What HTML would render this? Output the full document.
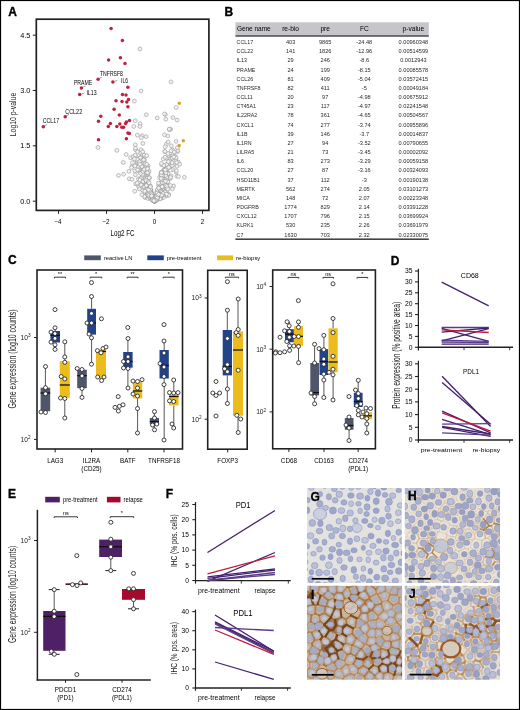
<!DOCTYPE html>
<html><head><meta charset="utf-8"><title>Figure</title><style>
html,body{margin:0;padding:0;background:#fff;width:520px;height:710px;overflow:hidden}
svg{display:block;will-change:transform}
text{font-family:"Liberation Sans",sans-serif}
</style></head><body>
<svg width="520" height="710" viewBox="0 0 520 710">
<defs><filter id="blur" x="-5%" y="-5%" width="110%" height="110%"><feGaussianBlur stdDeviation="0.65"/></filter></defs>
<rect x="0" y="0" width="520" height="710" fill="#fff"/>
<text x="8.3" y="15.9" font-size="12" text-anchor="start" font-weight="bold" fill="#000" stroke="#000" stroke-width="0.35">A</text>
<circle cx="150.8" cy="196.2" r="1.9" fill="#f2f2f2" stroke="#959595" stroke-width="0.6"/>
<circle cx="151.2" cy="193.9" r="1.9" fill="#f2f2f2" stroke="#959595" stroke-width="0.6"/>
<circle cx="141.1" cy="157.4" r="1.9" fill="#f2f2f2" stroke="#959595" stroke-width="0.6"/>
<circle cx="170.5" cy="167.2" r="1.9" fill="#f2f2f2" stroke="#959595" stroke-width="0.6"/>
<circle cx="169.4" cy="165.9" r="1.9" fill="#f2f2f2" stroke="#959595" stroke-width="0.6"/>
<circle cx="160.2" cy="191.0" r="1.9" fill="#f2f2f2" stroke="#959595" stroke-width="0.6"/>
<circle cx="130.5" cy="157.7" r="1.9" fill="#f2f2f2" stroke="#959595" stroke-width="0.6"/>
<circle cx="161.8" cy="190.0" r="1.9" fill="#f2f2f2" stroke="#959595" stroke-width="0.6"/>
<circle cx="158.9" cy="194.6" r="1.9" fill="#f2f2f2" stroke="#959595" stroke-width="0.6"/>
<circle cx="145.0" cy="194.3" r="1.9" fill="#f2f2f2" stroke="#959595" stroke-width="0.6"/>
<circle cx="162.5" cy="193.3" r="1.9" fill="#f2f2f2" stroke="#959595" stroke-width="0.6"/>
<circle cx="145.6" cy="164.3" r="1.9" fill="#f2f2f2" stroke="#959595" stroke-width="0.6"/>
<circle cx="149.5" cy="190.7" r="1.9" fill="#f2f2f2" stroke="#959595" stroke-width="0.6"/>
<circle cx="163.6" cy="183.5" r="1.9" fill="#f2f2f2" stroke="#959595" stroke-width="0.6"/>
<circle cx="148.1" cy="173.8" r="1.9" fill="#f2f2f2" stroke="#959595" stroke-width="0.6"/>
<circle cx="147.0" cy="194.0" r="1.9" fill="#f2f2f2" stroke="#959595" stroke-width="0.6"/>
<circle cx="142.9" cy="176.4" r="1.9" fill="#f2f2f2" stroke="#959595" stroke-width="0.6"/>
<circle cx="155.2" cy="200.7" r="1.9" fill="#f2f2f2" stroke="#959595" stroke-width="0.6"/>
<circle cx="145.0" cy="197.5" r="1.9" fill="#f2f2f2" stroke="#959595" stroke-width="0.6"/>
<circle cx="165.5" cy="184.7" r="1.9" fill="#f2f2f2" stroke="#959595" stroke-width="0.6"/>
<circle cx="154.9" cy="200.4" r="1.9" fill="#f2f2f2" stroke="#959595" stroke-width="0.6"/>
<circle cx="150.4" cy="193.6" r="1.9" fill="#f2f2f2" stroke="#959595" stroke-width="0.6"/>
<circle cx="148.0" cy="165.7" r="1.9" fill="#f2f2f2" stroke="#959595" stroke-width="0.6"/>
<circle cx="175.3" cy="157.1" r="1.9" fill="#f2f2f2" stroke="#959595" stroke-width="0.6"/>
<circle cx="159.6" cy="184.1" r="1.9" fill="#f2f2f2" stroke="#959595" stroke-width="0.6"/>
<circle cx="138.4" cy="178.9" r="1.9" fill="#f2f2f2" stroke="#959595" stroke-width="0.6"/>
<circle cx="170.4" cy="159.6" r="1.9" fill="#f2f2f2" stroke="#959595" stroke-width="0.6"/>
<circle cx="158.0" cy="196.2" r="1.9" fill="#f2f2f2" stroke="#959595" stroke-width="0.6"/>
<circle cx="177.5" cy="151.6" r="1.9" fill="#f2f2f2" stroke="#959595" stroke-width="0.6"/>
<circle cx="154.7" cy="201.0" r="1.9" fill="#f2f2f2" stroke="#959595" stroke-width="0.6"/>
<circle cx="158.6" cy="191.8" r="1.9" fill="#f2f2f2" stroke="#959595" stroke-width="0.6"/>
<circle cx="137.2" cy="162.4" r="1.9" fill="#f2f2f2" stroke="#959595" stroke-width="0.6"/>
<circle cx="151.9" cy="198.7" r="1.9" fill="#f2f2f2" stroke="#959595" stroke-width="0.6"/>
<circle cx="135.6" cy="183.9" r="1.9" fill="#f2f2f2" stroke="#959595" stroke-width="0.6"/>
<circle cx="162.4" cy="181.4" r="1.9" fill="#f2f2f2" stroke="#959595" stroke-width="0.6"/>
<circle cx="159.2" cy="195.2" r="1.9" fill="#f2f2f2" stroke="#959595" stroke-width="0.6"/>
<circle cx="156.2" cy="199.7" r="1.9" fill="#f2f2f2" stroke="#959595" stroke-width="0.6"/>
<circle cx="145.0" cy="170.0" r="1.9" fill="#f2f2f2" stroke="#959595" stroke-width="0.6"/>
<circle cx="169.5" cy="158.6" r="1.9" fill="#f2f2f2" stroke="#959595" stroke-width="0.6"/>
<circle cx="141.8" cy="184.6" r="1.9" fill="#f2f2f2" stroke="#959595" stroke-width="0.6"/>
<circle cx="158.8" cy="185.6" r="1.9" fill="#f2f2f2" stroke="#959595" stroke-width="0.6"/>
<circle cx="149.1" cy="192.1" r="1.9" fill="#f2f2f2" stroke="#959595" stroke-width="0.6"/>
<circle cx="151.1" cy="193.7" r="1.9" fill="#f2f2f2" stroke="#959595" stroke-width="0.6"/>
<circle cx="163.5" cy="184.2" r="1.9" fill="#f2f2f2" stroke="#959595" stroke-width="0.6"/>
<circle cx="161.4" cy="192.5" r="1.9" fill="#f2f2f2" stroke="#959595" stroke-width="0.6"/>
<circle cx="154.8" cy="200.7" r="1.9" fill="#f2f2f2" stroke="#959595" stroke-width="0.6"/>
<circle cx="158.4" cy="195.5" r="1.9" fill="#f2f2f2" stroke="#959595" stroke-width="0.6"/>
<circle cx="152.4" cy="197.8" r="1.9" fill="#f2f2f2" stroke="#959595" stroke-width="0.6"/>
<circle cx="154.3" cy="201.0" r="1.9" fill="#f2f2f2" stroke="#959595" stroke-width="0.6"/>
<circle cx="149.7" cy="193.8" r="1.9" fill="#f2f2f2" stroke="#959595" stroke-width="0.6"/>
<circle cx="138.3" cy="161.3" r="1.9" fill="#f2f2f2" stroke="#959595" stroke-width="0.6"/>
<circle cx="160.2" cy="191.3" r="1.9" fill="#f2f2f2" stroke="#959595" stroke-width="0.6"/>
<circle cx="148.3" cy="192.9" r="1.9" fill="#f2f2f2" stroke="#959595" stroke-width="0.6"/>
<circle cx="158.6" cy="190.3" r="1.9" fill="#f2f2f2" stroke="#959595" stroke-width="0.6"/>
<circle cx="146.5" cy="182.0" r="1.9" fill="#f2f2f2" stroke="#959595" stroke-width="0.6"/>
<circle cx="151.3" cy="195.0" r="1.9" fill="#f2f2f2" stroke="#959595" stroke-width="0.6"/>
<circle cx="148.7" cy="192.4" r="1.9" fill="#f2f2f2" stroke="#959595" stroke-width="0.6"/>
<circle cx="156.9" cy="191.9" r="1.9" fill="#f2f2f2" stroke="#959595" stroke-width="0.6"/>
<circle cx="156.8" cy="194.1" r="1.9" fill="#f2f2f2" stroke="#959595" stroke-width="0.6"/>
<circle cx="158.9" cy="198.4" r="1.9" fill="#f2f2f2" stroke="#959595" stroke-width="0.6"/>
<circle cx="157.0" cy="199.0" r="1.9" fill="#f2f2f2" stroke="#959595" stroke-width="0.6"/>
<circle cx="152.3" cy="197.9" r="1.9" fill="#f2f2f2" stroke="#959595" stroke-width="0.6"/>
<circle cx="166.0" cy="174.8" r="1.9" fill="#f2f2f2" stroke="#959595" stroke-width="0.6"/>
<circle cx="153.2" cy="200.3" r="1.9" fill="#f2f2f2" stroke="#959595" stroke-width="0.6"/>
<circle cx="147.8" cy="191.3" r="1.9" fill="#f2f2f2" stroke="#959595" stroke-width="0.6"/>
<circle cx="155.9" cy="199.6" r="1.9" fill="#f2f2f2" stroke="#959595" stroke-width="0.6"/>
<circle cx="160.2" cy="196.3" r="1.9" fill="#f2f2f2" stroke="#959595" stroke-width="0.6"/>
<circle cx="172.7" cy="169.5" r="1.9" fill="#f2f2f2" stroke="#959595" stroke-width="0.6"/>
<circle cx="145.6" cy="181.7" r="1.9" fill="#f2f2f2" stroke="#959595" stroke-width="0.6"/>
<circle cx="157.7" cy="191.1" r="1.9" fill="#f2f2f2" stroke="#959595" stroke-width="0.6"/>
<circle cx="142.9" cy="182.6" r="1.9" fill="#f2f2f2" stroke="#959595" stroke-width="0.6"/>
<circle cx="160.3" cy="192.3" r="1.9" fill="#f2f2f2" stroke="#959595" stroke-width="0.6"/>
<circle cx="147.1" cy="172.5" r="1.9" fill="#f2f2f2" stroke="#959595" stroke-width="0.6"/>
<circle cx="147.2" cy="183.4" r="1.9" fill="#f2f2f2" stroke="#959595" stroke-width="0.6"/>
<circle cx="157.2" cy="198.2" r="1.9" fill="#f2f2f2" stroke="#959595" stroke-width="0.6"/>
<circle cx="151.7" cy="197.9" r="1.9" fill="#f2f2f2" stroke="#959595" stroke-width="0.6"/>
<circle cx="144.9" cy="170.2" r="1.9" fill="#f2f2f2" stroke="#959595" stroke-width="0.6"/>
<circle cx="147.8" cy="189.4" r="1.9" fill="#f2f2f2" stroke="#959595" stroke-width="0.6"/>
<circle cx="165.9" cy="157.8" r="1.9" fill="#f2f2f2" stroke="#959595" stroke-width="0.6"/>
<circle cx="136.1" cy="156.6" r="1.9" fill="#f2f2f2" stroke="#959595" stroke-width="0.6"/>
<circle cx="126.2" cy="154.5" r="1.9" fill="#f2f2f2" stroke="#959595" stroke-width="0.6"/>
<circle cx="137.3" cy="135.1" r="1.9" fill="#f2f2f2" stroke="#959595" stroke-width="0.6"/>
<circle cx="146.0" cy="184.8" r="1.9" fill="#f2f2f2" stroke="#959595" stroke-width="0.6"/>
<circle cx="146.5" cy="192.7" r="1.9" fill="#f2f2f2" stroke="#959595" stroke-width="0.6"/>
<circle cx="144.4" cy="170.6" r="1.9" fill="#f2f2f2" stroke="#959595" stroke-width="0.6"/>
<circle cx="150.3" cy="198.4" r="1.9" fill="#f2f2f2" stroke="#959595" stroke-width="0.6"/>
<circle cx="137.5" cy="162.3" r="1.9" fill="#f2f2f2" stroke="#959595" stroke-width="0.6"/>
<circle cx="164.9" cy="169.3" r="1.9" fill="#f2f2f2" stroke="#959595" stroke-width="0.6"/>
<circle cx="158.7" cy="190.4" r="1.9" fill="#f2f2f2" stroke="#959595" stroke-width="0.6"/>
<circle cx="165.7" cy="184.9" r="1.9" fill="#f2f2f2" stroke="#959595" stroke-width="0.6"/>
<circle cx="164.1" cy="183.2" r="1.9" fill="#f2f2f2" stroke="#959595" stroke-width="0.6"/>
<circle cx="173.7" cy="164.6" r="1.9" fill="#f2f2f2" stroke="#959595" stroke-width="0.6"/>
<circle cx="167.4" cy="188.1" r="1.9" fill="#f2f2f2" stroke="#959595" stroke-width="0.6"/>
<circle cx="150.2" cy="190.0" r="1.9" fill="#f2f2f2" stroke="#959595" stroke-width="0.6"/>
<circle cx="161.3" cy="198.2" r="1.9" fill="#f2f2f2" stroke="#959595" stroke-width="0.6"/>
<circle cx="141.1" cy="179.8" r="1.9" fill="#f2f2f2" stroke="#959595" stroke-width="0.6"/>
<circle cx="138.7" cy="170.0" r="1.9" fill="#f2f2f2" stroke="#959595" stroke-width="0.6"/>
<circle cx="149.5" cy="194.3" r="1.9" fill="#f2f2f2" stroke="#959595" stroke-width="0.6"/>
<circle cx="144.9" cy="192.9" r="1.9" fill="#f2f2f2" stroke="#959595" stroke-width="0.6"/>
<circle cx="172.7" cy="150.0" r="1.9" fill="#f2f2f2" stroke="#959595" stroke-width="0.6"/>
<circle cx="167.3" cy="169.3" r="1.9" fill="#f2f2f2" stroke="#959595" stroke-width="0.6"/>
<circle cx="142.2" cy="135.7" r="1.9" fill="#f2f2f2" stroke="#959595" stroke-width="0.6"/>
<circle cx="163.4" cy="186.5" r="1.9" fill="#f2f2f2" stroke="#959595" stroke-width="0.6"/>
<circle cx="164.9" cy="186.7" r="1.9" fill="#f2f2f2" stroke="#959595" stroke-width="0.6"/>
<circle cx="173.6" cy="186.0" r="1.9" fill="#f2f2f2" stroke="#959595" stroke-width="0.6"/>
<circle cx="175.1" cy="156.4" r="1.9" fill="#f2f2f2" stroke="#959595" stroke-width="0.6"/>
<circle cx="156.4" cy="197.0" r="1.9" fill="#f2f2f2" stroke="#959595" stroke-width="0.6"/>
<circle cx="157.8" cy="193.9" r="1.9" fill="#f2f2f2" stroke="#959595" stroke-width="0.6"/>
<circle cx="164.8" cy="151.7" r="1.9" fill="#f2f2f2" stroke="#959595" stroke-width="0.6"/>
<circle cx="166.6" cy="184.9" r="1.9" fill="#f2f2f2" stroke="#959595" stroke-width="0.6"/>
<circle cx="155.0" cy="200.6" r="1.9" fill="#f2f2f2" stroke="#959595" stroke-width="0.6"/>
<circle cx="156.9" cy="197.6" r="1.9" fill="#f2f2f2" stroke="#959595" stroke-width="0.6"/>
<circle cx="158.2" cy="197.1" r="1.9" fill="#f2f2f2" stroke="#959595" stroke-width="0.6"/>
<circle cx="146.3" cy="194.9" r="1.9" fill="#f2f2f2" stroke="#959595" stroke-width="0.6"/>
<circle cx="150.3" cy="197.3" r="1.9" fill="#f2f2f2" stroke="#959595" stroke-width="0.6"/>
<circle cx="160.3" cy="194.3" r="1.9" fill="#f2f2f2" stroke="#959595" stroke-width="0.6"/>
<circle cx="165.4" cy="175.7" r="1.9" fill="#f2f2f2" stroke="#959595" stroke-width="0.6"/>
<circle cx="160.6" cy="194.9" r="1.9" fill="#f2f2f2" stroke="#959595" stroke-width="0.6"/>
<circle cx="160.8" cy="186.3" r="1.9" fill="#f2f2f2" stroke="#959595" stroke-width="0.6"/>
<circle cx="160.9" cy="173.7" r="1.9" fill="#f2f2f2" stroke="#959595" stroke-width="0.6"/>
<circle cx="139.5" cy="188.1" r="1.9" fill="#f2f2f2" stroke="#959595" stroke-width="0.6"/>
<circle cx="149.0" cy="171.1" r="1.9" fill="#f2f2f2" stroke="#959595" stroke-width="0.6"/>
<circle cx="143.5" cy="182.5" r="1.9" fill="#f2f2f2" stroke="#959595" stroke-width="0.6"/>
<circle cx="161.7" cy="187.5" r="1.9" fill="#f2f2f2" stroke="#959595" stroke-width="0.6"/>
<circle cx="175.9" cy="159.9" r="1.9" fill="#f2f2f2" stroke="#959595" stroke-width="0.6"/>
<circle cx="154.2" cy="200.9" r="1.9" fill="#f2f2f2" stroke="#959595" stroke-width="0.6"/>
<circle cx="178.3" cy="162.1" r="1.9" fill="#f2f2f2" stroke="#959595" stroke-width="0.6"/>
<circle cx="155.1" cy="200.6" r="1.9" fill="#f2f2f2" stroke="#959595" stroke-width="0.6"/>
<circle cx="146.3" cy="184.7" r="1.9" fill="#f2f2f2" stroke="#959595" stroke-width="0.6"/>
<circle cx="143.9" cy="179.6" r="1.9" fill="#f2f2f2" stroke="#959595" stroke-width="0.6"/>
<circle cx="144.2" cy="171.2" r="1.9" fill="#f2f2f2" stroke="#959595" stroke-width="0.6"/>
<circle cx="166.6" cy="164.4" r="1.9" fill="#f2f2f2" stroke="#959595" stroke-width="0.6"/>
<circle cx="154.1" cy="200.6" r="1.9" fill="#f2f2f2" stroke="#959595" stroke-width="0.6"/>
<circle cx="142.5" cy="183.6" r="1.9" fill="#f2f2f2" stroke="#959595" stroke-width="0.6"/>
<circle cx="144.9" cy="177.9" r="1.9" fill="#f2f2f2" stroke="#959595" stroke-width="0.6"/>
<circle cx="153.1" cy="198.8" r="1.9" fill="#f2f2f2" stroke="#959595" stroke-width="0.6"/>
<circle cx="153.9" cy="200.5" r="1.9" fill="#f2f2f2" stroke="#959595" stroke-width="0.6"/>
<circle cx="151.1" cy="195.6" r="1.9" fill="#f2f2f2" stroke="#959595" stroke-width="0.6"/>
<circle cx="166.6" cy="172.2" r="1.9" fill="#f2f2f2" stroke="#959595" stroke-width="0.6"/>
<circle cx="156.6" cy="199.6" r="1.9" fill="#f2f2f2" stroke="#959595" stroke-width="0.6"/>
<circle cx="144.7" cy="185.6" r="1.9" fill="#f2f2f2" stroke="#959595" stroke-width="0.6"/>
<circle cx="162.7" cy="182.1" r="1.9" fill="#f2f2f2" stroke="#959595" stroke-width="0.6"/>
<circle cx="165.7" cy="186.9" r="1.9" fill="#f2f2f2" stroke="#959595" stroke-width="0.6"/>
<circle cx="155.0" cy="200.6" r="1.9" fill="#f2f2f2" stroke="#959595" stroke-width="0.6"/>
<circle cx="163.6" cy="188.3" r="1.9" fill="#f2f2f2" stroke="#959595" stroke-width="0.6"/>
<circle cx="176.1" cy="172.1" r="1.9" fill="#f2f2f2" stroke="#959595" stroke-width="0.6"/>
<circle cx="147.5" cy="167.7" r="1.9" fill="#f2f2f2" stroke="#959595" stroke-width="0.6"/>
<circle cx="176.0" cy="157.7" r="1.9" fill="#f2f2f2" stroke="#959595" stroke-width="0.6"/>
<circle cx="154.4" cy="201.1" r="1.9" fill="#f2f2f2" stroke="#959595" stroke-width="0.6"/>
<circle cx="152.2" cy="199.7" r="1.9" fill="#f2f2f2" stroke="#959595" stroke-width="0.6"/>
<circle cx="161.1" cy="196.3" r="1.9" fill="#f2f2f2" stroke="#959595" stroke-width="0.6"/>
<circle cx="161.1" cy="192.0" r="1.9" fill="#f2f2f2" stroke="#959595" stroke-width="0.6"/>
<circle cx="154.0" cy="199.8" r="1.9" fill="#f2f2f2" stroke="#959595" stroke-width="0.6"/>
<circle cx="152.4" cy="197.5" r="1.9" fill="#f2f2f2" stroke="#959595" stroke-width="0.6"/>
<circle cx="165.1" cy="180.2" r="1.9" fill="#f2f2f2" stroke="#959595" stroke-width="0.6"/>
<circle cx="150.1" cy="197.1" r="1.9" fill="#f2f2f2" stroke="#959595" stroke-width="0.6"/>
<circle cx="138.8" cy="163.0" r="1.9" fill="#f2f2f2" stroke="#959595" stroke-width="0.6"/>
<circle cx="176.9" cy="176.3" r="1.9" fill="#f2f2f2" stroke="#959595" stroke-width="0.6"/>
<circle cx="167.0" cy="195.9" r="1.9" fill="#f2f2f2" stroke="#959595" stroke-width="0.6"/>
<circle cx="157.0" cy="196.6" r="1.9" fill="#f2f2f2" stroke="#959595" stroke-width="0.6"/>
<circle cx="143.7" cy="178.8" r="1.9" fill="#f2f2f2" stroke="#959595" stroke-width="0.6"/>
<circle cx="163.2" cy="197.0" r="1.9" fill="#f2f2f2" stroke="#959595" stroke-width="0.6"/>
<circle cx="159.1" cy="197.2" r="1.9" fill="#f2f2f2" stroke="#959595" stroke-width="0.6"/>
<circle cx="165.5" cy="187.4" r="1.9" fill="#f2f2f2" stroke="#959595" stroke-width="0.6"/>
<circle cx="161.8" cy="183.3" r="1.9" fill="#f2f2f2" stroke="#959595" stroke-width="0.6"/>
<circle cx="161.8" cy="164.9" r="1.9" fill="#f2f2f2" stroke="#959595" stroke-width="0.6"/>
<circle cx="167.8" cy="136.0" r="1.9" fill="#f2f2f2" stroke="#959595" stroke-width="0.6"/>
<circle cx="171.2" cy="150.8" r="1.9" fill="#f2f2f2" stroke="#959595" stroke-width="0.6"/>
<circle cx="152.0" cy="197.9" r="1.9" fill="#f2f2f2" stroke="#959595" stroke-width="0.6"/>
<circle cx="147.5" cy="192.1" r="1.9" fill="#f2f2f2" stroke="#959595" stroke-width="0.6"/>
<circle cx="155.0" cy="200.4" r="1.9" fill="#f2f2f2" stroke="#959595" stroke-width="0.6"/>
<circle cx="178.5" cy="176.5" r="1.9" fill="#f2f2f2" stroke="#959595" stroke-width="0.6"/>
<circle cx="151.1" cy="197.6" r="1.9" fill="#f2f2f2" stroke="#959595" stroke-width="0.6"/>
<circle cx="143.0" cy="156.7" r="1.9" fill="#f2f2f2" stroke="#959595" stroke-width="0.6"/>
<circle cx="153.8" cy="200.2" r="1.9" fill="#f2f2f2" stroke="#959595" stroke-width="0.6"/>
<circle cx="176.4" cy="170.7" r="1.9" fill="#f2f2f2" stroke="#959595" stroke-width="0.6"/>
<circle cx="147.0" cy="197.5" r="1.9" fill="#f2f2f2" stroke="#959595" stroke-width="0.6"/>
<circle cx="154.5" cy="201.2" r="1.9" fill="#f2f2f2" stroke="#959595" stroke-width="0.6"/>
<circle cx="145.2" cy="178.4" r="1.9" fill="#f2f2f2" stroke="#959595" stroke-width="0.6"/>
<circle cx="129.3" cy="178.8" r="1.9" fill="#f2f2f2" stroke="#959595" stroke-width="0.6"/>
<circle cx="153.6" cy="199.5" r="1.9" fill="#f2f2f2" stroke="#959595" stroke-width="0.6"/>
<circle cx="152.8" cy="195.4" r="1.9" fill="#f2f2f2" stroke="#959595" stroke-width="0.6"/>
<circle cx="153.5" cy="199.8" r="1.9" fill="#f2f2f2" stroke="#959595" stroke-width="0.6"/>
<circle cx="161.2" cy="184.3" r="1.9" fill="#f2f2f2" stroke="#959595" stroke-width="0.6"/>
<circle cx="141.5" cy="170.2" r="1.9" fill="#f2f2f2" stroke="#959595" stroke-width="0.6"/>
<circle cx="147.5" cy="195.9" r="1.9" fill="#f2f2f2" stroke="#959595" stroke-width="0.6"/>
<circle cx="165.6" cy="170.7" r="1.9" fill="#f2f2f2" stroke="#959595" stroke-width="0.6"/>
<circle cx="147.7" cy="177.0" r="1.9" fill="#f2f2f2" stroke="#959595" stroke-width="0.6"/>
<circle cx="141.0" cy="151.4" r="1.9" fill="#f2f2f2" stroke="#959595" stroke-width="0.6"/>
<circle cx="159.7" cy="194.2" r="1.9" fill="#f2f2f2" stroke="#959595" stroke-width="0.6"/>
<circle cx="147.0" cy="186.6" r="1.9" fill="#f2f2f2" stroke="#959595" stroke-width="0.6"/>
<circle cx="156.7" cy="198.2" r="1.9" fill="#f2f2f2" stroke="#959595" stroke-width="0.6"/>
<circle cx="151.1" cy="196.2" r="1.9" fill="#f2f2f2" stroke="#959595" stroke-width="0.6"/>
<circle cx="155.3" cy="200.4" r="1.9" fill="#f2f2f2" stroke="#959595" stroke-width="0.6"/>
<circle cx="141.8" cy="178.8" r="1.9" fill="#f2f2f2" stroke="#959595" stroke-width="0.6"/>
<circle cx="140.7" cy="157.6" r="1.9" fill="#f2f2f2" stroke="#959595" stroke-width="0.6"/>
<circle cx="151.8" cy="197.2" r="1.9" fill="#f2f2f2" stroke="#959595" stroke-width="0.6"/>
<circle cx="148.0" cy="198.5" r="1.9" fill="#f2f2f2" stroke="#959595" stroke-width="0.6"/>
<circle cx="166.5" cy="184.6" r="1.9" fill="#f2f2f2" stroke="#959595" stroke-width="0.6"/>
<circle cx="156.9" cy="198.5" r="1.9" fill="#f2f2f2" stroke="#959595" stroke-width="0.6"/>
<circle cx="154.6" cy="201.1" r="1.9" fill="#f2f2f2" stroke="#959595" stroke-width="0.6"/>
<circle cx="158.2" cy="194.6" r="1.9" fill="#f2f2f2" stroke="#959595" stroke-width="0.6"/>
<circle cx="135.6" cy="149.8" r="1.9" fill="#f2f2f2" stroke="#959595" stroke-width="0.6"/>
<circle cx="128.9" cy="171.4" r="1.9" fill="#f2f2f2" stroke="#959595" stroke-width="0.6"/>
<circle cx="165.2" cy="171.6" r="1.9" fill="#f2f2f2" stroke="#959595" stroke-width="0.6"/>
<circle cx="161.0" cy="190.6" r="1.9" fill="#f2f2f2" stroke="#959595" stroke-width="0.6"/>
<circle cx="156.0" cy="196.4" r="1.9" fill="#f2f2f2" stroke="#959595" stroke-width="0.6"/>
<circle cx="150.6" cy="193.5" r="1.9" fill="#f2f2f2" stroke="#959595" stroke-width="0.6"/>
<circle cx="156.6" cy="195.5" r="1.9" fill="#f2f2f2" stroke="#959595" stroke-width="0.6"/>
<circle cx="162.1" cy="189.8" r="1.9" fill="#f2f2f2" stroke="#959595" stroke-width="0.6"/>
<circle cx="170.4" cy="170.2" r="1.9" fill="#f2f2f2" stroke="#959595" stroke-width="0.6"/>
<circle cx="142.1" cy="152.1" r="1.9" fill="#f2f2f2" stroke="#959595" stroke-width="0.6"/>
<circle cx="152.8" cy="198.2" r="1.9" fill="#f2f2f2" stroke="#959595" stroke-width="0.6"/>
<circle cx="149.4" cy="196.1" r="1.9" fill="#f2f2f2" stroke="#959595" stroke-width="0.6"/>
<circle cx="144.1" cy="177.7" r="1.9" fill="#f2f2f2" stroke="#959595" stroke-width="0.6"/>
<circle cx="155.2" cy="200.9" r="1.9" fill="#f2f2f2" stroke="#959595" stroke-width="0.6"/>
<circle cx="151.0" cy="190.2" r="1.9" fill="#f2f2f2" stroke="#959595" stroke-width="0.6"/>
<circle cx="171.3" cy="156.1" r="1.9" fill="#f2f2f2" stroke="#959595" stroke-width="0.6"/>
<circle cx="144.8" cy="183.5" r="1.9" fill="#f2f2f2" stroke="#959595" stroke-width="0.6"/>
<circle cx="155.1" cy="200.4" r="1.9" fill="#f2f2f2" stroke="#959595" stroke-width="0.6"/>
<circle cx="146.6" cy="191.7" r="1.9" fill="#f2f2f2" stroke="#959595" stroke-width="0.6"/>
<circle cx="150.6" cy="190.1" r="1.9" fill="#f2f2f2" stroke="#959595" stroke-width="0.6"/>
<circle cx="144.7" cy="177.4" r="1.9" fill="#f2f2f2" stroke="#959595" stroke-width="0.6"/>
<circle cx="166.7" cy="164.5" r="1.9" fill="#f2f2f2" stroke="#959595" stroke-width="0.6"/>
<circle cx="158.9" cy="187.9" r="1.9" fill="#f2f2f2" stroke="#959595" stroke-width="0.6"/>
<circle cx="158.8" cy="198.2" r="1.9" fill="#f2f2f2" stroke="#959595" stroke-width="0.6"/>
<circle cx="144.6" cy="196.4" r="1.9" fill="#f2f2f2" stroke="#959595" stroke-width="0.6"/>
<circle cx="145.2" cy="179.6" r="1.9" fill="#f2f2f2" stroke="#959595" stroke-width="0.6"/>
<circle cx="157.0" cy="198.8" r="1.9" fill="#f2f2f2" stroke="#959595" stroke-width="0.6"/>
<circle cx="163.2" cy="189.8" r="1.9" fill="#f2f2f2" stroke="#959595" stroke-width="0.6"/>
<circle cx="163.5" cy="197.5" r="1.9" fill="#f2f2f2" stroke="#959595" stroke-width="0.6"/>
<circle cx="157.5" cy="196.7" r="1.9" fill="#f2f2f2" stroke="#959595" stroke-width="0.6"/>
<circle cx="167.9" cy="173.8" r="1.9" fill="#f2f2f2" stroke="#959595" stroke-width="0.6"/>
<circle cx="150.1" cy="195.3" r="1.9" fill="#f2f2f2" stroke="#959595" stroke-width="0.6"/>
<circle cx="147.3" cy="172.1" r="1.9" fill="#f2f2f2" stroke="#959595" stroke-width="0.6"/>
<circle cx="145.4" cy="187.8" r="1.9" fill="#f2f2f2" stroke="#959595" stroke-width="0.6"/>
<circle cx="155.0" cy="200.4" r="1.9" fill="#f2f2f2" stroke="#959595" stroke-width="0.6"/>
<circle cx="152.0" cy="198.7" r="1.9" fill="#f2f2f2" stroke="#959595" stroke-width="0.6"/>
<circle cx="161.6" cy="184.2" r="1.9" fill="#f2f2f2" stroke="#959595" stroke-width="0.6"/>
<circle cx="164.1" cy="175.6" r="1.9" fill="#f2f2f2" stroke="#959595" stroke-width="0.6"/>
<circle cx="137.9" cy="184.9" r="1.9" fill="#f2f2f2" stroke="#959595" stroke-width="0.6"/>
<circle cx="161.2" cy="172.3" r="1.9" fill="#f2f2f2" stroke="#959595" stroke-width="0.6"/>
<circle cx="170.0" cy="166.6" r="1.9" fill="#f2f2f2" stroke="#959595" stroke-width="0.6"/>
<circle cx="132.0" cy="179.3" r="1.9" fill="#f2f2f2" stroke="#959595" stroke-width="0.6"/>
<circle cx="159.3" cy="195.9" r="1.9" fill="#f2f2f2" stroke="#959595" stroke-width="0.6"/>
<circle cx="157.3" cy="195.6" r="1.9" fill="#f2f2f2" stroke="#959595" stroke-width="0.6"/>
<circle cx="132.2" cy="165.7" r="1.9" fill="#f2f2f2" stroke="#959595" stroke-width="0.6"/>
<circle cx="154.9" cy="200.4" r="1.9" fill="#f2f2f2" stroke="#959595" stroke-width="0.6"/>
<circle cx="159.6" cy="191.7" r="1.9" fill="#f2f2f2" stroke="#959595" stroke-width="0.6"/>
<circle cx="164.2" cy="170.1" r="1.9" fill="#f2f2f2" stroke="#959595" stroke-width="0.6"/>
<circle cx="148.4" cy="193.2" r="1.9" fill="#f2f2f2" stroke="#959595" stroke-width="0.6"/>
<circle cx="151.9" cy="193.2" r="1.9" fill="#f2f2f2" stroke="#959595" stroke-width="0.6"/>
<circle cx="154.3" cy="200.9" r="1.9" fill="#f2f2f2" stroke="#959595" stroke-width="0.6"/>
<circle cx="164.9" cy="177.7" r="1.9" fill="#f2f2f2" stroke="#959595" stroke-width="0.6"/>
<circle cx="168.1" cy="153.5" r="1.9" fill="#f2f2f2" stroke="#959595" stroke-width="0.6"/>
<circle cx="139.3" cy="171.5" r="1.9" fill="#f2f2f2" stroke="#959595" stroke-width="0.6"/>
<circle cx="162.7" cy="178.3" r="1.9" fill="#f2f2f2" stroke="#959595" stroke-width="0.6"/>
<circle cx="144.5" cy="163.5" r="1.9" fill="#f2f2f2" stroke="#959595" stroke-width="0.6"/>
<circle cx="148.7" cy="194.5" r="1.9" fill="#f2f2f2" stroke="#959595" stroke-width="0.6"/>
<circle cx="155.7" cy="198.7" r="1.9" fill="#f2f2f2" stroke="#959595" stroke-width="0.6"/>
<circle cx="162.3" cy="195.2" r="1.9" fill="#f2f2f2" stroke="#959595" stroke-width="0.6"/>
<circle cx="154.6" cy="201.1" r="1.9" fill="#f2f2f2" stroke="#959595" stroke-width="0.6"/>
<circle cx="172.4" cy="155.8" r="1.9" fill="#f2f2f2" stroke="#959595" stroke-width="0.6"/>
<circle cx="153.9" cy="200.5" r="1.9" fill="#f2f2f2" stroke="#959595" stroke-width="0.6"/>
<circle cx="168.4" cy="178.2" r="1.9" fill="#f2f2f2" stroke="#959595" stroke-width="0.6"/>
<circle cx="150.6" cy="186.2" r="1.9" fill="#f2f2f2" stroke="#959595" stroke-width="0.6"/>
<circle cx="156.0" cy="199.8" r="1.9" fill="#f2f2f2" stroke="#959595" stroke-width="0.6"/>
<circle cx="161.0" cy="178.5" r="1.9" fill="#f2f2f2" stroke="#959595" stroke-width="0.6"/>
<circle cx="141.8" cy="154.2" r="1.9" fill="#f2f2f2" stroke="#959595" stroke-width="0.6"/>
<circle cx="157.9" cy="197.2" r="1.9" fill="#f2f2f2" stroke="#959595" stroke-width="0.6"/>
<circle cx="154.7" cy="200.9" r="1.9" fill="#f2f2f2" stroke="#959595" stroke-width="0.6"/>
<circle cx="144.1" cy="174.8" r="1.9" fill="#f2f2f2" stroke="#959595" stroke-width="0.6"/>
<circle cx="167.6" cy="180.2" r="1.9" fill="#f2f2f2" stroke="#959595" stroke-width="0.6"/>
<circle cx="158.0" cy="194.0" r="1.9" fill="#f2f2f2" stroke="#959595" stroke-width="0.6"/>
<circle cx="152.5" cy="198.7" r="1.9" fill="#f2f2f2" stroke="#959595" stroke-width="0.6"/>
<circle cx="168.8" cy="194.4" r="1.9" fill="#f2f2f2" stroke="#959595" stroke-width="0.6"/>
<circle cx="165.0" cy="151.3" r="1.9" fill="#f2f2f2" stroke="#959595" stroke-width="0.6"/>
<circle cx="169.8" cy="178.1" r="1.9" fill="#f2f2f2" stroke="#959595" stroke-width="0.6"/>
<circle cx="147.1" cy="178.4" r="1.9" fill="#f2f2f2" stroke="#959595" stroke-width="0.6"/>
<circle cx="149.1" cy="192.9" r="1.9" fill="#f2f2f2" stroke="#959595" stroke-width="0.6"/>
<circle cx="157.7" cy="197.6" r="1.9" fill="#f2f2f2" stroke="#959595" stroke-width="0.6"/>
<circle cx="167.3" cy="168.5" r="1.9" fill="#f2f2f2" stroke="#959595" stroke-width="0.6"/>
<circle cx="150.5" cy="190.1" r="1.9" fill="#f2f2f2" stroke="#959595" stroke-width="0.6"/>
<circle cx="150.8" cy="196.5" r="1.9" fill="#f2f2f2" stroke="#959595" stroke-width="0.6"/>
<circle cx="159.6" cy="177.3" r="1.9" fill="#f2f2f2" stroke="#959595" stroke-width="0.6"/>
<circle cx="160.6" cy="189.9" r="1.9" fill="#f2f2f2" stroke="#959595" stroke-width="0.6"/>
<circle cx="140.1" cy="178.9" r="1.9" fill="#f2f2f2" stroke="#959595" stroke-width="0.6"/>
<circle cx="150.5" cy="191.7" r="1.9" fill="#f2f2f2" stroke="#959595" stroke-width="0.6"/>
<circle cx="166.0" cy="190.0" r="1.9" fill="#f2f2f2" stroke="#959595" stroke-width="0.6"/>
<circle cx="144.6" cy="183.9" r="1.9" fill="#f2f2f2" stroke="#959595" stroke-width="0.6"/>
<circle cx="141.9" cy="194.7" r="1.9" fill="#f2f2f2" stroke="#959595" stroke-width="0.6"/>
<circle cx="147.4" cy="194.3" r="1.9" fill="#f2f2f2" stroke="#959595" stroke-width="0.6"/>
<circle cx="145.2" cy="188.9" r="1.9" fill="#f2f2f2" stroke="#959595" stroke-width="0.6"/>
<circle cx="148.2" cy="191.9" r="1.9" fill="#f2f2f2" stroke="#959595" stroke-width="0.6"/>
<circle cx="153.2" cy="197.9" r="1.9" fill="#f2f2f2" stroke="#959595" stroke-width="0.6"/>
<circle cx="160.8" cy="175.4" r="1.9" fill="#f2f2f2" stroke="#959595" stroke-width="0.6"/>
<circle cx="166.4" cy="144.1" r="1.9" fill="#f2f2f2" stroke="#959595" stroke-width="0.6"/>
<circle cx="159.7" cy="188.9" r="1.9" fill="#f2f2f2" stroke="#959595" stroke-width="0.6"/>
<circle cx="144.5" cy="160.2" r="1.9" fill="#f2f2f2" stroke="#959595" stroke-width="0.6"/>
<circle cx="146.4" cy="182.8" r="1.9" fill="#f2f2f2" stroke="#959595" stroke-width="0.6"/>
<circle cx="150.9" cy="198.0" r="1.9" fill="#f2f2f2" stroke="#959595" stroke-width="0.6"/>
<circle cx="160.7" cy="186.3" r="1.9" fill="#f2f2f2" stroke="#959595" stroke-width="0.6"/>
<circle cx="156.9" cy="198.0" r="1.9" fill="#f2f2f2" stroke="#959595" stroke-width="0.6"/>
<circle cx="149.8" cy="192.2" r="1.9" fill="#f2f2f2" stroke="#959595" stroke-width="0.6"/>
<circle cx="156.8" cy="195.1" r="1.9" fill="#f2f2f2" stroke="#959595" stroke-width="0.6"/>
<circle cx="131.5" cy="167.5" r="1.9" fill="#f2f2f2" stroke="#959595" stroke-width="0.6"/>
<circle cx="158.9" cy="189.0" r="1.9" fill="#f2f2f2" stroke="#959595" stroke-width="0.6"/>
<circle cx="157.4" cy="198.3" r="1.9" fill="#f2f2f2" stroke="#959595" stroke-width="0.6"/>
<circle cx="140.4" cy="157.8" r="1.9" fill="#f2f2f2" stroke="#959595" stroke-width="0.6"/>
<circle cx="162.3" cy="189.3" r="1.9" fill="#f2f2f2" stroke="#959595" stroke-width="0.6"/>
<circle cx="172.4" cy="157.9" r="1.9" fill="#f2f2f2" stroke="#959595" stroke-width="0.6"/>
<circle cx="154.7" cy="200.9" r="1.9" fill="#f2f2f2" stroke="#959595" stroke-width="0.6"/>
<circle cx="158.3" cy="191.8" r="1.9" fill="#f2f2f2" stroke="#959595" stroke-width="0.6"/>
<circle cx="149.3" cy="195.7" r="1.9" fill="#f2f2f2" stroke="#959595" stroke-width="0.6"/>
<circle cx="139.9" cy="169.7" r="1.9" fill="#f2f2f2" stroke="#959595" stroke-width="0.6"/>
<circle cx="156.8" cy="199.7" r="1.9" fill="#f2f2f2" stroke="#959595" stroke-width="0.6"/>
<circle cx="157.5" cy="190.3" r="1.9" fill="#f2f2f2" stroke="#959595" stroke-width="0.6"/>
<circle cx="161.5" cy="193.7" r="1.9" fill="#f2f2f2" stroke="#959595" stroke-width="0.6"/>
<circle cx="160.4" cy="191.5" r="1.9" fill="#f2f2f2" stroke="#959595" stroke-width="0.6"/>
<circle cx="148.8" cy="190.9" r="1.9" fill="#f2f2f2" stroke="#959595" stroke-width="0.6"/>
<circle cx="138.4" cy="167.1" r="1.9" fill="#f2f2f2" stroke="#959595" stroke-width="0.6"/>
<circle cx="174.3" cy="152.0" r="1.9" fill="#f2f2f2" stroke="#959595" stroke-width="0.6"/>
<circle cx="149.7" cy="191.7" r="1.9" fill="#f2f2f2" stroke="#959595" stroke-width="0.6"/>
<circle cx="140.5" cy="161.0" r="1.9" fill="#f2f2f2" stroke="#959595" stroke-width="0.6"/>
<circle cx="161.9" cy="182.9" r="1.9" fill="#f2f2f2" stroke="#959595" stroke-width="0.6"/>
<circle cx="168.6" cy="195.2" r="1.9" fill="#f2f2f2" stroke="#959595" stroke-width="0.6"/>
<circle cx="162.0" cy="180.8" r="1.9" fill="#f2f2f2" stroke="#959595" stroke-width="0.6"/>
<circle cx="166.8" cy="177.0" r="1.9" fill="#f2f2f2" stroke="#959595" stroke-width="0.6"/>
<circle cx="154.8" cy="200.5" r="1.9" fill="#f2f2f2" stroke="#959595" stroke-width="0.6"/>
<circle cx="163.7" cy="169.8" r="1.9" fill="#f2f2f2" stroke="#959595" stroke-width="0.6"/>
<circle cx="157.7" cy="193.1" r="1.9" fill="#f2f2f2" stroke="#959595" stroke-width="0.6"/>
<circle cx="157.4" cy="197.9" r="1.9" fill="#f2f2f2" stroke="#959595" stroke-width="0.6"/>
<circle cx="141.9" cy="166.6" r="1.9" fill="#f2f2f2" stroke="#959595" stroke-width="0.6"/>
<circle cx="163.4" cy="182.7" r="1.9" fill="#f2f2f2" stroke="#959595" stroke-width="0.6"/>
<circle cx="172.4" cy="188.9" r="1.9" fill="#f2f2f2" stroke="#959595" stroke-width="0.6"/>
<circle cx="166.8" cy="190.6" r="1.9" fill="#f2f2f2" stroke="#959595" stroke-width="0.6"/>
<circle cx="167.8" cy="181.8" r="1.9" fill="#f2f2f2" stroke="#959595" stroke-width="0.6"/>
<circle cx="145.6" cy="165.2" r="1.9" fill="#f2f2f2" stroke="#959595" stroke-width="0.6"/>
<circle cx="159.5" cy="188.9" r="1.9" fill="#f2f2f2" stroke="#959595" stroke-width="0.6"/>
<circle cx="157.8" cy="191.2" r="1.9" fill="#f2f2f2" stroke="#959595" stroke-width="0.6"/>
<circle cx="155.9" cy="196.6" r="1.9" fill="#f2f2f2" stroke="#959595" stroke-width="0.6"/>
<circle cx="165.1" cy="192.1" r="1.9" fill="#f2f2f2" stroke="#959595" stroke-width="0.6"/>
<circle cx="158.3" cy="194.2" r="1.9" fill="#f2f2f2" stroke="#959595" stroke-width="0.6"/>
<circle cx="166.3" cy="187.9" r="1.9" fill="#f2f2f2" stroke="#959595" stroke-width="0.6"/>
<circle cx="138.8" cy="169.9" r="1.9" fill="#f2f2f2" stroke="#959595" stroke-width="0.6"/>
<circle cx="160.6" cy="185.4" r="1.9" fill="#f2f2f2" stroke="#959595" stroke-width="0.6"/>
<circle cx="157.5" cy="198.9" r="1.9" fill="#f2f2f2" stroke="#959595" stroke-width="0.6"/>
<circle cx="155.5" cy="199.5" r="1.9" fill="#f2f2f2" stroke="#959595" stroke-width="0.6"/>
<circle cx="150.3" cy="194.9" r="1.9" fill="#f2f2f2" stroke="#959595" stroke-width="0.6"/>
<circle cx="148.1" cy="192.0" r="1.9" fill="#f2f2f2" stroke="#959595" stroke-width="0.6"/>
<circle cx="142.9" cy="143.4" r="1.9" fill="#f2f2f2" stroke="#959595" stroke-width="0.6"/>
<circle cx="164.4" cy="171.2" r="1.9" fill="#f2f2f2" stroke="#959595" stroke-width="0.6"/>
<circle cx="158.3" cy="195.5" r="1.9" fill="#f2f2f2" stroke="#959595" stroke-width="0.6"/>
<circle cx="157.4" cy="191.2" r="1.9" fill="#f2f2f2" stroke="#959595" stroke-width="0.6"/>
<circle cx="154.3" cy="200.9" r="1.9" fill="#f2f2f2" stroke="#959595" stroke-width="0.6"/>
<circle cx="145.0" cy="156.5" r="1.9" fill="#f2f2f2" stroke="#959595" stroke-width="0.6"/>
<circle cx="153.4" cy="198.3" r="1.9" fill="#f2f2f2" stroke="#959595" stroke-width="0.6"/>
<circle cx="158.0" cy="193.9" r="1.9" fill="#f2f2f2" stroke="#959595" stroke-width="0.6"/>
<circle cx="140.1" cy="152.7" r="1.9" fill="#f2f2f2" stroke="#959595" stroke-width="0.6"/>
<circle cx="177.9" cy="150.5" r="1.9" fill="#f2f2f2" stroke="#959595" stroke-width="0.6"/>
<circle cx="160.5" cy="192.5" r="1.9" fill="#f2f2f2" stroke="#959595" stroke-width="0.6"/>
<circle cx="158.0" cy="192.0" r="1.9" fill="#f2f2f2" stroke="#959595" stroke-width="0.6"/>
<circle cx="150.1" cy="196.0" r="1.9" fill="#f2f2f2" stroke="#959595" stroke-width="0.6"/>
<circle cx="154.1" cy="200.6" r="1.9" fill="#f2f2f2" stroke="#959595" stroke-width="0.6"/>
<circle cx="155.5" cy="199.9" r="1.9" fill="#f2f2f2" stroke="#959595" stroke-width="0.6"/>
<circle cx="154.9" cy="200.6" r="1.9" fill="#f2f2f2" stroke="#959595" stroke-width="0.6"/>
<circle cx="142.2" cy="189.9" r="1.9" fill="#f2f2f2" stroke="#959595" stroke-width="0.6"/>
<circle cx="151.8" cy="193.4" r="1.9" fill="#f2f2f2" stroke="#959595" stroke-width="0.6"/>
<circle cx="143.3" cy="170.2" r="1.9" fill="#f2f2f2" stroke="#959595" stroke-width="0.6"/>
<circle cx="160.6" cy="197.7" r="1.9" fill="#f2f2f2" stroke="#959595" stroke-width="0.6"/>
<circle cx="165.6" cy="174.6" r="1.9" fill="#f2f2f2" stroke="#959595" stroke-width="0.6"/>
<circle cx="156.6" cy="199.8" r="1.9" fill="#f2f2f2" stroke="#959595" stroke-width="0.6"/>
<circle cx="163.9" cy="165.5" r="1.9" fill="#f2f2f2" stroke="#959595" stroke-width="0.6"/>
<circle cx="156.6" cy="200.2" r="1.9" fill="#f2f2f2" stroke="#959595" stroke-width="0.6"/>
<circle cx="133.1" cy="156.7" r="1.9" fill="#f2f2f2" stroke="#959595" stroke-width="0.6"/>
<circle cx="151.0" cy="196.8" r="1.9" fill="#f2f2f2" stroke="#959595" stroke-width="0.6"/>
<circle cx="150.3" cy="191.7" r="1.9" fill="#f2f2f2" stroke="#959595" stroke-width="0.6"/>
<circle cx="161.3" cy="183.2" r="1.9" fill="#f2f2f2" stroke="#959595" stroke-width="0.6"/>
<circle cx="161.2" cy="187.6" r="1.9" fill="#f2f2f2" stroke="#959595" stroke-width="0.6"/>
<circle cx="166.4" cy="158.3" r="1.9" fill="#f2f2f2" stroke="#959595" stroke-width="0.6"/>
<circle cx="156.7" cy="197.8" r="1.9" fill="#f2f2f2" stroke="#959595" stroke-width="0.6"/>
<circle cx="172.1" cy="165.5" r="1.9" fill="#f2f2f2" stroke="#959595" stroke-width="0.6"/>
<circle cx="137.1" cy="183.1" r="1.9" fill="#f2f2f2" stroke="#959595" stroke-width="0.6"/>
<circle cx="160.9" cy="186.0" r="1.9" fill="#f2f2f2" stroke="#959595" stroke-width="0.6"/>
<circle cx="156.4" cy="198.7" r="1.9" fill="#f2f2f2" stroke="#959595" stroke-width="0.6"/>
<circle cx="146.5" cy="172.8" r="1.9" fill="#f2f2f2" stroke="#959595" stroke-width="0.6"/>
<circle cx="159.8" cy="192.3" r="1.9" fill="#f2f2f2" stroke="#959595" stroke-width="0.6"/>
<circle cx="155.0" cy="200.1" r="1.9" fill="#f2f2f2" stroke="#959595" stroke-width="0.6"/>
<circle cx="148.1" cy="194.2" r="1.9" fill="#f2f2f2" stroke="#959595" stroke-width="0.6"/>
<circle cx="165.5" cy="175.6" r="1.9" fill="#f2f2f2" stroke="#959595" stroke-width="0.6"/>
<circle cx="149.9" cy="197.8" r="1.9" fill="#f2f2f2" stroke="#959595" stroke-width="0.6"/>
<circle cx="145.9" cy="188.9" r="1.9" fill="#f2f2f2" stroke="#959595" stroke-width="0.6"/>
<circle cx="151.8" cy="195.9" r="1.9" fill="#f2f2f2" stroke="#959595" stroke-width="0.6"/>
<circle cx="141.3" cy="178.0" r="1.9" fill="#f2f2f2" stroke="#959595" stroke-width="0.6"/>
<circle cx="156.4" cy="195.4" r="1.9" fill="#f2f2f2" stroke="#959595" stroke-width="0.6"/>
<circle cx="149.5" cy="178.0" r="1.9" fill="#f2f2f2" stroke="#959595" stroke-width="0.6"/>
<circle cx="160.5" cy="197.7" r="1.9" fill="#f2f2f2" stroke="#959595" stroke-width="0.6"/>
<circle cx="176.9" cy="166.2" r="1.9" fill="#f2f2f2" stroke="#959595" stroke-width="0.6"/>
<circle cx="154.9" cy="200.7" r="1.9" fill="#f2f2f2" stroke="#959595" stroke-width="0.6"/>
<circle cx="161.7" cy="195.8" r="1.9" fill="#f2f2f2" stroke="#959595" stroke-width="0.6"/>
<circle cx="155.8" cy="199.0" r="1.9" fill="#f2f2f2" stroke="#959595" stroke-width="0.6"/>
<circle cx="161.2" cy="194.2" r="1.9" fill="#f2f2f2" stroke="#959595" stroke-width="0.6"/>
<circle cx="138.9" cy="187.1" r="1.9" fill="#f2f2f2" stroke="#959595" stroke-width="0.6"/>
<circle cx="152.2" cy="200.2" r="1.9" fill="#f2f2f2" stroke="#959595" stroke-width="0.6"/>
<circle cx="152.4" cy="198.8" r="1.9" fill="#f2f2f2" stroke="#959595" stroke-width="0.6"/>
<circle cx="149.2" cy="177.8" r="1.9" fill="#f2f2f2" stroke="#959595" stroke-width="0.6"/>
<circle cx="170.3" cy="178.3" r="1.9" fill="#f2f2f2" stroke="#959595" stroke-width="0.6"/>
<circle cx="176.7" cy="162.6" r="1.9" fill="#f2f2f2" stroke="#959595" stroke-width="0.6"/>
<circle cx="145.1" cy="163.7" r="1.9" fill="#f2f2f2" stroke="#959595" stroke-width="0.6"/>
<circle cx="142.8" cy="181.7" r="1.9" fill="#f2f2f2" stroke="#959595" stroke-width="0.6"/>
<circle cx="159.2" cy="190.2" r="1.9" fill="#f2f2f2" stroke="#959595" stroke-width="0.6"/>
<circle cx="157.0" cy="196.4" r="1.9" fill="#f2f2f2" stroke="#959595" stroke-width="0.6"/>
<circle cx="157.6" cy="197.7" r="1.9" fill="#f2f2f2" stroke="#959595" stroke-width="0.6"/>
<circle cx="162.3" cy="176.2" r="1.9" fill="#f2f2f2" stroke="#959595" stroke-width="0.6"/>
<circle cx="137.3" cy="159.4" r="1.9" fill="#f2f2f2" stroke="#959595" stroke-width="0.6"/>
<circle cx="146.4" cy="169.4" r="1.9" fill="#f2f2f2" stroke="#959595" stroke-width="0.6"/>
<circle cx="150.6" cy="195.9" r="1.9" fill="#f2f2f2" stroke="#959595" stroke-width="0.6"/>
<circle cx="162.0" cy="192.6" r="1.9" fill="#f2f2f2" stroke="#959595" stroke-width="0.6"/>
<circle cx="157.3" cy="189.6" r="1.9" fill="#f2f2f2" stroke="#959595" stroke-width="0.6"/>
<circle cx="165.8" cy="185.4" r="1.9" fill="#f2f2f2" stroke="#959595" stroke-width="0.6"/>
<circle cx="162.5" cy="175.5" r="1.9" fill="#f2f2f2" stroke="#959595" stroke-width="0.6"/>
<circle cx="158.9" cy="196.1" r="1.9" fill="#f2f2f2" stroke="#959595" stroke-width="0.6"/>
<circle cx="159.2" cy="194.4" r="1.9" fill="#f2f2f2" stroke="#959595" stroke-width="0.6"/>
<circle cx="154.7" cy="201.0" r="1.9" fill="#f2f2f2" stroke="#959595" stroke-width="0.6"/>
<circle cx="146.1" cy="180.7" r="1.9" fill="#f2f2f2" stroke="#959595" stroke-width="0.6"/>
<circle cx="150.1" cy="195.3" r="1.9" fill="#f2f2f2" stroke="#959595" stroke-width="0.6"/>
<circle cx="161.0" cy="186.5" r="1.9" fill="#f2f2f2" stroke="#959595" stroke-width="0.6"/>
<circle cx="123.6" cy="174.2" r="1.9" fill="#f2f2f2" stroke="#959595" stroke-width="0.6"/>
<circle cx="145.8" cy="184.6" r="1.9" fill="#f2f2f2" stroke="#959595" stroke-width="0.6"/>
<circle cx="150.1" cy="190.3" r="1.9" fill="#f2f2f2" stroke="#959595" stroke-width="0.6"/>
<circle cx="158.4" cy="197.2" r="1.9" fill="#f2f2f2" stroke="#959595" stroke-width="0.6"/>
<circle cx="168.7" cy="167.4" r="1.9" fill="#f2f2f2" stroke="#959595" stroke-width="0.6"/>
<circle cx="166.8" cy="186.5" r="1.9" fill="#f2f2f2" stroke="#959595" stroke-width="0.6"/>
<circle cx="134.9" cy="170.8" r="1.9" fill="#f2f2f2" stroke="#959595" stroke-width="0.6"/>
<circle cx="154.4" cy="201.0" r="1.9" fill="#f2f2f2" stroke="#959595" stroke-width="0.6"/>
<circle cx="157.6" cy="199.0" r="1.9" fill="#f2f2f2" stroke="#959595" stroke-width="0.6"/>
<circle cx="142.5" cy="175.5" r="1.9" fill="#f2f2f2" stroke="#959595" stroke-width="0.6"/>
<circle cx="150.0" cy="190.3" r="1.9" fill="#f2f2f2" stroke="#959595" stroke-width="0.6"/>
<circle cx="132.5" cy="162.7" r="1.9" fill="#f2f2f2" stroke="#959595" stroke-width="0.6"/>
<circle cx="154.5" cy="201.2" r="1.9" fill="#f2f2f2" stroke="#959595" stroke-width="0.6"/>
<circle cx="135.2" cy="155.1" r="1.9" fill="#f2f2f2" stroke="#959595" stroke-width="0.6"/>
<circle cx="163.1" cy="193.4" r="1.9" fill="#f2f2f2" stroke="#959595" stroke-width="0.6"/>
<circle cx="157.0" cy="193.0" r="1.9" fill="#f2f2f2" stroke="#959595" stroke-width="0.6"/>
<circle cx="172.0" cy="158.2" r="1.9" fill="#f2f2f2" stroke="#959595" stroke-width="0.6"/>
<circle cx="167.9" cy="189.0" r="1.9" fill="#f2f2f2" stroke="#959595" stroke-width="0.6"/>
<circle cx="170.7" cy="129.3" r="1.9" fill="#f2f2f2" stroke="#959595" stroke-width="0.6"/>
<circle cx="159.9" cy="197.0" r="1.9" fill="#f2f2f2" stroke="#959595" stroke-width="0.6"/>
<circle cx="135.4" cy="174.8" r="1.9" fill="#f2f2f2" stroke="#959595" stroke-width="0.6"/>
<circle cx="184.4" cy="177.3" r="1.9" fill="#f2f2f2" stroke="#959595" stroke-width="0.6"/>
<circle cx="151.5" cy="196.6" r="1.9" fill="#f2f2f2" stroke="#959595" stroke-width="0.6"/>
<circle cx="152.3" cy="199.1" r="1.9" fill="#f2f2f2" stroke="#959595" stroke-width="0.6"/>
<circle cx="169.4" cy="160.9" r="1.9" fill="#f2f2f2" stroke="#959595" stroke-width="0.6"/>
<circle cx="134.9" cy="165.9" r="1.9" fill="#f2f2f2" stroke="#959595" stroke-width="0.6"/>
<circle cx="147.7" cy="191.8" r="1.9" fill="#f2f2f2" stroke="#959595" stroke-width="0.6"/>
<circle cx="158.3" cy="198.6" r="1.9" fill="#f2f2f2" stroke="#959595" stroke-width="0.6"/>
<circle cx="159.1" cy="184.2" r="1.9" fill="#f2f2f2" stroke="#959595" stroke-width="0.6"/>
<circle cx="156.3" cy="198.9" r="1.9" fill="#f2f2f2" stroke="#959595" stroke-width="0.6"/>
<circle cx="160.1" cy="198.9" r="1.9" fill="#f2f2f2" stroke="#959595" stroke-width="0.6"/>
<circle cx="142.1" cy="187.2" r="1.9" fill="#f2f2f2" stroke="#959595" stroke-width="0.6"/>
<circle cx="142.7" cy="174.4" r="1.9" fill="#f2f2f2" stroke="#959595" stroke-width="0.6"/>
<circle cx="147.4" cy="184.1" r="1.9" fill="#f2f2f2" stroke="#959595" stroke-width="0.6"/>
<circle cx="161.3" cy="175.0" r="1.9" fill="#f2f2f2" stroke="#959595" stroke-width="0.6"/>
<circle cx="161.2" cy="178.5" r="1.9" fill="#f2f2f2" stroke="#959595" stroke-width="0.6"/>
<circle cx="146.7" cy="189.2" r="1.9" fill="#f2f2f2" stroke="#959595" stroke-width="0.6"/>
<circle cx="146.2" cy="186.0" r="1.9" fill="#f2f2f2" stroke="#959595" stroke-width="0.6"/>
<circle cx="154.9" cy="200.8" r="1.9" fill="#f2f2f2" stroke="#959595" stroke-width="0.6"/>
<circle cx="139.4" cy="161.8" r="1.9" fill="#f2f2f2" stroke="#959595" stroke-width="0.6"/>
<circle cx="156.2" cy="197.3" r="1.9" fill="#f2f2f2" stroke="#959595" stroke-width="0.6"/>
<circle cx="164.5" cy="134.8" r="1.9" fill="#f2f2f2" stroke="#959595" stroke-width="0.6"/>
<circle cx="148.4" cy="181.5" r="1.9" fill="#f2f2f2" stroke="#959595" stroke-width="0.6"/>
<circle cx="160.9" cy="190.5" r="1.9" fill="#f2f2f2" stroke="#959595" stroke-width="0.6"/>
<circle cx="157.1" cy="199.6" r="1.9" fill="#f2f2f2" stroke="#959595" stroke-width="0.6"/>
<circle cx="149.8" cy="194.4" r="1.9" fill="#f2f2f2" stroke="#959595" stroke-width="0.6"/>
<circle cx="161.7" cy="195.3" r="1.9" fill="#f2f2f2" stroke="#959595" stroke-width="0.6"/>
<circle cx="155.3" cy="200.3" r="1.9" fill="#f2f2f2" stroke="#959595" stroke-width="0.6"/>
<circle cx="149.5" cy="191.4" r="1.9" fill="#f2f2f2" stroke="#959595" stroke-width="0.6"/>
<circle cx="146.6" cy="185.1" r="1.9" fill="#f2f2f2" stroke="#959595" stroke-width="0.6"/>
<circle cx="137.6" cy="151.8" r="1.9" fill="#f2f2f2" stroke="#959595" stroke-width="0.6"/>
<circle cx="155.6" cy="199.3" r="1.9" fill="#f2f2f2" stroke="#959595" stroke-width="0.6"/>
<circle cx="163.2" cy="159.0" r="1.9" fill="#f2f2f2" stroke="#959595" stroke-width="0.6"/>
<circle cx="143.9" cy="186.0" r="1.9" fill="#f2f2f2" stroke="#959595" stroke-width="0.6"/>
<circle cx="160.0" cy="189.3" r="1.9" fill="#f2f2f2" stroke="#959595" stroke-width="0.6"/>
<circle cx="134.8" cy="191.2" r="1.9" fill="#f2f2f2" stroke="#959595" stroke-width="0.6"/>
<circle cx="139.4" cy="188.9" r="1.9" fill="#f2f2f2" stroke="#959595" stroke-width="0.6"/>
<circle cx="143.6" cy="186.6" r="1.9" fill="#f2f2f2" stroke="#959595" stroke-width="0.6"/>
<circle cx="140.6" cy="173.4" r="1.9" fill="#f2f2f2" stroke="#959595" stroke-width="0.6"/>
<circle cx="161.4" cy="172.6" r="1.9" fill="#f2f2f2" stroke="#959595" stroke-width="0.6"/>
<circle cx="143.0" cy="171.4" r="1.9" fill="#f2f2f2" stroke="#959595" stroke-width="0.6"/>
<circle cx="148.4" cy="193.6" r="1.9" fill="#f2f2f2" stroke="#959595" stroke-width="0.6"/>
<circle cx="148.7" cy="196.0" r="1.9" fill="#f2f2f2" stroke="#959595" stroke-width="0.6"/>
<circle cx="150.1" cy="192.2" r="1.9" fill="#f2f2f2" stroke="#959595" stroke-width="0.6"/>
<circle cx="154.0" cy="200.4" r="1.9" fill="#f2f2f2" stroke="#959595" stroke-width="0.6"/>
<circle cx="166.5" cy="194.1" r="1.9" fill="#f2f2f2" stroke="#959595" stroke-width="0.6"/>
<circle cx="150.3" cy="189.1" r="1.9" fill="#f2f2f2" stroke="#959595" stroke-width="0.6"/>
<circle cx="146.6" cy="164.2" r="1.9" fill="#f2f2f2" stroke="#959595" stroke-width="0.6"/>
<circle cx="155.0" cy="200.1" r="1.9" fill="#f2f2f2" stroke="#959595" stroke-width="0.6"/>
<circle cx="156.2" cy="198.8" r="1.9" fill="#f2f2f2" stroke="#959595" stroke-width="0.6"/>
<circle cx="146.8" cy="170.0" r="1.9" fill="#f2f2f2" stroke="#959595" stroke-width="0.6"/>
<circle cx="144.2" cy="169.5" r="1.9" fill="#f2f2f2" stroke="#959595" stroke-width="0.6"/>
<circle cx="149.7" cy="196.2" r="1.9" fill="#f2f2f2" stroke="#959595" stroke-width="0.6"/>
<circle cx="148.1" cy="194.2" r="1.9" fill="#f2f2f2" stroke="#959595" stroke-width="0.6"/>
<circle cx="172.1" cy="162.7" r="1.9" fill="#f2f2f2" stroke="#959595" stroke-width="0.6"/>
<circle cx="161.5" cy="187.3" r="1.9" fill="#f2f2f2" stroke="#959595" stroke-width="0.6"/>
<circle cx="161.5" cy="163.5" r="1.9" fill="#f2f2f2" stroke="#959595" stroke-width="0.6"/>
<circle cx="168.2" cy="142.0" r="1.9" fill="#f2f2f2" stroke="#959595" stroke-width="0.6"/>
<circle cx="139.9" cy="180.0" r="1.9" fill="#f2f2f2" stroke="#959595" stroke-width="0.6"/>
<circle cx="139.8" cy="164.2" r="1.9" fill="#f2f2f2" stroke="#959595" stroke-width="0.6"/>
<circle cx="171.1" cy="175.8" r="1.9" fill="#f2f2f2" stroke="#959595" stroke-width="0.6"/>
<circle cx="156.4" cy="198.8" r="1.9" fill="#f2f2f2" stroke="#959595" stroke-width="0.6"/>
<circle cx="155.9" cy="198.9" r="1.9" fill="#f2f2f2" stroke="#959595" stroke-width="0.6"/>
<circle cx="151.5" cy="194.0" r="1.9" fill="#f2f2f2" stroke="#959595" stroke-width="0.6"/>
<circle cx="160.5" cy="187.9" r="1.9" fill="#f2f2f2" stroke="#959595" stroke-width="0.6"/>
<circle cx="159.7" cy="187.8" r="1.9" fill="#f2f2f2" stroke="#959595" stroke-width="0.6"/>
<circle cx="153.5" cy="198.9" r="1.9" fill="#f2f2f2" stroke="#959595" stroke-width="0.6"/>
<circle cx="164.5" cy="170.0" r="1.9" fill="#f2f2f2" stroke="#959595" stroke-width="0.6"/>
<circle cx="165.4" cy="181.2" r="1.9" fill="#f2f2f2" stroke="#959595" stroke-width="0.6"/>
<circle cx="153.4" cy="198.6" r="1.9" fill="#f2f2f2" stroke="#959595" stroke-width="0.6"/>
<circle cx="165.2" cy="146.7" r="1.9" fill="#f2f2f2" stroke="#959595" stroke-width="0.6"/>
<circle cx="141.8" cy="184.9" r="1.9" fill="#f2f2f2" stroke="#959595" stroke-width="0.6"/>
<circle cx="134.4" cy="158.9" r="1.9" fill="#f2f2f2" stroke="#959595" stroke-width="0.6"/>
<circle cx="170.3" cy="185.4" r="1.9" fill="#f2f2f2" stroke="#959595" stroke-width="0.6"/>
<circle cx="141.0" cy="184.9" r="1.9" fill="#f2f2f2" stroke="#959595" stroke-width="0.6"/>
<circle cx="144.2" cy="155.1" r="1.9" fill="#f2f2f2" stroke="#959595" stroke-width="0.6"/>
<circle cx="158.5" cy="183.1" r="1.9" fill="#f2f2f2" stroke="#959595" stroke-width="0.6"/>
<circle cx="153.2" cy="199.4" r="1.9" fill="#f2f2f2" stroke="#959595" stroke-width="0.6"/>
<circle cx="144.8" cy="191.2" r="1.9" fill="#f2f2f2" stroke="#959595" stroke-width="0.6"/>
<circle cx="149.0" cy="195.4" r="1.9" fill="#f2f2f2" stroke="#959595" stroke-width="0.6"/>
<circle cx="165.2" cy="157.2" r="1.9" fill="#f2f2f2" stroke="#959595" stroke-width="0.6"/>
<circle cx="146.7" cy="155.7" r="1.9" fill="#f2f2f2" stroke="#959595" stroke-width="0.6"/>
<circle cx="158.7" cy="188.0" r="1.9" fill="#f2f2f2" stroke="#959595" stroke-width="0.6"/>
<circle cx="165.8" cy="172.8" r="1.9" fill="#f2f2f2" stroke="#959595" stroke-width="0.6"/>
<circle cx="137.6" cy="169.8" r="1.9" fill="#f2f2f2" stroke="#959595" stroke-width="0.6"/>
<circle cx="151.0" cy="196.0" r="1.9" fill="#f2f2f2" stroke="#959595" stroke-width="0.6"/>
<circle cx="156.5" cy="199.7" r="1.9" fill="#f2f2f2" stroke="#959595" stroke-width="0.6"/>
<circle cx="147.4" cy="168.7" r="1.9" fill="#f2f2f2" stroke="#959595" stroke-width="0.6"/>
<circle cx="157.5" cy="197.8" r="1.9" fill="#f2f2f2" stroke="#959595" stroke-width="0.6"/>
<circle cx="148.5" cy="189.8" r="1.9" fill="#f2f2f2" stroke="#959595" stroke-width="0.6"/>
<circle cx="156.5" cy="199.6" r="1.9" fill="#f2f2f2" stroke="#959595" stroke-width="0.6"/>
<circle cx="135.5" cy="148.1" r="1.9" fill="#f2f2f2" stroke="#959595" stroke-width="0.6"/>
<circle cx="157.7" cy="197.1" r="1.9" fill="#f2f2f2" stroke="#959595" stroke-width="0.6"/>
<circle cx="150.4" cy="186.7" r="1.9" fill="#f2f2f2" stroke="#959595" stroke-width="0.6"/>
<circle cx="141.1" cy="149.7" r="1.9" fill="#f2f2f2" stroke="#959595" stroke-width="0.6"/>
<circle cx="157.1" cy="197.3" r="1.9" fill="#f2f2f2" stroke="#959595" stroke-width="0.6"/>
<circle cx="168.4" cy="161.6" r="1.9" fill="#f2f2f2" stroke="#959595" stroke-width="0.6"/>
<circle cx="170.5" cy="177.3" r="1.9" fill="#f2f2f2" stroke="#959595" stroke-width="0.6"/>
<circle cx="156.5" cy="196.5" r="1.9" fill="#f2f2f2" stroke="#959595" stroke-width="0.6"/>
<circle cx="143.6" cy="159.8" r="1.9" fill="#f2f2f2" stroke="#959595" stroke-width="0.6"/>
<circle cx="151.6" cy="195.9" r="1.9" fill="#f2f2f2" stroke="#959595" stroke-width="0.6"/>
<circle cx="152.7" cy="200.1" r="1.9" fill="#f2f2f2" stroke="#959595" stroke-width="0.6"/>
<circle cx="154.4" cy="201.1" r="1.9" fill="#f2f2f2" stroke="#959595" stroke-width="0.6"/>
<circle cx="157.3" cy="197.8" r="1.9" fill="#f2f2f2" stroke="#959595" stroke-width="0.6"/>
<circle cx="158.5" cy="194.3" r="1.9" fill="#f2f2f2" stroke="#959595" stroke-width="0.6"/>
<circle cx="142.7" cy="151.8" r="1.9" fill="#f2f2f2" stroke="#959595" stroke-width="0.6"/>
<circle cx="165.2" cy="170.0" r="1.9" fill="#f2f2f2" stroke="#959595" stroke-width="0.6"/>
<circle cx="147.5" cy="172.6" r="1.9" fill="#f2f2f2" stroke="#959595" stroke-width="0.6"/>
<circle cx="146.4" cy="185.4" r="1.9" fill="#f2f2f2" stroke="#959595" stroke-width="0.6"/>
<circle cx="155.2" cy="200.2" r="1.9" fill="#f2f2f2" stroke="#959595" stroke-width="0.6"/>
<circle cx="154.0" cy="200.7" r="1.9" fill="#f2f2f2" stroke="#959595" stroke-width="0.6"/>
<circle cx="162.1" cy="186.7" r="1.9" fill="#f2f2f2" stroke="#959595" stroke-width="0.6"/>
<circle cx="149.1" cy="182.8" r="1.9" fill="#f2f2f2" stroke="#959595" stroke-width="0.6"/>
<circle cx="140.1" cy="123.7" r="1.9" fill="#f2f2f2" stroke="#959595" stroke-width="0.6"/>
<circle cx="169.4" cy="129.6" r="1.9" fill="#f2f2f2" stroke="#959595" stroke-width="0.6"/>
<circle cx="141.3" cy="137.7" r="1.9" fill="#f2f2f2" stroke="#959595" stroke-width="0.6"/>
<circle cx="135.3" cy="144.7" r="1.9" fill="#f2f2f2" stroke="#959595" stroke-width="0.6"/>
<circle cx="146.1" cy="136.6" r="1.9" fill="#f2f2f2" stroke="#959595" stroke-width="0.6"/>
<circle cx="165.3" cy="114.5" r="1.9" fill="#f2f2f2" stroke="#959595" stroke-width="0.6"/>
<circle cx="171.3" cy="145.8" r="1.9" fill="#f2f2f2" stroke="#959595" stroke-width="0.6"/>
<circle cx="177.3" cy="147.7" r="1.9" fill="#f2f2f2" stroke="#959595" stroke-width="0.6"/>
<circle cx="176.1" cy="141.4" r="1.9" fill="#f2f2f2" stroke="#959595" stroke-width="0.6"/>
<circle cx="118.5" cy="175.4" r="1.9" fill="#f2f2f2" stroke="#959595" stroke-width="0.6"/>
<circle cx="123.3" cy="162.5" r="1.9" fill="#f2f2f2" stroke="#959595" stroke-width="0.6"/>
<circle cx="173.7" cy="156.9" r="1.9" fill="#f2f2f2" stroke="#959595" stroke-width="0.6"/>
<circle cx="179.7" cy="164.3" r="1.9" fill="#f2f2f2" stroke="#959595" stroke-width="0.6"/>
<circle cx="139.9" cy="49.0" r="1.9" fill="#f2f2f2" stroke="#959595" stroke-width="0.6"/>
<circle cx="171.0" cy="81.9" r="1.9" fill="#f2f2f2" stroke="#959595" stroke-width="0.6"/>
<circle cx="141.1" cy="91.0" r="1.9" fill="#f2f2f2" stroke="#959595" stroke-width="0.6"/>
<circle cx="134.4" cy="101.1" r="1.9" fill="#f2f2f2" stroke="#959595" stroke-width="0.6"/>
<circle cx="176.2" cy="107.5" r="1.9" fill="#f2f2f2" stroke="#959595" stroke-width="0.6"/>
<circle cx="146.3" cy="114.7" r="1.9" fill="#f2f2f2" stroke="#959595" stroke-width="0.6"/>
<circle cx="157.2" cy="117.9" r="1.9" fill="#f2f2f2" stroke="#959595" stroke-width="0.6"/>
<circle cx="164.6" cy="113.9" r="1.9" fill="#f2f2f2" stroke="#959595" stroke-width="0.6"/>
<circle cx="165.8" cy="119.2" r="1.9" fill="#f2f2f2" stroke="#959595" stroke-width="0.6"/>
<circle cx="172.9" cy="117.5" r="1.9" fill="#f2f2f2" stroke="#959595" stroke-width="0.6"/>
<circle cx="177.1" cy="120.1" r="1.9" fill="#f2f2f2" stroke="#959595" stroke-width="0.6"/>
<circle cx="135.2" cy="120.8" r="1.9" fill="#f2f2f2" stroke="#959595" stroke-width="0.6"/>
<circle cx="133.8" cy="126.5" r="1.9" fill="#f2f2f2" stroke="#959595" stroke-width="0.6"/>
<circle cx="139.9" cy="126.5" r="1.9" fill="#f2f2f2" stroke="#959595" stroke-width="0.6"/>
<circle cx="169.3" cy="129.1" r="1.9" fill="#f2f2f2" stroke="#959595" stroke-width="0.6"/>
<circle cx="97.9" cy="147.5" r="1.9" fill="#f2f2f2" stroke="#959595" stroke-width="0.6"/>
<circle cx="116.8" cy="150.4" r="1.9" fill="#f2f2f2" stroke="#959595" stroke-width="0.6"/>
<circle cx="111.1" cy="28.5" r="1.75" fill="#c0203e"/>
<circle cx="122.4" cy="40.5" r="1.75" fill="#c0203e"/>
<circle cx="108.6" cy="59.9" r="1.75" fill="#c0203e"/>
<circle cx="120.4" cy="57.8" r="1.75" fill="#c0203e"/>
<circle cx="125.0" cy="63.4" r="1.75" fill="#c0203e"/>
<circle cx="43.3" cy="126.7" r="1.75" fill="#c0203e"/>
<circle cx="65.2" cy="116.7" r="1.75" fill="#c0203e"/>
<circle cx="79.7" cy="94.6" r="1.75" fill="#c0203e"/>
<circle cx="81.4" cy="88.1" r="1.75" fill="#c0203e"/>
<circle cx="98.1" cy="79.2" r="1.75" fill="#c0203e"/>
<circle cx="112.9" cy="82.1" r="1.75" fill="#c0203e"/>
<circle cx="127.9" cy="87.3" r="1.75" fill="#c0203e"/>
<circle cx="122.5" cy="94.6" r="1.75" fill="#c0203e"/>
<circle cx="126.0" cy="95.0" r="1.75" fill="#c0203e"/>
<circle cx="116.0" cy="100.8" r="1.75" fill="#c0203e"/>
<circle cx="122.0" cy="101.5" r="1.75" fill="#c0203e"/>
<circle cx="126.8" cy="101.9" r="1.75" fill="#c0203e"/>
<circle cx="128.5" cy="99.4" r="1.75" fill="#c0203e"/>
<circle cx="127.9" cy="106.7" r="1.75" fill="#c0203e"/>
<circle cx="114.1" cy="109.2" r="1.75" fill="#c0203e"/>
<circle cx="119.3" cy="115.0" r="1.75" fill="#c0203e"/>
<circle cx="100.8" cy="116.3" r="1.75" fill="#c0203e"/>
<circle cx="98.5" cy="121.2" r="1.75" fill="#c0203e"/>
<circle cx="110.4" cy="123.5" r="1.75" fill="#c0203e"/>
<circle cx="108.3" cy="126.5" r="1.75" fill="#c0203e"/>
<circle cx="116.8" cy="126.5" r="1.75" fill="#c0203e"/>
<circle cx="119.8" cy="124.0" r="1.75" fill="#c0203e"/>
<circle cx="121.8" cy="127.3" r="1.75" fill="#c0203e"/>
<circle cx="123.5" cy="127.3" r="1.75" fill="#c0203e"/>
<circle cx="125.6" cy="123.5" r="1.75" fill="#c0203e"/>
<circle cx="126.4" cy="121.9" r="1.75" fill="#c0203e"/>
<circle cx="129.5" cy="120.6" r="1.75" fill="#c0203e"/>
<circle cx="127.9" cy="133.1" r="1.75" fill="#c0203e"/>
<circle cx="129.3" cy="133.5" r="1.75" fill="#c0203e"/>
<circle cx="126.4" cy="138.8" r="1.75" fill="#c0203e"/>
<circle cx="98.5" cy="139.8" r="1.75" fill="#c0203e"/>
<circle cx="179.3" cy="103.3" r="1.75" fill="#e0a030"/>
<circle cx="183.3" cy="140.8" r="1.75" fill="#e0a030"/>
<circle cx="179.2" cy="145.4" r="1.75" fill="#e0a030"/>
<text x="42.7" y="123.3" font-size="6.4" text-anchor="start" textLength="16.4" lengthAdjust="spacingAndGlyphs">CCL17</text>
<text x="65.2" y="113.8" font-size="6.4" text-anchor="start" textLength="17" lengthAdjust="spacingAndGlyphs">CCL22</text>
<text x="73.9" y="84.7" font-size="6.4" text-anchor="start" textLength="18.4" lengthAdjust="spacingAndGlyphs">PRAME</text>
<text x="86.4" y="95.0" font-size="6.4" text-anchor="start" textLength="10.2" lengthAdjust="spacingAndGlyphs">IL13</text>
<text x="100.0" y="75.8" font-size="6.4" text-anchor="start" textLength="22.9" lengthAdjust="spacingAndGlyphs">TNFRSF8</text>
<text x="121.0" y="82.9" font-size="6.4" text-anchor="start" textLength="6.9" lengthAdjust="spacingAndGlyphs">IL6</text>
<line x1="44.5" y1="125.8" x2="47.0" y2="124.5" stroke="#444" stroke-width="0.5"/>
<line x1="66.5" y1="115.8" x2="69.0" y2="114.5" stroke="#444" stroke-width="0.5"/>
<line x1="82.8" y1="87.2" x2="85.5" y2="86.0" stroke="#444" stroke-width="0.5"/>
<line x1="81.5" y1="93.8" x2="84.5" y2="93.0" stroke="#444" stroke-width="0.5"/>
<line x1="99.5" y1="78.2" x2="102.0" y2="77.0" stroke="#444" stroke-width="0.5"/>
<line x1="114.4" y1="81.4" x2="117.0" y2="80.5" stroke="#444" stroke-width="0.5"/>
<rect x="36.3" y="19.2" width="172.60000000000002" height="191.20000000000002" fill="none" stroke="#222" stroke-width="1.7"/>
<line x1="32.8" y1="201.2" x2="36.3" y2="201.2" stroke="#222" stroke-width="1"/>
<text x="30.4" y="203.7" font-size="7.2" text-anchor="end" textLength="10.2" lengthAdjust="spacingAndGlyphs">0.0</text>
<line x1="32.8" y1="145.8" x2="36.3" y2="145.8" stroke="#222" stroke-width="1"/>
<text x="30.4" y="148.3" font-size="7.2" text-anchor="end" textLength="10.2" lengthAdjust="spacingAndGlyphs">1.5</text>
<line x1="32.8" y1="90.5" x2="36.3" y2="90.5" stroke="#222" stroke-width="1"/>
<text x="30.4" y="93.0" font-size="7.2" text-anchor="end" textLength="10.2" lengthAdjust="spacingAndGlyphs">3.0</text>
<line x1="32.8" y1="35.2" x2="36.3" y2="35.2" stroke="#222" stroke-width="1"/>
<text x="30.4" y="37.7" font-size="7.2" text-anchor="end" textLength="10.2" lengthAdjust="spacingAndGlyphs">4.5</text>
<line x1="58.5" y1="210.4" x2="58.5" y2="213.8" stroke="#222" stroke-width="1"/>
<text x="58.0" y="223.8" font-size="6.3" text-anchor="middle">−4</text>
<line x1="106.5" y1="210.4" x2="106.5" y2="213.8" stroke="#222" stroke-width="1"/>
<text x="106.0" y="223.8" font-size="6.3" text-anchor="middle">−2</text>
<line x1="154.5" y1="210.4" x2="154.5" y2="213.8" stroke="#222" stroke-width="1"/>
<text x="154.5" y="223.8" font-size="6.3" text-anchor="middle">0</text>
<line x1="202.5" y1="210.4" x2="202.5" y2="213.8" stroke="#222" stroke-width="1"/>
<text x="202.5" y="223.8" font-size="6.3" text-anchor="middle">2</text>
<text x="122.6" y="236.2" font-size="8.8" text-anchor="middle" textLength="24" lengthAdjust="spacingAndGlyphs">Log2 FC</text>
<text x="0" y="0" font-size="8.9" text-anchor="middle" fill="#222" textLength="43.5" lengthAdjust="spacingAndGlyphs" transform="translate(16.1,114.5) rotate(-90)">Log10 p-value</text>
<text x="224.5" y="15.9" font-size="12" text-anchor="start" font-weight="bold" fill="#000" stroke="#000" stroke-width="0.35">B</text>
<rect x="235.4" y="22.3" width="193.4" height="12.8" fill="#c6c5ca"/>
<rect x="235.4" y="35.1" width="193.4" height="1.7" fill="#5a5a5e"/>
<text x="236.9" y="30.8" font-size="6.6" text-anchor="start" textLength="33.8" lengthAdjust="spacingAndGlyphs">Gene name</text>
<text x="290.6" y="30.8" font-size="6.6" text-anchor="middle">re-bio</text>
<text x="325.2" y="30.8" font-size="6.6" text-anchor="middle">pre</text>
<text x="364.3" y="30.8" font-size="6.6" text-anchor="middle">FC</text>
<text x="413.4" y="30.8" font-size="6.6" text-anchor="middle">p-value</text>
<text x="236.6" y="44.0" font-size="6.1" text-anchor="start" fill="#2a2a2a" textLength="16.5" lengthAdjust="spacingAndGlyphs">CCL17</text>
<text x="290.6" y="44.0" font-size="6.1" text-anchor="middle" fill="#2a2a2a" textLength="9.3" lengthAdjust="spacingAndGlyphs">403</text>
<text x="325.2" y="44.0" font-size="6.1" text-anchor="middle" fill="#2a2a2a" textLength="12.5" lengthAdjust="spacingAndGlyphs">9865</text>
<text x="364.3" y="44.0" font-size="6.1" text-anchor="middle" fill="#2a2a2a" textLength="15.9" lengthAdjust="spacingAndGlyphs">-24.48</text>
<text x="413.4" y="44.0" font-size="6.1" text-anchor="middle" fill="#2a2a2a" textLength="29.6" lengthAdjust="spacingAndGlyphs">0.00960348</text>
<text x="236.6" y="53.2" font-size="6.1" text-anchor="start" fill="#2a2a2a" textLength="16.5" lengthAdjust="spacingAndGlyphs">CCL22</text>
<text x="290.6" y="53.2" font-size="6.1" text-anchor="middle" fill="#2a2a2a" textLength="9.3" lengthAdjust="spacingAndGlyphs">141</text>
<text x="325.2" y="53.2" font-size="6.1" text-anchor="middle" fill="#2a2a2a" textLength="12.5" lengthAdjust="spacingAndGlyphs">1826</text>
<text x="364.3" y="53.2" font-size="6.1" text-anchor="middle" fill="#2a2a2a" textLength="15.9" lengthAdjust="spacingAndGlyphs">-12.96</text>
<text x="413.4" y="53.2" font-size="6.1" text-anchor="middle" fill="#2a2a2a" textLength="29.6" lengthAdjust="spacingAndGlyphs">0.00514599</text>
<text x="236.6" y="62.3" font-size="6.1" text-anchor="start" fill="#2a2a2a" textLength="10.3" lengthAdjust="spacingAndGlyphs">IL13</text>
<text x="290.6" y="62.3" font-size="6.1" text-anchor="middle" fill="#2a2a2a" textLength="6.2" lengthAdjust="spacingAndGlyphs">29</text>
<text x="325.2" y="62.3" font-size="6.1" text-anchor="middle" fill="#2a2a2a" textLength="9.3" lengthAdjust="spacingAndGlyphs">246</text>
<text x="364.3" y="62.3" font-size="6.1" text-anchor="middle" fill="#2a2a2a" textLength="9.6" lengthAdjust="spacingAndGlyphs">-8.6</text>
<text x="413.4" y="62.3" font-size="6.1" text-anchor="middle" fill="#2a2a2a" textLength="26.5" lengthAdjust="spacingAndGlyphs">0.0012943</text>
<text x="236.6" y="71.5" font-size="6.1" text-anchor="start" fill="#2a2a2a" textLength="18.8" lengthAdjust="spacingAndGlyphs">PRAME</text>
<text x="290.6" y="71.5" font-size="6.1" text-anchor="middle" fill="#2a2a2a" textLength="6.2" lengthAdjust="spacingAndGlyphs">24</text>
<text x="325.2" y="71.5" font-size="6.1" text-anchor="middle" fill="#2a2a2a" textLength="9.3" lengthAdjust="spacingAndGlyphs">199</text>
<text x="364.3" y="71.5" font-size="6.1" text-anchor="middle" fill="#2a2a2a" textLength="12.8" lengthAdjust="spacingAndGlyphs">-8.15</text>
<text x="413.4" y="71.5" font-size="6.1" text-anchor="middle" fill="#2a2a2a" textLength="29.6" lengthAdjust="spacingAndGlyphs">0.00085578</text>
<text x="236.6" y="80.7" font-size="6.1" text-anchor="start" fill="#2a2a2a" textLength="16.5" lengthAdjust="spacingAndGlyphs">CCL26</text>
<text x="290.6" y="80.7" font-size="6.1" text-anchor="middle" fill="#2a2a2a" textLength="6.2" lengthAdjust="spacingAndGlyphs">81</text>
<text x="325.2" y="80.7" font-size="6.1" text-anchor="middle" fill="#2a2a2a" textLength="9.3" lengthAdjust="spacingAndGlyphs">409</text>
<text x="364.3" y="80.7" font-size="6.1" text-anchor="middle" fill="#2a2a2a" textLength="12.8" lengthAdjust="spacingAndGlyphs">-5.04</text>
<text x="413.4" y="80.7" font-size="6.1" text-anchor="middle" fill="#2a2a2a" textLength="29.6" lengthAdjust="spacingAndGlyphs">0.03572415</text>
<text x="236.6" y="89.8" font-size="6.1" text-anchor="start" fill="#2a2a2a" textLength="23.9" lengthAdjust="spacingAndGlyphs">TNFRSF8</text>
<text x="290.6" y="89.8" font-size="6.1" text-anchor="middle" fill="#2a2a2a" textLength="6.2" lengthAdjust="spacingAndGlyphs">82</text>
<text x="325.2" y="89.8" font-size="6.1" text-anchor="middle" fill="#2a2a2a" textLength="8.9" lengthAdjust="spacingAndGlyphs">411</text>
<text x="364.3" y="89.8" font-size="6.1" text-anchor="middle" fill="#2a2a2a" textLength="5.0" lengthAdjust="spacingAndGlyphs">-5</text>
<text x="413.4" y="89.8" font-size="6.1" text-anchor="middle" fill="#2a2a2a" textLength="29.6" lengthAdjust="spacingAndGlyphs">0.00049184</text>
<text x="236.6" y="99.0" font-size="6.1" text-anchor="start" fill="#2a2a2a" textLength="16.1" lengthAdjust="spacingAndGlyphs">CCL11</text>
<text x="290.6" y="99.0" font-size="6.1" text-anchor="middle" fill="#2a2a2a" textLength="6.2" lengthAdjust="spacingAndGlyphs">20</text>
<text x="325.2" y="99.0" font-size="6.1" text-anchor="middle" fill="#2a2a2a" textLength="6.2" lengthAdjust="spacingAndGlyphs">97</text>
<text x="364.3" y="99.0" font-size="6.1" text-anchor="middle" fill="#2a2a2a" textLength="12.8" lengthAdjust="spacingAndGlyphs">-4.98</text>
<text x="413.4" y="99.0" font-size="6.1" text-anchor="middle" fill="#2a2a2a" textLength="29.6" lengthAdjust="spacingAndGlyphs">0.00675912</text>
<text x="236.6" y="108.2" font-size="6.1" text-anchor="start" fill="#2a2a2a" textLength="19.4" lengthAdjust="spacingAndGlyphs">CT45A1</text>
<text x="290.6" y="108.2" font-size="6.1" text-anchor="middle" fill="#2a2a2a" textLength="6.2" lengthAdjust="spacingAndGlyphs">23</text>
<text x="325.2" y="108.2" font-size="6.1" text-anchor="middle" fill="#2a2a2a" textLength="8.9" lengthAdjust="spacingAndGlyphs">117</text>
<text x="364.3" y="108.2" font-size="6.1" text-anchor="middle" fill="#2a2a2a" textLength="12.8" lengthAdjust="spacingAndGlyphs">-4.97</text>
<text x="413.4" y="108.2" font-size="6.1" text-anchor="middle" fill="#2a2a2a" textLength="29.6" lengthAdjust="spacingAndGlyphs">0.02241548</text>
<text x="236.6" y="117.3" font-size="6.1" text-anchor="start" fill="#2a2a2a" textLength="20.6" lengthAdjust="spacingAndGlyphs">IL22RA2</text>
<text x="290.6" y="117.3" font-size="6.1" text-anchor="middle" fill="#2a2a2a" textLength="6.2" lengthAdjust="spacingAndGlyphs">78</text>
<text x="325.2" y="117.3" font-size="6.1" text-anchor="middle" fill="#2a2a2a" textLength="9.3" lengthAdjust="spacingAndGlyphs">361</text>
<text x="364.3" y="117.3" font-size="6.1" text-anchor="middle" fill="#2a2a2a" textLength="12.8" lengthAdjust="spacingAndGlyphs">-4.65</text>
<text x="413.4" y="117.3" font-size="6.1" text-anchor="middle" fill="#2a2a2a" textLength="29.6" lengthAdjust="spacingAndGlyphs">0.00504567</text>
<text x="236.6" y="126.5" font-size="6.1" text-anchor="start" fill="#2a2a2a" textLength="17.1" lengthAdjust="spacingAndGlyphs">CXCL1</text>
<text x="290.6" y="126.5" font-size="6.1" text-anchor="middle" fill="#2a2a2a" textLength="6.2" lengthAdjust="spacingAndGlyphs">74</text>
<text x="325.2" y="126.5" font-size="6.1" text-anchor="middle" fill="#2a2a2a" textLength="9.3" lengthAdjust="spacingAndGlyphs">277</text>
<text x="364.3" y="126.5" font-size="6.1" text-anchor="middle" fill="#2a2a2a" textLength="12.8" lengthAdjust="spacingAndGlyphs">-3.74</text>
<text x="413.4" y="126.5" font-size="6.1" text-anchor="middle" fill="#2a2a2a" textLength="29.6" lengthAdjust="spacingAndGlyphs">0.00955896</text>
<text x="236.6" y="135.6" font-size="6.1" text-anchor="start" fill="#2a2a2a" textLength="10.9" lengthAdjust="spacingAndGlyphs">IL1B</text>
<text x="290.6" y="135.6" font-size="6.1" text-anchor="middle" fill="#2a2a2a" textLength="6.2" lengthAdjust="spacingAndGlyphs">39</text>
<text x="325.2" y="135.6" font-size="6.1" text-anchor="middle" fill="#2a2a2a" textLength="9.3" lengthAdjust="spacingAndGlyphs">146</text>
<text x="364.3" y="135.6" font-size="6.1" text-anchor="middle" fill="#2a2a2a" textLength="9.6" lengthAdjust="spacingAndGlyphs">-3.7</text>
<text x="413.4" y="135.6" font-size="6.1" text-anchor="middle" fill="#2a2a2a" textLength="29.6" lengthAdjust="spacingAndGlyphs">0.00014837</text>
<text x="236.6" y="144.8" font-size="6.1" text-anchor="start" fill="#2a2a2a" textLength="15.0" lengthAdjust="spacingAndGlyphs">IL1RN</text>
<text x="290.6" y="144.8" font-size="6.1" text-anchor="middle" fill="#2a2a2a" textLength="6.2" lengthAdjust="spacingAndGlyphs">27</text>
<text x="325.2" y="144.8" font-size="6.1" text-anchor="middle" fill="#2a2a2a" textLength="6.2" lengthAdjust="spacingAndGlyphs">94</text>
<text x="364.3" y="144.8" font-size="6.1" text-anchor="middle" fill="#2a2a2a" textLength="12.8" lengthAdjust="spacingAndGlyphs">-3.52</text>
<text x="413.4" y="144.8" font-size="6.1" text-anchor="middle" fill="#2a2a2a" textLength="29.6" lengthAdjust="spacingAndGlyphs">0.00790655</text>
<text x="236.6" y="154.0" font-size="6.1" text-anchor="start" fill="#2a2a2a" textLength="17.7" lengthAdjust="spacingAndGlyphs">LILRA5</text>
<text x="290.6" y="154.0" font-size="6.1" text-anchor="middle" fill="#2a2a2a" textLength="6.2" lengthAdjust="spacingAndGlyphs">21</text>
<text x="325.2" y="154.0" font-size="6.1" text-anchor="middle" fill="#2a2a2a" textLength="6.2" lengthAdjust="spacingAndGlyphs">73</text>
<text x="364.3" y="154.0" font-size="6.1" text-anchor="middle" fill="#2a2a2a" textLength="12.8" lengthAdjust="spacingAndGlyphs">-3.45</text>
<text x="413.4" y="154.0" font-size="6.1" text-anchor="middle" fill="#2a2a2a" textLength="29.6" lengthAdjust="spacingAndGlyphs">0.00002092</text>
<text x="236.6" y="163.1" font-size="6.1" text-anchor="start" fill="#2a2a2a" textLength="7.4" lengthAdjust="spacingAndGlyphs">IL6</text>
<text x="290.6" y="163.1" font-size="6.1" text-anchor="middle" fill="#2a2a2a" textLength="6.2" lengthAdjust="spacingAndGlyphs">83</text>
<text x="325.2" y="163.1" font-size="6.1" text-anchor="middle" fill="#2a2a2a" textLength="9.3" lengthAdjust="spacingAndGlyphs">273</text>
<text x="364.3" y="163.1" font-size="6.1" text-anchor="middle" fill="#2a2a2a" textLength="12.8" lengthAdjust="spacingAndGlyphs">-3.29</text>
<text x="413.4" y="163.1" font-size="6.1" text-anchor="middle" fill="#2a2a2a" textLength="29.6" lengthAdjust="spacingAndGlyphs">0.00059158</text>
<text x="236.6" y="172.3" font-size="6.1" text-anchor="start" fill="#2a2a2a" textLength="16.5" lengthAdjust="spacingAndGlyphs">CCL20</text>
<text x="290.6" y="172.3" font-size="6.1" text-anchor="middle" fill="#2a2a2a" textLength="6.2" lengthAdjust="spacingAndGlyphs">27</text>
<text x="325.2" y="172.3" font-size="6.1" text-anchor="middle" fill="#2a2a2a" textLength="6.2" lengthAdjust="spacingAndGlyphs">87</text>
<text x="364.3" y="172.3" font-size="6.1" text-anchor="middle" fill="#2a2a2a" textLength="12.8" lengthAdjust="spacingAndGlyphs">-3.16</text>
<text x="413.4" y="172.3" font-size="6.1" text-anchor="middle" fill="#2a2a2a" textLength="29.6" lengthAdjust="spacingAndGlyphs">0.00324093</text>
<text x="236.6" y="181.5" font-size="6.1" text-anchor="start" fill="#2a2a2a" textLength="23.2" lengthAdjust="spacingAndGlyphs">HSD11B1</text>
<text x="290.6" y="181.5" font-size="6.1" text-anchor="middle" fill="#2a2a2a" textLength="6.2" lengthAdjust="spacingAndGlyphs">37</text>
<text x="325.2" y="181.5" font-size="6.1" text-anchor="middle" fill="#2a2a2a" textLength="8.9" lengthAdjust="spacingAndGlyphs">112</text>
<text x="364.3" y="181.5" font-size="6.1" text-anchor="middle" fill="#2a2a2a" textLength="5.0" lengthAdjust="spacingAndGlyphs">-3</text>
<text x="413.4" y="181.5" font-size="6.1" text-anchor="middle" fill="#2a2a2a" textLength="29.6" lengthAdjust="spacingAndGlyphs">0.00190138</text>
<text x="236.6" y="190.6" font-size="6.1" text-anchor="start" fill="#2a2a2a" textLength="18.5" lengthAdjust="spacingAndGlyphs">MERTK</text>
<text x="290.6" y="190.6" font-size="6.1" text-anchor="middle" fill="#2a2a2a" textLength="9.3" lengthAdjust="spacingAndGlyphs">562</text>
<text x="325.2" y="190.6" font-size="6.1" text-anchor="middle" fill="#2a2a2a" textLength="9.3" lengthAdjust="spacingAndGlyphs">274</text>
<text x="364.3" y="190.6" font-size="6.1" text-anchor="middle" fill="#2a2a2a" textLength="10.9" lengthAdjust="spacingAndGlyphs">2.05</text>
<text x="413.4" y="190.6" font-size="6.1" text-anchor="middle" fill="#2a2a2a" textLength="29.6" lengthAdjust="spacingAndGlyphs">0.03101273</text>
<text x="236.6" y="199.8" font-size="6.1" text-anchor="start" fill="#2a2a2a" textLength="13.3" lengthAdjust="spacingAndGlyphs">MICA</text>
<text x="290.6" y="199.8" font-size="6.1" text-anchor="middle" fill="#2a2a2a" textLength="9.3" lengthAdjust="spacingAndGlyphs">148</text>
<text x="325.2" y="199.8" font-size="6.1" text-anchor="middle" fill="#2a2a2a" textLength="6.2" lengthAdjust="spacingAndGlyphs">72</text>
<text x="364.3" y="199.8" font-size="6.1" text-anchor="middle" fill="#2a2a2a" textLength="10.9" lengthAdjust="spacingAndGlyphs">2.07</text>
<text x="413.4" y="199.8" font-size="6.1" text-anchor="middle" fill="#2a2a2a" textLength="29.6" lengthAdjust="spacingAndGlyphs">0.00223348</text>
<text x="236.6" y="209.0" font-size="6.1" text-anchor="start" fill="#2a2a2a" textLength="22.1" lengthAdjust="spacingAndGlyphs">PDGFRB</text>
<text x="290.6" y="209.0" font-size="6.1" text-anchor="middle" fill="#2a2a2a" textLength="12.5" lengthAdjust="spacingAndGlyphs">1774</text>
<text x="325.2" y="209.0" font-size="6.1" text-anchor="middle" fill="#2a2a2a" textLength="9.3" lengthAdjust="spacingAndGlyphs">829</text>
<text x="364.3" y="209.0" font-size="6.1" text-anchor="middle" fill="#2a2a2a" textLength="10.9" lengthAdjust="spacingAndGlyphs">2.14</text>
<text x="413.4" y="209.0" font-size="6.1" text-anchor="middle" fill="#2a2a2a" textLength="29.6" lengthAdjust="spacingAndGlyphs">0.03391228</text>
<text x="236.6" y="218.1" font-size="6.1" text-anchor="start" fill="#2a2a2a" textLength="20.0" lengthAdjust="spacingAndGlyphs">CXCL12</text>
<text x="290.6" y="218.1" font-size="6.1" text-anchor="middle" fill="#2a2a2a" textLength="12.5" lengthAdjust="spacingAndGlyphs">1707</text>
<text x="325.2" y="218.1" font-size="6.1" text-anchor="middle" fill="#2a2a2a" textLength="9.3" lengthAdjust="spacingAndGlyphs">796</text>
<text x="364.3" y="218.1" font-size="6.1" text-anchor="middle" fill="#2a2a2a" textLength="10.9" lengthAdjust="spacingAndGlyphs">2.15</text>
<text x="413.4" y="218.1" font-size="6.1" text-anchor="middle" fill="#2a2a2a" textLength="29.6" lengthAdjust="spacingAndGlyphs">0.03699924</text>
<text x="236.6" y="227.3" font-size="6.1" text-anchor="start" fill="#2a2a2a" textLength="16.8" lengthAdjust="spacingAndGlyphs">KLRK1</text>
<text x="290.6" y="227.3" font-size="6.1" text-anchor="middle" fill="#2a2a2a" textLength="9.3" lengthAdjust="spacingAndGlyphs">530</text>
<text x="325.2" y="227.3" font-size="6.1" text-anchor="middle" fill="#2a2a2a" textLength="9.3" lengthAdjust="spacingAndGlyphs">235</text>
<text x="364.3" y="227.3" font-size="6.1" text-anchor="middle" fill="#2a2a2a" textLength="10.9" lengthAdjust="spacingAndGlyphs">2.26</text>
<text x="413.4" y="227.3" font-size="6.1" text-anchor="middle" fill="#2a2a2a" textLength="29.6" lengthAdjust="spacingAndGlyphs">0.03691979</text>
<text x="236.6" y="236.5" font-size="6.1" text-anchor="start" fill="#2a2a2a" textLength="6.8" lengthAdjust="spacingAndGlyphs">C7</text>
<text x="290.6" y="236.5" font-size="6.1" text-anchor="middle" fill="#2a2a2a" textLength="12.5" lengthAdjust="spacingAndGlyphs">1630</text>
<text x="325.2" y="236.5" font-size="6.1" text-anchor="middle" fill="#2a2a2a" textLength="9.3" lengthAdjust="spacingAndGlyphs">703</text>
<text x="364.3" y="236.5" font-size="6.1" text-anchor="middle" fill="#2a2a2a" textLength="10.9" lengthAdjust="spacingAndGlyphs">2.32</text>
<text x="413.4" y="236.5" font-size="6.1" text-anchor="middle" fill="#2a2a2a" textLength="29.6" lengthAdjust="spacingAndGlyphs">0.02330075</text>
<rect x="235.4" y="238.4" width="193.4" height="1.6" fill="#444"/>
<text x="8.1" y="264.3" font-size="12" text-anchor="start" font-weight="bold" fill="#000" stroke="#000" stroke-width="0.35">C</text>
<rect x="84.2" y="255.4" width="16.6" height="4.8" fill="#4f5669"/>
<text x="104.0" y="259.9" font-size="6.0" text-anchor="start" textLength="28.2" lengthAdjust="spacingAndGlyphs">reactive LN</text>
<rect x="147.3" y="255.4" width="16.5" height="4.8" fill="#22428a"/>
<text x="166.7" y="259.9" font-size="6.0" text-anchor="start" textLength="34.6" lengthAdjust="spacingAndGlyphs">pre-treatment</text>
<rect x="217.1" y="255.4" width="16.0" height="4.8" fill="#ecbc1c"/>
<text x="236.0" y="259.9" font-size="6.0" text-anchor="start" textLength="24.3" lengthAdjust="spacingAndGlyphs">re-biopsy</text>
<text x="0" y="0" font-size="10.2" text-anchor="middle" fill="#222" textLength="99" lengthAdjust="spacingAndGlyphs" transform="translate(16.2,359) rotate(-90)">Gene expression (log10 counts)</text>
<line x1="45.4" y1="366.5" x2="45.4" y2="387.7" stroke="#444" stroke-width="0.9"/>
<rect x="40.6" y="387.7" width="9.6" height="23.5" fill="#4f5669"/>
<line x1="40.6" y1="393.0" x2="50.2" y2="393.0" stroke="#111" stroke-width="1.3"/>
<circle cx="45.5" cy="366.5" r="2.0" fill="#fff" stroke="#222" stroke-width="0.85"/>
<circle cx="45.5" cy="387.7" r="2.0" fill="#fff" stroke="#222" stroke-width="0.85"/>
<circle cx="45.5" cy="393.8" r="2.0" fill="#fff" stroke="#222" stroke-width="0.85"/>
<circle cx="41.0" cy="412.0" r="2.0" fill="#fff" stroke="#222" stroke-width="0.85"/>
<circle cx="45.5" cy="412.5" r="2.0" fill="#fff" stroke="#222" stroke-width="0.85"/>
<line x1="55.2" y1="327.8" x2="55.2" y2="331.0" stroke="#444" stroke-width="0.9"/>
<line x1="55.2" y1="342.5" x2="55.2" y2="349.4" stroke="#444" stroke-width="0.9"/>
<rect x="50.4" y="331.0" width="9.6" height="11.5" fill="#22428a"/>
<line x1="50.4" y1="335.3" x2="60.0" y2="335.3" stroke="#111" stroke-width="1.3"/>
<line x1="64.8" y1="341.8" x2="64.8" y2="361.2" stroke="#444" stroke-width="0.9"/>
<line x1="64.8" y1="397.7" x2="64.8" y2="418.0" stroke="#444" stroke-width="0.9"/>
<rect x="59.8" y="361.2" width="10.0" height="36.5" fill="#ecbc1c"/>
<line x1="59.8" y1="385.0" x2="69.8" y2="385.0" stroke="#111" stroke-width="1.3"/>
<circle cx="55.0" cy="309.6" r="2.0" fill="#fff" stroke="#222" stroke-width="0.85"/>
<circle cx="55.0" cy="327.8" r="2.0" fill="#fff" stroke="#222" stroke-width="0.85"/>
<circle cx="51.0" cy="332.1" r="2.0" fill="#fff" stroke="#222" stroke-width="0.85"/>
<circle cx="55.0" cy="333.6" r="2.0" fill="#fff" stroke="#222" stroke-width="0.85"/>
<circle cx="55.0" cy="338.4" r="2.0" fill="#fff" stroke="#222" stroke-width="0.85"/>
<circle cx="51.0" cy="342.1" r="2.0" fill="#fff" stroke="#222" stroke-width="0.85"/>
<circle cx="55.0" cy="344.8" r="2.0" fill="#fff" stroke="#222" stroke-width="0.85"/>
<circle cx="55.0" cy="349.4" r="2.0" fill="#fff" stroke="#222" stroke-width="0.85"/>
<circle cx="64.8" cy="341.8" r="2.0" fill="#fff" stroke="#222" stroke-width="0.85"/>
<circle cx="64.8" cy="356.9" r="2.0" fill="#fff" stroke="#222" stroke-width="0.85"/>
<circle cx="64.8" cy="362.3" r="2.0" fill="#fff" stroke="#222" stroke-width="0.85"/>
<circle cx="61.2" cy="376.5" r="2.0" fill="#fff" stroke="#222" stroke-width="0.85"/>
<circle cx="64.8" cy="378.9" r="2.0" fill="#fff" stroke="#222" stroke-width="0.85"/>
<circle cx="60.5" cy="398.0" r="2.0" fill="#fff" stroke="#222" stroke-width="0.85"/>
<circle cx="64.8" cy="398.5" r="2.0" fill="#fff" stroke="#222" stroke-width="0.85"/>
<circle cx="64.8" cy="418.0" r="2.0" fill="#fff" stroke="#222" stroke-width="0.85"/>
<line x1="82.0" y1="388.2" x2="82.0" y2="397.4" stroke="#444" stroke-width="0.9"/>
<rect x="77.2" y="369.7" width="9.6" height="18.5" fill="#4f5669"/>
<line x1="77.2" y1="375.7" x2="86.8" y2="375.7" stroke="#111" stroke-width="1.3"/>
<line x1="91.6" y1="296.5" x2="91.6" y2="308.8" stroke="#444" stroke-width="0.9"/>
<line x1="91.6" y1="334.6" x2="91.6" y2="364.2" stroke="#444" stroke-width="0.9"/>
<rect x="87.2" y="308.8" width="8.8" height="25.8" fill="#22428a"/>
<line x1="87.2" y1="322.9" x2="96.0" y2="322.9" stroke="#111" stroke-width="1.3"/>
<line x1="101.0" y1="377.7" x2="101.0" y2="380.5" stroke="#444" stroke-width="0.9"/>
<rect x="96.0" y="349.7" width="10.0" height="28.0" fill="#ecbc1c"/>
<line x1="96.0" y1="351.5" x2="106.0" y2="351.5" stroke="#111" stroke-width="1.3"/>
<circle cx="77.2" cy="368.5" r="2.0" fill="#fff" stroke="#222" stroke-width="0.85"/>
<circle cx="82.0" cy="369.5" r="2.0" fill="#fff" stroke="#222" stroke-width="0.85"/>
<circle cx="82.0" cy="375.9" r="2.0" fill="#fff" stroke="#222" stroke-width="0.85"/>
<circle cx="82.0" cy="388.5" r="2.0" fill="#fff" stroke="#222" stroke-width="0.85"/>
<circle cx="82.0" cy="397.4" r="2.0" fill="#fff" stroke="#222" stroke-width="0.85"/>
<circle cx="91.5" cy="282.6" r="2.0" fill="#fff" stroke="#222" stroke-width="0.85"/>
<circle cx="91.5" cy="296.5" r="2.0" fill="#fff" stroke="#222" stroke-width="0.85"/>
<circle cx="91.5" cy="313.4" r="2.0" fill="#fff" stroke="#222" stroke-width="0.85"/>
<circle cx="87.0" cy="323.0" r="2.0" fill="#fff" stroke="#222" stroke-width="0.85"/>
<circle cx="91.5" cy="323.0" r="2.0" fill="#fff" stroke="#222" stroke-width="0.85"/>
<circle cx="89.0" cy="334.0" r="2.0" fill="#fff" stroke="#222" stroke-width="0.85"/>
<circle cx="91.5" cy="337.8" r="2.0" fill="#fff" stroke="#222" stroke-width="0.85"/>
<circle cx="91.5" cy="364.2" r="2.0" fill="#fff" stroke="#222" stroke-width="0.85"/>
<circle cx="101.4" cy="318.8" r="2.0" fill="#fff" stroke="#222" stroke-width="0.85"/>
<circle cx="97.4" cy="350.6" r="2.0" fill="#fff" stroke="#222" stroke-width="0.85"/>
<circle cx="101.0" cy="352.8" r="2.0" fill="#fff" stroke="#222" stroke-width="0.85"/>
<circle cx="103.0" cy="348.5" r="2.0" fill="#fff" stroke="#222" stroke-width="0.85"/>
<circle cx="106.0" cy="347.0" r="2.0" fill="#fff" stroke="#222" stroke-width="0.85"/>
<circle cx="97.7" cy="377.0" r="2.0" fill="#fff" stroke="#222" stroke-width="0.85"/>
<circle cx="101.6" cy="380.5" r="2.0" fill="#fff" stroke="#222" stroke-width="0.85"/>
<circle cx="104.0" cy="377.0" r="2.0" fill="#fff" stroke="#222" stroke-width="0.85"/>
<line x1="116.5" y1="406.5" x2="121.0" y2="406.5" stroke="#333" stroke-width="1.0"/>
<circle cx="118.2" cy="396.6" r="2.0" fill="#fff" stroke="#222" stroke-width="0.85"/>
<circle cx="115.0" cy="407.4" r="2.0" fill="#fff" stroke="#222" stroke-width="0.85"/>
<circle cx="119.4" cy="406.3" r="2.0" fill="#fff" stroke="#222" stroke-width="0.85"/>
<circle cx="123.0" cy="404.8" r="2.0" fill="#fff" stroke="#222" stroke-width="0.85"/>
<circle cx="118.4" cy="411.0" r="2.0" fill="#fff" stroke="#222" stroke-width="0.85"/>
<line x1="127.9" y1="338.5" x2="127.9" y2="352.0" stroke="#444" stroke-width="0.9"/>
<line x1="127.9" y1="367.7" x2="127.9" y2="388.0" stroke="#444" stroke-width="0.9"/>
<rect x="123.2" y="352.0" width="9.4" height="15.7" fill="#22428a"/>
<line x1="123.2" y1="361.5" x2="132.6" y2="361.5" stroke="#111" stroke-width="1.3"/>
<line x1="137.6" y1="398.5" x2="137.6" y2="433.0" stroke="#444" stroke-width="0.9"/>
<rect x="132.9" y="382.0" width="9.3" height="16.5" fill="#ecbc1c"/>
<line x1="132.9" y1="391.0" x2="142.2" y2="391.0" stroke="#111" stroke-width="1.3"/>
<circle cx="127.8" cy="327.5" r="2.0" fill="#fff" stroke="#222" stroke-width="0.85"/>
<circle cx="128.0" cy="338.5" r="2.0" fill="#fff" stroke="#222" stroke-width="0.85"/>
<circle cx="128.0" cy="356.8" r="2.0" fill="#fff" stroke="#222" stroke-width="0.85"/>
<circle cx="123.5" cy="361.5" r="2.0" fill="#fff" stroke="#222" stroke-width="0.85"/>
<circle cx="128.0" cy="361.5" r="2.0" fill="#fff" stroke="#222" stroke-width="0.85"/>
<circle cx="123.5" cy="368.0" r="2.0" fill="#fff" stroke="#222" stroke-width="0.85"/>
<circle cx="128.0" cy="368.5" r="2.0" fill="#fff" stroke="#222" stroke-width="0.85"/>
<circle cx="128.0" cy="388.0" r="2.0" fill="#fff" stroke="#222" stroke-width="0.85"/>
<circle cx="133.0" cy="381.0" r="2.0" fill="#fff" stroke="#222" stroke-width="0.85"/>
<circle cx="137.5" cy="381.5" r="2.0" fill="#fff" stroke="#222" stroke-width="0.85"/>
<circle cx="142.0" cy="379.7" r="2.0" fill="#fff" stroke="#222" stroke-width="0.85"/>
<circle cx="137.5" cy="388.0" r="2.0" fill="#fff" stroke="#222" stroke-width="0.85"/>
<circle cx="133.0" cy="394.0" r="2.0" fill="#fff" stroke="#222" stroke-width="0.85"/>
<circle cx="137.5" cy="396.0" r="2.0" fill="#fff" stroke="#222" stroke-width="0.85"/>
<circle cx="137.5" cy="408.5" r="2.0" fill="#fff" stroke="#222" stroke-width="0.85"/>
<circle cx="137.5" cy="433.0" r="2.0" fill="#fff" stroke="#222" stroke-width="0.85"/>
<line x1="154.4" y1="411.6" x2="154.4" y2="418.0" stroke="#444" stroke-width="0.9"/>
<line x1="154.4" y1="424.2" x2="154.4" y2="429.8" stroke="#444" stroke-width="0.9"/>
<rect x="149.8" y="418.0" width="9.2" height="6.2" fill="#4f5669"/>
<line x1="149.8" y1="421.6" x2="159.0" y2="421.6" stroke="#111" stroke-width="1.3"/>
<line x1="164.2" y1="341.0" x2="164.2" y2="350.0" stroke="#444" stroke-width="0.9"/>
<line x1="164.2" y1="378.5" x2="164.2" y2="440.0" stroke="#444" stroke-width="0.9"/>
<rect x="159.5" y="350.0" width="9.3" height="28.5" fill="#22428a"/>
<line x1="159.5" y1="365.4" x2="168.8" y2="365.4" stroke="#111" stroke-width="1.3"/>
<line x1="173.8" y1="380.0" x2="173.8" y2="394.6" stroke="#444" stroke-width="0.9"/>
<line x1="173.8" y1="405.4" x2="173.8" y2="428.0" stroke="#444" stroke-width="0.9"/>
<rect x="169.0" y="394.6" width="9.6" height="10.8" fill="#ecbc1c"/>
<line x1="169.0" y1="396.5" x2="178.6" y2="396.5" stroke="#111" stroke-width="1.3"/>
<circle cx="154.5" cy="411.6" r="2.0" fill="#fff" stroke="#222" stroke-width="0.85"/>
<circle cx="154.5" cy="418.0" r="2.0" fill="#fff" stroke="#222" stroke-width="0.85"/>
<circle cx="152.5" cy="425.0" r="2.0" fill="#fff" stroke="#222" stroke-width="0.85"/>
<circle cx="156.8" cy="424.0" r="2.0" fill="#fff" stroke="#222" stroke-width="0.85"/>
<circle cx="154.5" cy="429.8" r="2.0" fill="#fff" stroke="#222" stroke-width="0.85"/>
<circle cx="164.0" cy="324.6" r="2.0" fill="#fff" stroke="#222" stroke-width="0.85"/>
<circle cx="164.0" cy="341.0" r="2.0" fill="#fff" stroke="#222" stroke-width="0.85"/>
<circle cx="164.0" cy="353.0" r="2.0" fill="#fff" stroke="#222" stroke-width="0.85"/>
<circle cx="160.0" cy="363.5" r="2.0" fill="#fff" stroke="#222" stroke-width="0.85"/>
<circle cx="164.0" cy="367.0" r="2.0" fill="#fff" stroke="#222" stroke-width="0.85"/>
<circle cx="164.0" cy="376.5" r="2.0" fill="#fff" stroke="#222" stroke-width="0.85"/>
<circle cx="164.0" cy="384.6" r="2.0" fill="#fff" stroke="#222" stroke-width="0.85"/>
<circle cx="164.0" cy="440.0" r="2.0" fill="#fff" stroke="#222" stroke-width="0.85"/>
<circle cx="173.7" cy="380.0" r="2.0" fill="#fff" stroke="#222" stroke-width="0.85"/>
<circle cx="169.5" cy="392.6" r="2.0" fill="#fff" stroke="#222" stroke-width="0.85"/>
<circle cx="173.7" cy="393.0" r="2.0" fill="#fff" stroke="#222" stroke-width="0.85"/>
<circle cx="178.0" cy="392.6" r="2.0" fill="#fff" stroke="#222" stroke-width="0.85"/>
<circle cx="169.5" cy="400.8" r="2.0" fill="#fff" stroke="#222" stroke-width="0.85"/>
<circle cx="173.7" cy="401.5" r="2.0" fill="#fff" stroke="#222" stroke-width="0.85"/>
<circle cx="172.0" cy="424.0" r="2.0" fill="#fff" stroke="#222" stroke-width="0.85"/>
<circle cx="173.7" cy="428.0" r="2.0" fill="#fff" stroke="#222" stroke-width="0.85"/>
<path d="M54.5,278.4 L54.5,277.2 L65.5,277.2 L65.5,278.4" fill="none" stroke="#222" stroke-width="0.9"/>
<text x="60.0" y="275.6" font-size="5.5" text-anchor="middle">**</text>
<path d="M90.2,278.4 L90.2,277.2 L101.8,277.2 L101.8,278.4" fill="none" stroke="#222" stroke-width="0.9"/>
<text x="96.0" y="275.6" font-size="5.5" text-anchor="middle">*</text>
<path d="M127.2,278.4 L127.2,277.2 L138.0,277.2 L138.0,278.4" fill="none" stroke="#222" stroke-width="0.9"/>
<text x="132.6" y="275.6" font-size="5.5" text-anchor="middle">**</text>
<path d="M163.2,278.4 L163.2,277.2 L174.2,277.2 L174.2,278.4" fill="none" stroke="#222" stroke-width="0.9"/>
<text x="168.7" y="275.6" font-size="5.5" text-anchor="middle">*</text>
<rect x="37.0" y="270.0" width="145.5" height="179.0" fill="none" stroke="#222" stroke-width="1.6"/>
<line x1="34.0" y1="337.5" x2="37.0" y2="337.5" stroke="#222" stroke-width="1"/>
<text x="30.6" y="339.8" font-size="6.7" text-anchor="end" fill="#222">10<tspan font-size="4.7" dy="-2.7">3</tspan></text>
<line x1="34.0" y1="439.4" x2="37.0" y2="439.4" stroke="#222" stroke-width="1"/>
<text x="30.6" y="441.7" font-size="6.7" text-anchor="end" fill="#222">10<tspan font-size="4.7" dy="-2.7">2</tspan></text>
<line x1="55.2" y1="449.0" x2="55.2" y2="452.4" stroke="#222" stroke-width="1"/>
<text x="55.2" y="462.6" font-size="6.3" text-anchor="middle">LAG3</text>
<line x1="91.5" y1="449.0" x2="91.5" y2="452.4" stroke="#222" stroke-width="1"/>
<text x="91.5" y="462.6" font-size="6.3" text-anchor="middle">IL2RA</text>
<line x1="127.8" y1="449.0" x2="127.8" y2="452.4" stroke="#222" stroke-width="1"/>
<text x="127.8" y="462.6" font-size="6.3" text-anchor="middle">BATF</text>
<line x1="164.0" y1="449.0" x2="164.0" y2="452.4" stroke="#222" stroke-width="1"/>
<text x="164.0" y="462.6" font-size="6.3" text-anchor="middle">TNFRSF18</text>
<text x="91.5" y="470.6" font-size="6.3" text-anchor="middle">(CD25)</text>
<line x1="227.3" y1="310.2" x2="227.3" y2="330.0" stroke="#444" stroke-width="0.9"/>
<line x1="227.3" y1="375.4" x2="227.3" y2="403.5" stroke="#444" stroke-width="0.9"/>
<rect x="222.7" y="330.0" width="9.3" height="45.4" fill="#22428a"/>
<line x1="222.7" y1="366.5" x2="232.0" y2="366.5" stroke="#111" stroke-width="1.3"/>
<line x1="238.0" y1="299.0" x2="238.0" y2="331.5" stroke="#444" stroke-width="0.9"/>
<line x1="238.0" y1="415.7" x2="238.0" y2="432.5" stroke="#444" stroke-width="0.9"/>
<rect x="233.0" y="331.5" width="10.0" height="84.2" fill="#ecbc1c"/>
<line x1="233.0" y1="350.0" x2="243.0" y2="350.0" stroke="#111" stroke-width="1.3"/>
<circle cx="216.0" cy="381.5" r="2.0" fill="#fff" stroke="#222" stroke-width="0.85"/>
<circle cx="212.8" cy="393.0" r="2.0" fill="#fff" stroke="#222" stroke-width="0.85"/>
<circle cx="216.0" cy="395.5" r="2.0" fill="#fff" stroke="#222" stroke-width="0.85"/>
<circle cx="219.6" cy="393.0" r="2.0" fill="#fff" stroke="#222" stroke-width="0.85"/>
<circle cx="216.0" cy="416.0" r="2.0" fill="#fff" stroke="#222" stroke-width="0.85"/>
<circle cx="227.4" cy="281.7" r="2.0" fill="#fff" stroke="#222" stroke-width="0.85"/>
<circle cx="227.4" cy="310.2" r="2.0" fill="#fff" stroke="#222" stroke-width="0.85"/>
<circle cx="227.4" cy="338.5" r="2.0" fill="#fff" stroke="#222" stroke-width="0.85"/>
<circle cx="227.4" cy="364.6" r="2.0" fill="#fff" stroke="#222" stroke-width="0.85"/>
<circle cx="224.6" cy="368.8" r="2.0" fill="#fff" stroke="#222" stroke-width="0.85"/>
<circle cx="227.4" cy="371.7" r="2.0" fill="#fff" stroke="#222" stroke-width="0.85"/>
<circle cx="227.4" cy="389.0" r="2.0" fill="#fff" stroke="#222" stroke-width="0.85"/>
<circle cx="227.4" cy="403.5" r="2.0" fill="#fff" stroke="#222" stroke-width="0.85"/>
<circle cx="238.2" cy="299.0" r="2.0" fill="#fff" stroke="#222" stroke-width="0.85"/>
<circle cx="238.2" cy="329.5" r="2.0" fill="#fff" stroke="#222" stroke-width="0.85"/>
<circle cx="236.2" cy="332.6" r="2.0" fill="#fff" stroke="#222" stroke-width="0.85"/>
<circle cx="238.2" cy="335.4" r="2.0" fill="#fff" stroke="#222" stroke-width="0.85"/>
<circle cx="238.2" cy="370.2" r="2.0" fill="#fff" stroke="#222" stroke-width="0.85"/>
<circle cx="236.8" cy="415.3" r="2.0" fill="#fff" stroke="#222" stroke-width="0.85"/>
<circle cx="240.7" cy="419.0" r="2.0" fill="#fff" stroke="#222" stroke-width="0.85"/>
<circle cx="238.2" cy="432.5" r="2.0" fill="#fff" stroke="#222" stroke-width="0.85"/>
<path d="M225.4,278.4 L225.4,277.2 L238.5,277.2 L238.5,278.4" fill="none" stroke="#222" stroke-width="0.9"/>
<text x="231.9" y="275.6" font-size="5.5" text-anchor="middle">ns</text>
<rect x="207.7" y="270.3" width="39.5" height="178.89999999999998" fill="none" stroke="#222" stroke-width="1.6"/>
<line x1="204.6" y1="298.0" x2="207.7" y2="298.0" stroke="#222" stroke-width="1"/>
<text x="201.5" y="300.3" font-size="6.7" text-anchor="end" fill="#222">10<tspan font-size="4.7" dy="-2.7">3</tspan></text>
<line x1="204.6" y1="419.2" x2="207.7" y2="419.2" stroke="#222" stroke-width="1"/>
<text x="201.5" y="421.5" font-size="6.7" text-anchor="end" fill="#222">10<tspan font-size="4.7" dy="-2.7">2</tspan></text>
<line x1="227.7" y1="449.2" x2="227.7" y2="452.4" stroke="#222" stroke-width="1"/>
<text x="227.7" y="462.6" font-size="6.3" text-anchor="middle">FOXP3</text>
<line x1="289.4" y1="321.8" x2="289.4" y2="329.2" stroke="#444" stroke-width="0.9"/>
<line x1="289.4" y1="342.3" x2="289.4" y2="350.4" stroke="#444" stroke-width="0.9"/>
<rect x="285.0" y="329.2" width="8.8" height="13.1" fill="#22428a"/>
<line x1="285.0" y1="334.2" x2="293.8" y2="334.2" stroke="#111" stroke-width="1.3"/>
<line x1="298.5" y1="321.9" x2="298.5" y2="326.2" stroke="#444" stroke-width="0.9"/>
<line x1="298.5" y1="345.8" x2="298.5" y2="362.7" stroke="#444" stroke-width="0.9"/>
<rect x="294.0" y="326.2" width="9.0" height="19.6" fill="#ecbc1c"/>
<line x1="294.0" y1="336.4" x2="303.0" y2="336.4" stroke="#111" stroke-width="1.3"/>
<circle cx="287.1" cy="321.8" r="2.0" fill="#fff" stroke="#222" stroke-width="0.85"/>
<circle cx="289.2" cy="325.8" r="2.0" fill="#fff" stroke="#222" stroke-width="0.85"/>
<circle cx="284.6" cy="330.8" r="2.0" fill="#fff" stroke="#222" stroke-width="0.85"/>
<circle cx="289.4" cy="331.5" r="2.0" fill="#fff" stroke="#222" stroke-width="0.85"/>
<circle cx="280.0" cy="337.2" r="2.0" fill="#fff" stroke="#222" stroke-width="0.85"/>
<circle cx="289.4" cy="337.3" r="2.0" fill="#fff" stroke="#222" stroke-width="0.85"/>
<circle cx="294.2" cy="336.5" r="2.0" fill="#fff" stroke="#222" stroke-width="0.85"/>
<circle cx="298.5" cy="336.5" r="2.0" fill="#fff" stroke="#222" stroke-width="0.85"/>
<circle cx="286.8" cy="341.5" r="2.0" fill="#fff" stroke="#222" stroke-width="0.85"/>
<circle cx="289.6" cy="345.8" r="2.0" fill="#fff" stroke="#222" stroke-width="0.85"/>
<circle cx="293.8" cy="346.0" r="2.0" fill="#fff" stroke="#222" stroke-width="0.85"/>
<circle cx="298.5" cy="346.4" r="2.0" fill="#fff" stroke="#222" stroke-width="0.85"/>
<circle cx="298.5" cy="321.9" r="2.0" fill="#fff" stroke="#222" stroke-width="0.85"/>
<circle cx="298.5" cy="327.3" r="2.0" fill="#fff" stroke="#222" stroke-width="0.85"/>
<circle cx="289.6" cy="350.4" r="2.0" fill="#fff" stroke="#222" stroke-width="0.85"/>
<circle cx="284.6" cy="351.8" r="2.0" fill="#fff" stroke="#222" stroke-width="0.85"/>
<circle cx="280.0" cy="352.7" r="2.0" fill="#fff" stroke="#222" stroke-width="0.85"/>
<circle cx="275.8" cy="351.8" r="2.0" fill="#fff" stroke="#222" stroke-width="0.85"/>
<circle cx="275.4" cy="353.0" r="2.0" fill="#fff" stroke="#222" stroke-width="0.85"/>
<circle cx="298.6" cy="362.7" r="2.0" fill="#fff" stroke="#222" stroke-width="0.85"/>
<circle cx="298.4" cy="300.6" r="2.0" fill="#fff" stroke="#222" stroke-width="0.85"/>
<line x1="314.6" y1="344.3" x2="314.6" y2="363.0" stroke="#444" stroke-width="0.9"/>
<line x1="314.6" y1="395.4" x2="314.6" y2="403.8" stroke="#444" stroke-width="0.9"/>
<rect x="310.3" y="363.0" width="8.7" height="32.4" fill="#4f5669"/>
<line x1="310.3" y1="392.6" x2="319.0" y2="392.6" stroke="#111" stroke-width="1.3"/>
<line x1="323.9" y1="335.4" x2="323.9" y2="349.2" stroke="#444" stroke-width="0.9"/>
<line x1="323.9" y1="375.0" x2="323.9" y2="397.5" stroke="#444" stroke-width="0.9"/>
<rect x="319.5" y="349.2" width="8.7" height="25.8" fill="#22428a"/>
<line x1="319.5" y1="361.5" x2="328.2" y2="361.5" stroke="#111" stroke-width="1.3"/>
<line x1="333.1" y1="318.5" x2="333.1" y2="328.3" stroke="#444" stroke-width="0.9"/>
<line x1="333.1" y1="372.3" x2="333.1" y2="400.0" stroke="#444" stroke-width="0.9"/>
<rect x="328.5" y="328.3" width="9.2" height="44.0" fill="#ecbc1c"/>
<line x1="328.5" y1="362.0" x2="337.7" y2="362.0" stroke="#111" stroke-width="1.3"/>
<circle cx="314.6" cy="344.3" r="2.0" fill="#fff" stroke="#222" stroke-width="0.85"/>
<circle cx="314.6" cy="363.0" r="2.0" fill="#fff" stroke="#222" stroke-width="0.85"/>
<circle cx="311.0" cy="393.0" r="2.0" fill="#fff" stroke="#222" stroke-width="0.85"/>
<circle cx="314.6" cy="396.5" r="2.0" fill="#fff" stroke="#222" stroke-width="0.85"/>
<circle cx="314.6" cy="403.8" r="2.0" fill="#fff" stroke="#222" stroke-width="0.85"/>
<circle cx="323.8" cy="335.4" r="2.0" fill="#fff" stroke="#222" stroke-width="0.85"/>
<circle cx="319.0" cy="348.6" r="2.0" fill="#fff" stroke="#222" stroke-width="0.85"/>
<circle cx="323.8" cy="349.7" r="2.0" fill="#fff" stroke="#222" stroke-width="0.85"/>
<circle cx="323.8" cy="359.0" r="2.0" fill="#fff" stroke="#222" stroke-width="0.85"/>
<circle cx="323.8" cy="364.3" r="2.0" fill="#fff" stroke="#222" stroke-width="0.85"/>
<circle cx="323.8" cy="374.0" r="2.0" fill="#fff" stroke="#222" stroke-width="0.85"/>
<circle cx="323.8" cy="380.0" r="2.0" fill="#fff" stroke="#222" stroke-width="0.85"/>
<circle cx="323.8" cy="397.5" r="2.0" fill="#fff" stroke="#222" stroke-width="0.85"/>
<circle cx="333.0" cy="283.8" r="2.0" fill="#fff" stroke="#222" stroke-width="0.85"/>
<circle cx="333.0" cy="318.5" r="2.0" fill="#fff" stroke="#222" stroke-width="0.85"/>
<circle cx="333.0" cy="332.6" r="2.0" fill="#fff" stroke="#222" stroke-width="0.85"/>
<circle cx="333.0" cy="356.3" r="2.0" fill="#fff" stroke="#222" stroke-width="0.85"/>
<circle cx="333.0" cy="369.2" r="2.0" fill="#fff" stroke="#222" stroke-width="0.85"/>
<circle cx="329.0" cy="372.3" r="2.0" fill="#fff" stroke="#222" stroke-width="0.85"/>
<circle cx="333.0" cy="374.8" r="2.0" fill="#fff" stroke="#222" stroke-width="0.85"/>
<circle cx="333.0" cy="400.0" r="2.0" fill="#fff" stroke="#222" stroke-width="0.85"/>
<line x1="349.1" y1="417.0" x2="349.1" y2="418.0" stroke="#444" stroke-width="0.9"/>
<line x1="349.1" y1="429.7" x2="349.1" y2="440.5" stroke="#444" stroke-width="0.9"/>
<rect x="344.8" y="418.0" width="8.7" height="11.7" fill="#4f5669"/>
<line x1="344.8" y1="425.5" x2="353.5" y2="425.5" stroke="#111" stroke-width="1.3"/>
<line x1="358.2" y1="380.3" x2="358.2" y2="392.8" stroke="#444" stroke-width="0.9"/>
<line x1="358.2" y1="407.0" x2="358.2" y2="414.8" stroke="#444" stroke-width="0.9"/>
<rect x="353.8" y="392.8" width="8.8" height="14.2" fill="#22428a"/>
<line x1="353.8" y1="401.5" x2="362.6" y2="401.5" stroke="#111" stroke-width="1.3"/>
<line x1="366.8" y1="407.0" x2="366.8" y2="412.3" stroke="#444" stroke-width="0.9"/>
<line x1="366.8" y1="419.3" x2="366.8" y2="433.0" stroke="#444" stroke-width="0.9"/>
<rect x="363.3" y="412.3" width="8.7" height="7.0" fill="#ecbc1c"/>
<line x1="363.3" y1="415.8" x2="372.0" y2="415.8" stroke="#111" stroke-width="1.3"/>
<circle cx="349.0" cy="417.0" r="2.0" fill="#fff" stroke="#222" stroke-width="0.85"/>
<circle cx="346.0" cy="425.0" r="2.0" fill="#fff" stroke="#222" stroke-width="0.85"/>
<circle cx="349.0" cy="428.0" r="2.0" fill="#fff" stroke="#222" stroke-width="0.85"/>
<circle cx="349.0" cy="440.5" r="2.0" fill="#fff" stroke="#222" stroke-width="0.85"/>
<circle cx="358.3" cy="380.3" r="2.0" fill="#fff" stroke="#222" stroke-width="0.85"/>
<circle cx="355.5" cy="390.0" r="2.0" fill="#fff" stroke="#222" stroke-width="0.85"/>
<circle cx="358.3" cy="393.5" r="2.0" fill="#fff" stroke="#222" stroke-width="0.85"/>
<circle cx="358.3" cy="398.5" r="2.0" fill="#fff" stroke="#222" stroke-width="0.85"/>
<circle cx="349.0" cy="396.5" r="2.0" fill="#fff" stroke="#222" stroke-width="0.85"/>
<circle cx="356.7" cy="405.6" r="2.0" fill="#fff" stroke="#222" stroke-width="0.85"/>
<circle cx="360.8" cy="404.0" r="2.0" fill="#fff" stroke="#222" stroke-width="0.85"/>
<circle cx="358.3" cy="410.5" r="2.0" fill="#fff" stroke="#222" stroke-width="0.85"/>
<circle cx="358.3" cy="414.8" r="2.0" fill="#fff" stroke="#222" stroke-width="0.85"/>
<circle cx="366.0" cy="408.0" r="2.0" fill="#fff" stroke="#222" stroke-width="0.85"/>
<circle cx="370.5" cy="408.5" r="2.0" fill="#fff" stroke="#222" stroke-width="0.85"/>
<circle cx="363.0" cy="412.0" r="2.0" fill="#fff" stroke="#222" stroke-width="0.85"/>
<circle cx="366.8" cy="413.7" r="2.0" fill="#fff" stroke="#222" stroke-width="0.85"/>
<circle cx="362.0" cy="417.0" r="2.0" fill="#fff" stroke="#222" stroke-width="0.85"/>
<circle cx="366.8" cy="418.5" r="2.0" fill="#fff" stroke="#222" stroke-width="0.85"/>
<circle cx="366.8" cy="424.0" r="2.0" fill="#fff" stroke="#222" stroke-width="0.85"/>
<circle cx="366.8" cy="433.0" r="2.0" fill="#fff" stroke="#222" stroke-width="0.85"/>
<path d="M288.0,278.6 L288.0,277.4 L298.8,277.4 L298.8,278.6" fill="none" stroke="#222" stroke-width="0.9"/>
<text x="293.4" y="275.8" font-size="5.5" text-anchor="middle">ns</text>
<path d="M323.0,278.6 L323.0,277.4 L333.5,277.4 L333.5,278.6" fill="none" stroke="#222" stroke-width="0.9"/>
<text x="328.2" y="275.8" font-size="5.5" text-anchor="middle">ns</text>
<path d="M357.0,278.6 L357.0,277.4 L367.7,277.4 L367.7,278.6" fill="none" stroke="#222" stroke-width="0.9"/>
<text x="362.4" y="275.8" font-size="5.5" text-anchor="middle">*</text>
<rect x="272.7" y="270.0" width="102.69999999999999" height="178.8" fill="none" stroke="#222" stroke-width="1.6"/>
<line x1="269.6" y1="286.5" x2="272.7" y2="286.5" stroke="#222" stroke-width="1"/>
<text x="266.2" y="288.8" font-size="6.7" text-anchor="end" fill="#222">10<tspan font-size="4.7" dy="-2.7">4</tspan></text>
<line x1="269.6" y1="349.2" x2="272.7" y2="349.2" stroke="#222" stroke-width="1"/>
<text x="266.2" y="351.5" font-size="6.7" text-anchor="end" fill="#222">10<tspan font-size="4.7" dy="-2.7">3</tspan></text>
<line x1="269.6" y1="411.9" x2="272.7" y2="411.9" stroke="#222" stroke-width="1"/>
<text x="266.2" y="414.2" font-size="6.7" text-anchor="end" fill="#222">10<tspan font-size="4.7" dy="-2.7">2</tspan></text>
<line x1="288.9" y1="448.8" x2="288.9" y2="452.0" stroke="#222" stroke-width="1"/>
<text x="288.9" y="462.6" font-size="6.3" text-anchor="middle">CD68</text>
<line x1="324.0" y1="448.8" x2="324.0" y2="452.0" stroke="#222" stroke-width="1"/>
<text x="324.0" y="462.6" font-size="6.3" text-anchor="middle">CD163</text>
<line x1="358.2" y1="448.8" x2="358.2" y2="452.0" stroke="#222" stroke-width="1"/>
<text x="358.2" y="462.6" font-size="6.3" text-anchor="middle">CD274</text>
<text x="358.2" y="470.6" font-size="6.3" text-anchor="middle">(PDL1)</text>
<text x="390.7" y="264.8" font-size="12" text-anchor="start" font-weight="bold" fill="#000" stroke="#000" stroke-width="0.35">D</text>
<text x="0" y="0" font-size="10.0" text-anchor="middle" fill="#222" textLength="107" lengthAdjust="spacingAndGlyphs" transform="translate(400.1,355.3) rotate(-90)">Protein expression (% positive area)</text>
<line x1="418.4" y1="268.8" x2="418.4" y2="350.4" stroke="#222" stroke-width="1.2"/>
<line x1="417.8" y1="347.3" x2="513.0" y2="347.3" stroke="#222" stroke-width="1.4"/>
<line x1="415.0" y1="347.3" x2="418.4" y2="347.3" stroke="#222" stroke-width="1.1"/>
<text x="412.4" y="349.7" font-size="6.8" text-anchor="end" textLength="3.75" lengthAdjust="spacingAndGlyphs">0</text>
<line x1="415.0" y1="336.4" x2="418.4" y2="336.4" stroke="#222" stroke-width="1.1"/>
<text x="412.4" y="338.8" font-size="6.8" text-anchor="end" textLength="3.75" lengthAdjust="spacingAndGlyphs">5</text>
<line x1="415.0" y1="325.5" x2="418.4" y2="325.5" stroke="#222" stroke-width="1.1"/>
<text x="412.4" y="327.9" font-size="6.8" text-anchor="end" textLength="7.50" lengthAdjust="spacingAndGlyphs">10</text>
<line x1="415.0" y1="314.6" x2="418.4" y2="314.6" stroke="#222" stroke-width="1.1"/>
<text x="412.4" y="317.0" font-size="6.8" text-anchor="end" textLength="7.50" lengthAdjust="spacingAndGlyphs">15</text>
<line x1="415.0" y1="303.7" x2="418.4" y2="303.7" stroke="#222" stroke-width="1.1"/>
<text x="412.4" y="306.1" font-size="6.8" text-anchor="end" textLength="7.50" lengthAdjust="spacingAndGlyphs">20</text>
<line x1="415.0" y1="292.8" x2="418.4" y2="292.8" stroke="#222" stroke-width="1.1"/>
<text x="412.4" y="295.2" font-size="6.8" text-anchor="end" textLength="7.50" lengthAdjust="spacingAndGlyphs">25</text>
<line x1="415.0" y1="281.9" x2="418.4" y2="281.9" stroke="#222" stroke-width="1.1"/>
<text x="412.4" y="284.3" font-size="6.8" text-anchor="end" textLength="7.50" lengthAdjust="spacingAndGlyphs">30</text>
<line x1="415.0" y1="271.0" x2="418.4" y2="271.0" stroke="#222" stroke-width="1.1"/>
<text x="412.4" y="273.4" font-size="6.8" text-anchor="end" textLength="7.50" lengthAdjust="spacingAndGlyphs">35</text>
<line x1="464.0" y1="347.3" x2="464.0" y2="350.2" stroke="#222" stroke-width="0.9"/>
<line x1="509.7" y1="347.3" x2="509.7" y2="350.2" stroke="#222" stroke-width="0.9"/>
<text x="469.8" y="277.7" font-size="7.6" text-anchor="middle" textLength="17.9" lengthAdjust="spacingAndGlyphs">CD68</text>
<line x1="441.7" y1="282.1" x2="488.7" y2="305.9" stroke="#44206e" stroke-width="1.3"/>
<line x1="441.7" y1="327.5" x2="488.7" y2="327.5" stroke="#5a3a8a" stroke-width="1.3"/>
<line x1="441.7" y1="328.3" x2="488.7" y2="341.3" stroke="#44206e" stroke-width="1.3"/>
<line x1="441.7" y1="332.1" x2="488.7" y2="328.0" stroke="#44206e" stroke-width="1.3"/>
<line x1="441.7" y1="340.8" x2="488.7" y2="328.7" stroke="#44206e" stroke-width="1.3"/>
<line x1="441.7" y1="340.2" x2="488.7" y2="341.3" stroke="#5a3a8a" stroke-width="1.3"/>
<line x1="441.7" y1="342.0" x2="488.7" y2="342.5" stroke="#5a3a8a" stroke-width="1.3"/>
<line x1="441.7" y1="344.2" x2="488.7" y2="344.2" stroke="#44206e" stroke-width="1.3"/>
<line x1="441.7" y1="329.8" x2="488.7" y2="332.5" stroke="#c01a3c" stroke-width="1.3"/>
<line x1="418.4" y1="360.8" x2="418.4" y2="442.7" stroke="#222" stroke-width="1.2"/>
<line x1="417.8" y1="439.9" x2="513.0" y2="439.9" stroke="#222" stroke-width="1.5"/>
<line x1="415.0" y1="440.0" x2="418.4" y2="440.0" stroke="#222" stroke-width="1.1"/>
<text x="412.4" y="442.4" font-size="6.8" text-anchor="end" textLength="3.75" lengthAdjust="spacingAndGlyphs">0</text>
<line x1="415.0" y1="427.3" x2="418.4" y2="427.3" stroke="#222" stroke-width="1.1"/>
<text x="412.4" y="429.7" font-size="6.8" text-anchor="end" textLength="3.75" lengthAdjust="spacingAndGlyphs">5</text>
<line x1="415.0" y1="414.6" x2="418.4" y2="414.6" stroke="#222" stroke-width="1.1"/>
<text x="412.4" y="417.0" font-size="6.8" text-anchor="end" textLength="7.50" lengthAdjust="spacingAndGlyphs">10</text>
<line x1="415.0" y1="401.9" x2="418.4" y2="401.9" stroke="#222" stroke-width="1.1"/>
<text x="412.4" y="404.3" font-size="6.8" text-anchor="end" textLength="7.50" lengthAdjust="spacingAndGlyphs">15</text>
<line x1="415.0" y1="389.2" x2="418.4" y2="389.2" stroke="#222" stroke-width="1.1"/>
<text x="412.4" y="391.6" font-size="6.8" text-anchor="end" textLength="7.50" lengthAdjust="spacingAndGlyphs">20</text>
<line x1="415.0" y1="376.5" x2="418.4" y2="376.5" stroke="#222" stroke-width="1.1"/>
<text x="412.4" y="378.9" font-size="6.8" text-anchor="end" textLength="7.50" lengthAdjust="spacingAndGlyphs">25</text>
<line x1="415.0" y1="363.8" x2="418.4" y2="363.8" stroke="#222" stroke-width="1.1"/>
<text x="412.4" y="366.2" font-size="6.8" text-anchor="end" textLength="7.50" lengthAdjust="spacingAndGlyphs">30</text>
<line x1="464.0" y1="439.9" x2="464.0" y2="442.8" stroke="#222" stroke-width="0.9"/>
<line x1="509.7" y1="439.9" x2="509.7" y2="442.8" stroke="#222" stroke-width="0.9"/>
<text x="471.0" y="373.5" font-size="7.0" text-anchor="middle" textLength="16.0" lengthAdjust="spacingAndGlyphs">PDL1</text>
<line x1="442.1" y1="376.3" x2="490.6" y2="426.5" stroke="#44206e" stroke-width="1.3"/>
<line x1="442.1" y1="382.5" x2="490.6" y2="424.2" stroke="#44206e" stroke-width="1.3"/>
<line x1="442.1" y1="411.2" x2="490.6" y2="432.9" stroke="#44206e" stroke-width="1.3"/>
<line x1="442.1" y1="419.4" x2="490.6" y2="434.6" stroke="#44206e" stroke-width="1.3"/>
<line x1="442.1" y1="424.2" x2="490.6" y2="423.6" stroke="#5a3a8a" stroke-width="1.3"/>
<line x1="442.1" y1="426.5" x2="490.6" y2="434.0" stroke="#44206e" stroke-width="1.3"/>
<line x1="442.1" y1="427.3" x2="490.6" y2="436.3" stroke="#44206e" stroke-width="1.3"/>
<line x1="442.1" y1="432.9" x2="490.6" y2="435.2" stroke="#5a3a8a" stroke-width="1.3"/>
<line x1="442.1" y1="412.9" x2="490.6" y2="431.1" stroke="#c01a3c" stroke-width="1.3"/>
<text x="441.4" y="451.6" font-size="6.2" text-anchor="middle" textLength="41.3" lengthAdjust="spacingAndGlyphs">pre-treatment</text>
<text x="486.4" y="451.6" font-size="6.2" text-anchor="middle" textLength="27.5" lengthAdjust="spacingAndGlyphs">re-biopsy</text>
<text x="8.1" y="497.7" font-size="12" text-anchor="start" font-weight="bold" fill="#000" stroke="#000" stroke-width="0.35">E</text>
<rect x="45.2" y="496.8" width="14.6" height="5.6" fill="#4e2166"/>
<text x="63.0" y="502.0" font-size="6.5" text-anchor="start" textLength="34.6" lengthAdjust="spacingAndGlyphs">pre-treatment</text>
<rect x="106.9" y="496.8" width="13.6" height="5.6" fill="#a50a2e"/>
<text x="123.6" y="502.0" font-size="6.5" text-anchor="start" textLength="19.3" lengthAdjust="spacingAndGlyphs">relapse</text>
<text x="0" y="0" font-size="10.2" text-anchor="middle" fill="#222" textLength="97.2" lengthAdjust="spacingAndGlyphs" transform="translate(16.3,594.4) rotate(-90)">Gene expression (log10 counts)</text>
<line x1="54.2" y1="589.6" x2="54.2" y2="611.0" stroke="#444" stroke-width="0.9"/>
<line x1="54.2" y1="650.8" x2="54.2" y2="654.3" stroke="#444" stroke-width="0.9"/>
<line x1="48.7" y1="589.6" x2="59.7" y2="589.6" stroke="#222" stroke-width="1"/>
<line x1="48.7" y1="654.3" x2="59.7" y2="654.3" stroke="#222" stroke-width="1"/>
<rect x="43.2" y="611.0" width="22.3" height="39.8" fill="#4e2166"/>
<line x1="43.2" y1="616.4" x2="65.5" y2="616.4" stroke="#111" stroke-width="1.3"/>
<circle cx="54.2" cy="589.6" r="2.0" fill="#fff" stroke="#222" stroke-width="0.85"/>
<circle cx="54.2" cy="611.2" r="2.0" fill="#fff" stroke="#222" stroke-width="0.85"/>
<circle cx="54.2" cy="616.6" r="2.0" fill="#fff" stroke="#222" stroke-width="0.85"/>
<circle cx="51.3" cy="651.3" r="2.0" fill="#fff" stroke="#222" stroke-width="0.85"/>
<circle cx="54.3" cy="654.3" r="2.0" fill="#fff" stroke="#222" stroke-width="0.85"/>
<rect x="65.7" y="583.4" width="22.1" height="1.6" fill="#a50a2e"/>
<line x1="65.7" y1="584.2" x2="87.8" y2="584.2" stroke="#222" stroke-width="0.9"/>
<circle cx="76.8" cy="555.6" r="2.0" fill="#fff" stroke="#222" stroke-width="0.85"/>
<circle cx="72.4" cy="584.6" r="2.0" fill="#fff" stroke="#222" stroke-width="0.85"/>
<circle cx="77.0" cy="585.6" r="2.0" fill="#fff" stroke="#222" stroke-width="0.85"/>
<circle cx="80.7" cy="582.9" r="2.0" fill="#fff" stroke="#222" stroke-width="0.85"/>
<circle cx="76.8" cy="674.5" r="2.0" fill="#fff" stroke="#222" stroke-width="0.85"/>
<line x1="110.8" y1="557.0" x2="110.8" y2="570.6" stroke="#444" stroke-width="0.9"/>
<line x1="105.3" y1="570.6" x2="116.3" y2="570.6" stroke="#222" stroke-width="1"/>
<rect x="99.2" y="539.6" width="22.8" height="17.4" fill="#4e2166"/>
<line x1="99.2" y1="546.7" x2="122.0" y2="546.7" stroke="#111" stroke-width="1.3"/>
<circle cx="110.8" cy="522.3" r="2.0" fill="#fff" stroke="#222" stroke-width="0.85"/>
<circle cx="110.8" cy="539.2" r="2.0" fill="#fff" stroke="#222" stroke-width="0.85"/>
<circle cx="110.8" cy="546.8" r="2.0" fill="#fff" stroke="#222" stroke-width="0.85"/>
<circle cx="110.8" cy="557.2" r="2.0" fill="#fff" stroke="#222" stroke-width="0.85"/>
<circle cx="110.8" cy="570.6" r="2.0" fill="#fff" stroke="#222" stroke-width="0.85"/>
<line x1="133.5" y1="599.8" x2="133.5" y2="608.8" stroke="#444" stroke-width="0.9"/>
<line x1="128.0" y1="608.8" x2="139.0" y2="608.8" stroke="#222" stroke-width="1"/>
<rect x="122.0" y="589.0" width="23.0" height="10.8" fill="#a50a2e"/>
<circle cx="133.5" cy="573.4" r="2.0" fill="#fff" stroke="#222" stroke-width="0.85"/>
<circle cx="128.8" cy="588.8" r="2.0" fill="#fff" stroke="#222" stroke-width="0.85"/>
<circle cx="133.5" cy="588.8" r="2.0" fill="#fff" stroke="#222" stroke-width="0.85"/>
<circle cx="133.5" cy="599.6" r="2.0" fill="#fff" stroke="#222" stroke-width="0.85"/>
<circle cx="133.5" cy="608.8" r="2.0" fill="#fff" stroke="#222" stroke-width="0.85"/>
<path d="M54.2,518.0 L54.2,516.8 L77.4,516.8 L77.4,518.0" fill="none" stroke="#222" stroke-width="0.9"/>
<text x="65.8" y="515.2" font-size="5.5" text-anchor="middle">ns</text>
<path d="M110.2,517.9 L110.2,516.7 L133.7,516.7 L133.7,517.9" fill="none" stroke="#222" stroke-width="0.9"/>
<text x="121.9" y="515.1" font-size="5.5" text-anchor="middle">*</text>
<line x1="37.4" y1="509.8" x2="37.4" y2="680.6" stroke="#222" stroke-width="1.5"/>
<line x1="36.7" y1="680.0" x2="150.8" y2="680.0" stroke="#222" stroke-width="1.5"/>
<line x1="34.0" y1="540.5" x2="37.4" y2="540.5" stroke="#222" stroke-width="1"/>
<text x="30.6" y="542.8" font-size="6.7" text-anchor="end" fill="#222">10<tspan font-size="4.7" dy="-2.7">3</tspan></text>
<line x1="34.0" y1="632.3" x2="37.4" y2="632.3" stroke="#222" stroke-width="1"/>
<text x="30.6" y="634.6" font-size="6.7" text-anchor="end" fill="#222">10<tspan font-size="4.7" dy="-2.7">2</tspan></text>
<line x1="65.5" y1="680.0" x2="65.5" y2="682.8" stroke="#222" stroke-width="1"/>
<line x1="122.0" y1="680.0" x2="122.0" y2="682.8" stroke="#222" stroke-width="1"/>
<text x="65.5" y="691.8" font-size="6.3" text-anchor="middle">PDCD1</text>
<text x="65.5" y="699.8" font-size="6.3" text-anchor="middle">(PD1)</text>
<text x="122.0" y="691.8" font-size="6.3" text-anchor="middle">CD274</text>
<text x="122.0" y="699.8" font-size="6.3" text-anchor="middle">(PDL1)</text>
<text x="165.7" y="497.7" font-size="12" text-anchor="start" font-weight="bold" fill="#000" stroke="#000" stroke-width="0.35">F</text>
<line x1="195.5" y1="502.0" x2="195.5" y2="583.6" stroke="#222" stroke-width="1.2"/>
<line x1="194.9" y1="580.6" x2="290.8" y2="580.6" stroke="#222" stroke-width="1.4"/>
<line x1="192.3" y1="580.5" x2="195.5" y2="580.5" stroke="#222" stroke-width="1.1"/>
<text x="189.0" y="582.8" font-size="6.5" text-anchor="end" textLength="3.70" lengthAdjust="spacingAndGlyphs">0</text>
<line x1="192.3" y1="565.3" x2="195.5" y2="565.3" stroke="#222" stroke-width="1.1"/>
<text x="189.0" y="567.6" font-size="6.5" text-anchor="end" textLength="3.70" lengthAdjust="spacingAndGlyphs">5</text>
<line x1="192.3" y1="550.1" x2="195.5" y2="550.1" stroke="#222" stroke-width="1.1"/>
<text x="189.0" y="552.4" font-size="6.5" text-anchor="end" textLength="7.40" lengthAdjust="spacingAndGlyphs">10</text>
<line x1="192.3" y1="534.9" x2="195.5" y2="534.9" stroke="#222" stroke-width="1.1"/>
<text x="189.0" y="537.2" font-size="6.5" text-anchor="end" textLength="7.40" lengthAdjust="spacingAndGlyphs">15</text>
<line x1="192.3" y1="519.7" x2="195.5" y2="519.7" stroke="#222" stroke-width="1.1"/>
<text x="189.0" y="522.0" font-size="6.5" text-anchor="end" textLength="7.40" lengthAdjust="spacingAndGlyphs">20</text>
<line x1="192.3" y1="504.5" x2="195.5" y2="504.5" stroke="#222" stroke-width="1.1"/>
<text x="189.0" y="506.8" font-size="6.5" text-anchor="end" textLength="7.40" lengthAdjust="spacingAndGlyphs">25</text>
<line x1="241.3" y1="580.6" x2="241.3" y2="583.6" stroke="#222" stroke-width="0.9"/>
<line x1="288.3" y1="580.6" x2="288.3" y2="583.6" stroke="#222" stroke-width="0.9"/>
<text x="243.1" y="508.4" font-size="8.5" text-anchor="middle" textLength="14.8" lengthAdjust="spacingAndGlyphs">PD1</text>
<line x1="207.5" y1="552.5" x2="275.0" y2="510.5" stroke="#44206e" stroke-width="1.3"/>
<line x1="207.5" y1="581.3" x2="275.0" y2="552.5" stroke="#44206e" stroke-width="1.3"/>
<line x1="207.5" y1="576.8" x2="275.0" y2="568.8" stroke="#44206e" stroke-width="1.3"/>
<line x1="207.5" y1="578.3" x2="275.0" y2="570.0" stroke="#44206e" stroke-width="1.3"/>
<line x1="207.5" y1="580.5" x2="275.0" y2="572.5" stroke="#5a3a8a" stroke-width="1.3"/>
<line x1="207.5" y1="580.5" x2="275.0" y2="574.5" stroke="#5a3a8a" stroke-width="1.3"/>
<line x1="207.5" y1="573.8" x2="275.0" y2="555.8" stroke="#c01a3c" stroke-width="1.3"/>
<text x="218.8" y="592.8" font-size="6.3" text-anchor="middle" textLength="41.5" lengthAdjust="spacingAndGlyphs">pre-treatment</text>
<text x="265.0" y="592.8" font-size="6.3" text-anchor="middle" textLength="21" lengthAdjust="spacingAndGlyphs">relapse</text>
<text x="0" y="0" font-size="9.0" text-anchor="middle" fill="#222" textLength="52.8" lengthAdjust="spacingAndGlyphs" transform="translate(177.0,540.7) rotate(-90)">IHC (% pos. cells)</text>
<line x1="195.5" y1="609.5" x2="195.5" y2="690.8" stroke="#222" stroke-width="1.2"/>
<line x1="194.9" y1="688.0" x2="290.8" y2="688.0" stroke="#222" stroke-width="1.4"/>
<line x1="192.3" y1="688.0" x2="195.5" y2="688.0" stroke="#222" stroke-width="1.1"/>
<text x="189.0" y="690.3" font-size="6.5" text-anchor="end" textLength="3.70" lengthAdjust="spacingAndGlyphs">0</text>
<line x1="192.3" y1="668.9" x2="195.5" y2="668.9" stroke="#222" stroke-width="1.1"/>
<text x="189.0" y="671.2" font-size="6.5" text-anchor="end" textLength="7.40" lengthAdjust="spacingAndGlyphs">10</text>
<line x1="192.3" y1="649.8" x2="195.5" y2="649.8" stroke="#222" stroke-width="1.1"/>
<text x="189.0" y="652.1" font-size="6.5" text-anchor="end" textLength="7.40" lengthAdjust="spacingAndGlyphs">20</text>
<line x1="192.3" y1="630.7" x2="195.5" y2="630.7" stroke="#222" stroke-width="1.1"/>
<text x="189.0" y="633.0" font-size="6.5" text-anchor="end" textLength="7.40" lengthAdjust="spacingAndGlyphs">30</text>
<line x1="192.3" y1="611.6" x2="195.5" y2="611.6" stroke="#222" stroke-width="1.1"/>
<text x="189.0" y="613.9" font-size="6.5" text-anchor="end" textLength="7.40" lengthAdjust="spacingAndGlyphs">40</text>
<line x1="241.4" y1="688.0" x2="241.4" y2="690.8" stroke="#222" stroke-width="0.9"/>
<line x1="287.6" y1="688.0" x2="287.6" y2="690.8" stroke="#222" stroke-width="0.9"/>
<text x="243.0" y="616.1" font-size="8.2" text-anchor="middle" textLength="19.3" lengthAdjust="spacingAndGlyphs">PDL1</text>
<line x1="215.0" y1="615.0" x2="273.8" y2="651.3" stroke="#44206e" stroke-width="1.3"/>
<line x1="215.0" y1="621.8" x2="273.8" y2="651.0" stroke="#44206e" stroke-width="1.3"/>
<line x1="215.0" y1="623.0" x2="273.8" y2="652.5" stroke="#44206e" stroke-width="1.3"/>
<line x1="215.0" y1="624.0" x2="273.8" y2="653.5" stroke="#5a3a8a" stroke-width="1.3"/>
<line x1="215.0" y1="627.5" x2="273.8" y2="630.5" stroke="#5a3a8a" stroke-width="1.3"/>
<line x1="215.0" y1="662.0" x2="273.8" y2="679.3" stroke="#44206e" stroke-width="1.3"/>
<line x1="215.0" y1="630.0" x2="273.8" y2="654.3" stroke="#c01a3c" stroke-width="1.3"/>
<text x="218.8" y="700.0" font-size="6.3" text-anchor="middle" textLength="41.5" lengthAdjust="spacingAndGlyphs">pre-treatment</text>
<text x="265.0" y="700.0" font-size="6.3" text-anchor="middle" textLength="21" lengthAdjust="spacingAndGlyphs">relapse</text>
<text x="0" y="0" font-size="9.0" text-anchor="middle" fill="#222" textLength="52.2" lengthAdjust="spacingAndGlyphs" transform="translate(176.8,648.3) rotate(-90)">IHC (% pos. area)</text>
<clipPath id="cG"><rect x="307.0" y="488.0" width="95.1" height="95.1"/></clipPath>
<g clip-path="url(#cG)"><g filter="url(#blur)">
<rect x="307.0" y="488.0" width="95.1" height="95.1" fill="#e4e2df"/>
<ellipse cx="320.0" cy="514.0" rx="6.5" ry="5.9" fill="#c9cde0" stroke="#9aa2c8" stroke-width="1" opacity="0.9"/>
<ellipse cx="357.0" cy="528.0" rx="5.0" ry="4.5" fill="#c4c9df" stroke="#9aa2c8" stroke-width="1" opacity="0.8"/>
<ellipse cx="350.0" cy="541.2" rx="2.6" ry="3.3" fill="#a5acd0" stroke="#8a93bf" stroke-width="0.6"/>
<ellipse cx="338.8" cy="544.7" rx="2.7" ry="2.4" fill="#afb5d4" stroke="#8a93bf" stroke-width="0.6"/>
<ellipse cx="354.0" cy="550.3" rx="3.1" ry="2.5" fill="#9da5cc" stroke="#8a93bf" stroke-width="0.6"/>
<ellipse cx="346.6" cy="552.8" rx="3.5" ry="2.8" fill="#a5acd0" stroke="#8a93bf" stroke-width="0.6"/>
<ellipse cx="342.4" cy="536.0" rx="3.0" ry="2.8" fill="#a5acd0" stroke="#8a93bf" stroke-width="0.6"/>
<ellipse cx="350.5" cy="558.8" rx="2.3" ry="2.9" fill="#a5acd0" stroke="#8a93bf" stroke-width="0.6"/>
<ellipse cx="349.9" cy="528.9" rx="2.6" ry="2.8" fill="#afb5d4" stroke="#8a93bf" stroke-width="0.6"/>
<ellipse cx="355.4" cy="520.6" rx="2.7" ry="2.9" fill="#b9bed9" stroke="#8a93bf" stroke-width="0.6"/>
<ellipse cx="331.7" cy="536.0" rx="3.0" ry="2.9" fill="#afb5d4" stroke="#8a93bf" stroke-width="0.6"/>
<ellipse cx="350.2" cy="513.0" rx="3.1" ry="3.1" fill="#b9bed9" stroke="#8a93bf" stroke-width="0.6"/>
<ellipse cx="329.4" cy="527.6" rx="3.3" ry="3.1" fill="#afb5d4" stroke="#8a93bf" stroke-width="0.6"/>
<ellipse cx="339.5" cy="552.3" rx="3.0" ry="3.4" fill="#9da5cc" stroke="#8a93bf" stroke-width="0.6"/>
<ellipse cx="351.1" cy="503.8" rx="2.5" ry="2.8" fill="#c1c5dc" stroke="#8a93bf" stroke-width="0.6"/>
<ellipse cx="342.8" cy="528.4" rx="3.0" ry="3.4" fill="#c1c5dc" stroke="#8a93bf" stroke-width="0.6"/>
<ellipse cx="339.5" cy="560.5" rx="2.6" ry="3.1" fill="#b9bed9" stroke="#8a93bf" stroke-width="0.6"/>
<ellipse cx="363.3" cy="547.8" rx="2.1" ry="2.6" fill="#9da5cc" stroke="#8a93bf" stroke-width="0.6"/>
<ellipse cx="345.3" cy="518.3" rx="2.7" ry="3.3" fill="#a5acd0" stroke="#8a93bf" stroke-width="0.6"/>
<ellipse cx="344.0" cy="567.5" rx="3.2" ry="2.8" fill="#a5acd0" stroke="#8a93bf" stroke-width="0.6"/>
<ellipse cx="356.9" cy="538.8" rx="2.9" ry="2.9" fill="#b9bed9" stroke="#8a93bf" stroke-width="0.6"/>
<ellipse cx="341.5" cy="510.6" rx="3.4" ry="2.9" fill="#b9bed9" stroke="#8a93bf" stroke-width="0.6"/>
<ellipse cx="335.9" cy="530.4" rx="3.3" ry="2.9" fill="#afb5d4" stroke="#8a93bf" stroke-width="0.6"/>
<ellipse cx="319.5" cy="531.1" rx="3.4" ry="2.8" fill="#afb5d4" stroke="#8a93bf" stroke-width="0.6"/>
<ellipse cx="338.8" cy="521.3" rx="2.7" ry="2.9" fill="#c1c5dc" stroke="#8a93bf" stroke-width="0.6"/>
<ellipse cx="332.9" cy="510.5" rx="3.5" ry="3.5" fill="#9da5cc" stroke="#8a93bf" stroke-width="0.6"/>
<ellipse cx="365.0" cy="540.3" rx="3.4" ry="2.9" fill="#c1c5dc" stroke="#8a93bf" stroke-width="0.6"/>
<ellipse cx="334.7" cy="571.7" rx="2.6" ry="3.1" fill="#b9bed9" stroke="#8a93bf" stroke-width="0.6"/>
<ellipse cx="324.5" cy="542.2" rx="2.4" ry="3.0" fill="#a5acd0" stroke="#8a93bf" stroke-width="0.6"/>
<ellipse cx="359.5" cy="559.4" rx="2.7" ry="2.4" fill="#c1c5dc" stroke="#8a93bf" stroke-width="0.6"/>
<ellipse cx="371.0" cy="536.1" rx="3.1" ry="2.9" fill="#9da5cc" stroke="#8a93bf" stroke-width="0.6"/>
<ellipse cx="320.4" cy="523.4" rx="2.7" ry="3.3" fill="#9da5cc" stroke="#8a93bf" stroke-width="0.6"/>
<ellipse cx="369.1" cy="552.8" rx="3.0" ry="2.5" fill="#c1c5dc" stroke="#8a93bf" stroke-width="0.6"/>
<ellipse cx="360.1" cy="510.9" rx="2.3" ry="2.8" fill="#b9bed9" stroke="#8a93bf" stroke-width="0.6"/>
<ellipse cx="330.6" cy="556.7" rx="2.5" ry="3.0" fill="#9da5cc" stroke="#8a93bf" stroke-width="0.6"/>
<ellipse cx="368.2" cy="559.9" rx="2.3" ry="2.9" fill="#c1c5dc" stroke="#8a93bf" stroke-width="0.6"/>
<ellipse cx="353.8" cy="569.9" rx="2.8" ry="3.4" fill="#9da5cc" stroke="#8a93bf" stroke-width="0.6"/>
<ellipse cx="325.6" cy="507.9" rx="2.9" ry="2.4" fill="#b9bed9" stroke="#8a93bf" stroke-width="0.6"/>
<ellipse cx="312.3" cy="522.9" rx="3.3" ry="3.4" fill="#afb5d4" stroke="#8a93bf" stroke-width="0.6"/>
<ellipse cx="370.4" cy="525.6" rx="2.8" ry="2.2" fill="#9da5cc" stroke="#8a93bf" stroke-width="0.6"/>
<ellipse cx="373.0" cy="545.8" rx="3.1" ry="2.6" fill="#b9bed9" stroke="#8a93bf" stroke-width="0.6"/>
<ellipse cx="302.8" cy="520.3" rx="2.5" ry="3.1" fill="#9da5cc" stroke="#8a93bf" stroke-width="0.6"/>
<ellipse cx="363.4" cy="568.6" rx="2.4" ry="2.7" fill="#b9bed9" stroke="#8a93bf" stroke-width="0.6"/>
<ellipse cx="315.6" cy="541.3" rx="3.0" ry="2.8" fill="#a5acd0" stroke="#8a93bf" stroke-width="0.6"/>
<ellipse cx="342.7" cy="578.4" rx="2.7" ry="3.2" fill="#afb5d4" stroke="#8a93bf" stroke-width="0.6"/>
<ellipse cx="378.5" cy="551.8" rx="3.0" ry="2.9" fill="#c1c5dc" stroke="#8a93bf" stroke-width="0.6"/>
<ellipse cx="344.0" cy="502.4" rx="3.0" ry="2.7" fill="#a5acd0" stroke="#8a93bf" stroke-width="0.6"/>
<ellipse cx="376.1" cy="562.6" rx="2.9" ry="2.5" fill="#b9bed9" stroke="#8a93bf" stroke-width="0.6"/>
<ellipse cx="370.3" cy="571.3" rx="2.3" ry="3.0" fill="#9da5cc" stroke="#8a93bf" stroke-width="0.6"/>
<ellipse cx="379.0" cy="540.9" rx="2.6" ry="2.4" fill="#9da5cc" stroke="#8a93bf" stroke-width="0.6"/>
<ellipse cx="381.9" cy="520.7" rx="3.2" ry="3.4" fill="#a5acd0" stroke="#8a93bf" stroke-width="0.6"/>
<ellipse cx="378.0" cy="527.6" rx="2.7" ry="2.2" fill="#c1c5dc" stroke="#8a93bf" stroke-width="0.6"/>
<ellipse cx="310.5" cy="535.7" rx="3.4" ry="2.9" fill="#c1c5dc" stroke="#8a93bf" stroke-width="0.6"/>
<ellipse cx="307.1" cy="546.2" rx="2.4" ry="2.7" fill="#a5acd0" stroke="#8a93bf" stroke-width="0.6"/>
<ellipse cx="366.6" cy="514.0" rx="2.7" ry="2.5" fill="#a5acd0" stroke="#8a93bf" stroke-width="0.6"/>
<ellipse cx="303.2" cy="531.8" rx="3.4" ry="3.3" fill="#c1c5dc" stroke="#8a93bf" stroke-width="0.6"/>
<ellipse cx="313.5" cy="553.7" rx="2.8" ry="2.3" fill="#b9bed9" stroke="#8a93bf" stroke-width="0.6"/>
<ellipse cx="383.4" cy="557.7" rx="2.8" ry="3.3" fill="#afb5d4" stroke="#8a93bf" stroke-width="0.6"/>
<ellipse cx="335.2" cy="500.3" rx="2.9" ry="2.7" fill="#afb5d4" stroke="#8a93bf" stroke-width="0.6"/>
<ellipse cx="360.1" cy="496.1" rx="3.4" ry="3.2" fill="#afb5d4" stroke="#8a93bf" stroke-width="0.6"/>
<ellipse cx="334.4" cy="489.1" rx="2.8" ry="2.6" fill="#afb5d4" stroke="#8a93bf" stroke-width="0.6"/>
<ellipse cx="339.2" cy="494.3" rx="3.2" ry="3.2" fill="#b9bed9" stroke="#8a93bf" stroke-width="0.6"/>
<ellipse cx="319.5" cy="549.3" rx="2.8" ry="2.7" fill="#b9bed9" stroke="#8a93bf" stroke-width="0.6"/>
<ellipse cx="307.3" cy="510.3" rx="2.5" ry="3.2" fill="#9da5cc" stroke="#8a93bf" stroke-width="0.6"/>
<ellipse cx="328.9" cy="496.8" rx="2.5" ry="3.1" fill="#a5acd0" stroke="#8a93bf" stroke-width="0.6"/>
<ellipse cx="363.0" cy="578.1" rx="3.0" ry="3.4" fill="#afb5d4" stroke="#8a93bf" stroke-width="0.6"/>
<ellipse cx="390.7" cy="558.0" rx="2.7" ry="3.1" fill="#afb5d4" stroke="#8a93bf" stroke-width="0.6"/>
<ellipse cx="319.8" cy="503.9" rx="3.1" ry="3.3" fill="#a5acd0" stroke="#8a93bf" stroke-width="0.6"/>
<ellipse cx="304.6" cy="554.0" rx="2.8" ry="3.3" fill="#c1c5dc" stroke="#8a93bf" stroke-width="0.6"/>
<ellipse cx="376.2" cy="510.7" rx="3.0" ry="2.7" fill="#9da5cc" stroke="#8a93bf" stroke-width="0.6"/>
<ellipse cx="387.9" cy="533.4" rx="2.6" ry="3.2" fill="#9da5cc" stroke="#8a93bf" stroke-width="0.6"/>
<ellipse cx="336.8" cy="585.7" rx="2.6" ry="2.6" fill="#b9bed9" stroke="#8a93bf" stroke-width="0.6"/>
<ellipse cx="376.8" cy="577.2" rx="3.0" ry="2.9" fill="#9da5cc" stroke="#8a93bf" stroke-width="0.6"/>
<ellipse cx="302.5" cy="540.7" rx="2.5" ry="2.9" fill="#a5acd0" stroke="#8a93bf" stroke-width="0.6"/>
<ellipse cx="307.5" cy="500.1" rx="2.7" ry="2.6" fill="#a5acd0" stroke="#8a93bf" stroke-width="0.6"/>
<ellipse cx="332.3" cy="549.3" rx="3.3" ry="2.9" fill="#a5acd0" stroke="#8a93bf" stroke-width="0.6"/>
<ellipse cx="355.9" cy="576.7" rx="2.6" ry="2.7" fill="#afb5d4" stroke="#8a93bf" stroke-width="0.6"/>
<ellipse cx="314.7" cy="565.6" rx="3.3" ry="3.1" fill="#b9bed9" stroke="#8a93bf" stroke-width="0.6"/>
<ellipse cx="367.1" cy="507.0" rx="3.0" ry="3.3" fill="#a5acd0" stroke="#8a93bf" stroke-width="0.6"/>
<ellipse cx="386.0" cy="551.1" rx="3.2" ry="3.1" fill="#9da5cc" stroke="#8a93bf" stroke-width="0.6"/>
<ellipse cx="322.5" cy="557.7" rx="2.7" ry="2.7" fill="#a5acd0" stroke="#8a93bf" stroke-width="0.6"/>
<ellipse cx="390.4" cy="523.7" rx="2.9" ry="3.0" fill="#c1c5dc" stroke="#8a93bf" stroke-width="0.6"/>
<ellipse cx="364.8" cy="520.9" rx="3.1" ry="2.5" fill="#9da5cc" stroke="#8a93bf" stroke-width="0.6"/>
<ellipse cx="358.5" cy="503.8" rx="2.8" ry="2.3" fill="#afb5d4" stroke="#8a93bf" stroke-width="0.6"/>
<ellipse cx="388.5" cy="516.2" rx="2.8" ry="3.0" fill="#a5acd0" stroke="#8a93bf" stroke-width="0.6"/>
<ellipse cx="367.4" cy="498.2" rx="2.5" ry="2.9" fill="#9da5cc" stroke="#8a93bf" stroke-width="0.6"/>
<ellipse cx="385.1" cy="578.3" rx="3.5" ry="3.4" fill="#a5acd0" stroke="#8a93bf" stroke-width="0.6"/>
<ellipse cx="376.2" cy="501.2" rx="3.0" ry="3.2" fill="#9da5cc" stroke="#8a93bf" stroke-width="0.6"/>
<ellipse cx="385.0" cy="494.9" rx="2.8" ry="2.3" fill="#a5acd0" stroke="#8a93bf" stroke-width="0.6"/>
<ellipse cx="324.7" cy="485.7" rx="2.4" ry="2.8" fill="#c1c5dc" stroke="#8a93bf" stroke-width="0.6"/>
<ellipse cx="320.3" cy="494.1" rx="2.2" ry="2.7" fill="#a5acd0" stroke="#8a93bf" stroke-width="0.6"/>
<ellipse cx="369.4" cy="581.7" rx="2.9" ry="2.9" fill="#a5acd0" stroke="#8a93bf" stroke-width="0.6"/>
<ellipse cx="358.0" cy="583.7" rx="2.5" ry="2.8" fill="#c1c5dc" stroke="#8a93bf" stroke-width="0.6"/>
<ellipse cx="387.5" cy="508.9" rx="2.6" ry="3.1" fill="#b9bed9" stroke="#8a93bf" stroke-width="0.6"/>
<ellipse cx="325.3" cy="585.3" rx="3.4" ry="2.9" fill="#a5acd0" stroke="#8a93bf" stroke-width="0.6"/>
<ellipse cx="391.4" cy="565.0" rx="3.4" ry="2.7" fill="#a5acd0" stroke="#8a93bf" stroke-width="0.6"/>
<ellipse cx="383.8" cy="568.9" rx="2.9" ry="3.2" fill="#a5acd0" stroke="#8a93bf" stroke-width="0.6"/>
<ellipse cx="377.2" cy="585.8" rx="3.4" ry="3.3" fill="#c1c5dc" stroke="#8a93bf" stroke-width="0.6"/>
<ellipse cx="317.7" cy="484.5" rx="2.9" ry="2.4" fill="#c1c5dc" stroke="#8a93bf" stroke-width="0.6"/>
<ellipse cx="304.7" cy="561.9" rx="3.3" ry="3.1" fill="#b9bed9" stroke="#8a93bf" stroke-width="0.6"/>
<ellipse cx="351.1" cy="586.1" rx="2.9" ry="3.0" fill="#afb5d4" stroke="#8a93bf" stroke-width="0.6"/>
<ellipse cx="398.8" cy="571.0" rx="3.3" ry="3.3" fill="#9da5cc" stroke="#8a93bf" stroke-width="0.6"/>
<ellipse cx="395.1" cy="545.0" rx="3.5" ry="2.7" fill="#9da5cc" stroke="#8a93bf" stroke-width="0.6"/>
<ellipse cx="351.2" cy="487.6" rx="2.6" ry="2.8" fill="#b9bed9" stroke="#8a93bf" stroke-width="0.6"/>
<ellipse cx="311.4" cy="488.1" rx="2.7" ry="2.4" fill="#c1c5dc" stroke="#8a93bf" stroke-width="0.6"/>
<ellipse cx="398.3" cy="512.7" rx="2.9" ry="3.0" fill="#c1c5dc" stroke="#8a93bf" stroke-width="0.6"/>
<ellipse cx="328.9" cy="565.2" rx="3.4" ry="3.3" fill="#c1c5dc" stroke="#8a93bf" stroke-width="0.6"/>
<ellipse cx="389.7" cy="585.5" rx="3.2" ry="2.7" fill="#9da5cc" stroke="#8a93bf" stroke-width="0.6"/>
<ellipse cx="319.1" cy="572.6" rx="3.4" ry="3.4" fill="#afb5d4" stroke="#8a93bf" stroke-width="0.6"/>
<ellipse cx="350.9" cy="495.5" rx="3.2" ry="2.7" fill="#9da5cc" stroke="#8a93bf" stroke-width="0.6"/>
<ellipse cx="331.0" cy="579.5" rx="3.0" ry="3.0" fill="#9da5cc" stroke="#8a93bf" stroke-width="0.6"/>
<ellipse cx="304.6" cy="569.4" rx="2.9" ry="2.8" fill="#c1c5dc" stroke="#8a93bf" stroke-width="0.6"/>
<ellipse cx="398.1" cy="521.3" rx="2.8" ry="2.3" fill="#c1c5dc" stroke="#8a93bf" stroke-width="0.6"/>
<ellipse cx="390.5" cy="485.0" rx="2.7" ry="3.1" fill="#c1c5dc" stroke="#8a93bf" stroke-width="0.6"/>
<ellipse cx="365.1" cy="587.2" rx="3.1" ry="3.3" fill="#afb5d4" stroke="#8a93bf" stroke-width="0.6"/>
<ellipse cx="318.0" cy="584.4" rx="3.1" ry="2.9" fill="#9da5cc" stroke="#8a93bf" stroke-width="0.6"/>
<ellipse cx="358.3" cy="486.5" rx="3.0" ry="3.0" fill="#c1c5dc" stroke="#8a93bf" stroke-width="0.6"/>
<ellipse cx="398.7" cy="532.3" rx="2.8" ry="3.0" fill="#a5acd0" stroke="#8a93bf" stroke-width="0.6"/>
<ellipse cx="374.6" cy="519.7" rx="2.5" ry="2.7" fill="#c1c5dc" stroke="#8a93bf" stroke-width="0.6"/>
<ellipse cx="407.2" cy="546.7" rx="2.4" ry="2.6" fill="#9da5cc" stroke="#8a93bf" stroke-width="0.6"/>
<ellipse cx="398.7" cy="490.4" rx="2.7" ry="2.2" fill="#a5acd0" stroke="#8a93bf" stroke-width="0.6"/>
<ellipse cx="386.0" cy="541.9" rx="2.7" ry="2.3" fill="#afb5d4" stroke="#8a93bf" stroke-width="0.6"/>
<ellipse cx="395.3" cy="580.8" rx="3.2" ry="2.7" fill="#afb5d4" stroke="#8a93bf" stroke-width="0.6"/>
<ellipse cx="404.9" cy="499.9" rx="2.8" ry="3.4" fill="#9da5cc" stroke="#8a93bf" stroke-width="0.6"/>
<ellipse cx="383.8" cy="487.7" rx="3.0" ry="2.4" fill="#9da5cc" stroke="#8a93bf" stroke-width="0.6"/>
<ellipse cx="370.4" cy="491.6" rx="2.7" ry="3.1" fill="#b9bed9" stroke="#8a93bf" stroke-width="0.6"/>
<ellipse cx="403.3" cy="553.2" rx="2.4" ry="3.0" fill="#a5acd0" stroke="#8a93bf" stroke-width="0.6"/>
<ellipse cx="302.9" cy="490.8" rx="2.6" ry="3.1" fill="#afb5d4" stroke="#8a93bf" stroke-width="0.6"/>
<ellipse cx="366.4" cy="484.1" rx="2.9" ry="3.0" fill="#afb5d4" stroke="#8a93bf" stroke-width="0.6"/>
<ellipse cx="402.3" cy="540.7" rx="2.6" ry="3.3" fill="#b9bed9" stroke="#8a93bf" stroke-width="0.6"/>
<ellipse cx="401.5" cy="562.4" rx="3.4" ry="3.3" fill="#a5acd0" stroke="#8a93bf" stroke-width="0.6"/>
<ellipse cx="407.7" cy="524.6" rx="2.9" ry="3.0" fill="#afb5d4" stroke="#8a93bf" stroke-width="0.6"/>
<ellipse cx="406.3" cy="580.1" rx="2.7" ry="2.1" fill="#b9bed9" stroke="#8a93bf" stroke-width="0.6"/>
<ellipse cx="398.0" cy="587.4" rx="2.7" ry="3.2" fill="#c1c5dc" stroke="#8a93bf" stroke-width="0.6"/>
<ellipse cx="342.4" cy="486.6" rx="2.7" ry="2.8" fill="#b9bed9" stroke="#8a93bf" stroke-width="0.6"/>
<ellipse cx="374.4" cy="485.8" rx="2.5" ry="3.2" fill="#a5acd0" stroke="#8a93bf" stroke-width="0.6"/>
<ellipse cx="326.7" cy="572.7" rx="3.1" ry="2.6" fill="#b9bed9" stroke="#8a93bf" stroke-width="0.6"/>
<ellipse cx="406.5" cy="572.9" rx="2.6" ry="2.3" fill="#afb5d4" stroke="#8a93bf" stroke-width="0.6"/>
<ellipse cx="390.1" cy="572.3" rx="2.8" ry="2.3" fill="#a5acd0" stroke="#8a93bf" stroke-width="0.6"/>
<ellipse cx="407.0" cy="531.7" rx="2.7" ry="3.1" fill="#a5acd0" stroke="#8a93bf" stroke-width="0.6"/>
<ellipse cx="400.4" cy="505.4" rx="3.1" ry="2.6" fill="#c1c5dc" stroke="#8a93bf" stroke-width="0.6"/>
<ellipse cx="334.0" cy="482.0" rx="2.7" ry="2.9" fill="#afb5d4" stroke="#8a93bf" stroke-width="0.6"/>
<ellipse cx="392.6" cy="495.7" rx="3.2" ry="2.8" fill="#b9bed9" stroke="#8a93bf" stroke-width="0.6"/>
<ellipse cx="396.3" cy="553.1" rx="2.7" ry="3.1" fill="#afb5d4" stroke="#8a93bf" stroke-width="0.6"/>
<ellipse cx="393.5" cy="538.1" rx="2.2" ry="2.6" fill="#c1c5dc" stroke="#8a93bf" stroke-width="0.6"/>
<ellipse cx="378.0" cy="493.0" rx="2.7" ry="3.4" fill="#9da5cc" stroke="#8a93bf" stroke-width="0.6"/>
<ellipse cx="310.9" cy="579.6" rx="2.7" ry="3.4" fill="#afb5d4" stroke="#8a93bf" stroke-width="0.6"/>
<ellipse cx="407.9" cy="510.2" rx="3.2" ry="2.9" fill="#9da5cc" stroke="#8a93bf" stroke-width="0.6"/>
<ellipse cx="301.3" cy="504.2" rx="2.6" ry="2.7" fill="#9da5cc" stroke="#8a93bf" stroke-width="0.6"/>
<ellipse cx="389.0" cy="501.7" rx="3.4" ry="3.5" fill="#a5acd0" stroke="#8a93bf" stroke-width="0.6"/>
<ellipse cx="302.1" cy="588.2" rx="2.7" ry="2.2" fill="#9da5cc" stroke="#8a93bf" stroke-width="0.6"/>
<ellipse cx="408.0" cy="517.3" rx="3.2" ry="2.6" fill="#afb5d4" stroke="#8a93bf" stroke-width="0.6"/>
<ellipse cx="311.5" cy="587.0" rx="3.0" ry="2.7" fill="#a5acd0" stroke="#8a93bf" stroke-width="0.6"/>
<ellipse cx="406.2" cy="492.1" rx="3.1" ry="2.5" fill="#9da5cc" stroke="#8a93bf" stroke-width="0.6"/>
<ellipse cx="405.1" cy="587.8" rx="2.7" ry="3.2" fill="#b9bed9" stroke="#8a93bf" stroke-width="0.6"/>
<ellipse cx="404.3" cy="483.1" rx="3.0" ry="2.9" fill="#c1c5dc" stroke="#8a93bf" stroke-width="0.6"/>
<ellipse cx="303.5" cy="578.4" rx="3.3" ry="2.6" fill="#afb5d4" stroke="#8a93bf" stroke-width="0.6"/>
<ellipse cx="303.3" cy="482.2" rx="2.1" ry="2.7" fill="#a5acd0" stroke="#8a93bf" stroke-width="0.6"/>
<ellipse cx="311.5" cy="572.2" rx="2.3" ry="2.8" fill="#9da5cc" stroke="#8a93bf" stroke-width="0.6"/>
</g></g>
<line x1="311.7" y1="578.8" x2="333.7" y2="578.8" stroke="#000" stroke-width="1.7"/>
<text x="310.5" y="500.5" font-size="12" text-anchor="start" font-weight="bold" fill="#000" stroke="#000" stroke-width="0.3">G</text>
<clipPath id="cH"><rect x="404.8" y="488.0" width="95.2" height="95.1"/></clipPath>
<g clip-path="url(#cH)"><g filter="url(#blur)">
<rect x="404.8" y="488.0" width="95.2" height="95.1" fill="#e9e3da"/>
<path d="M501.5 582.6L498.0 587.6M404.6 582.7L406.1 579.0M410.6 492.1L405.5 496.5M396.3 490.4L404.7 486.3M415.4 482.3L409.1 487.8M398.4 505.4L406.6 500.6M398.4 505.4L403.7 511.0M406.7 520.9L406.6 520.8M406.7 520.9L403.9 528.1M422.5 585.4L415.5 583.3M417.5 576.1L415.0 581.2M417.5 576.1L427.0 577.7M415.5 583.3L415.0 581.2M406.1 579.0L406.9 578.6M440.0 582.7L443.9 595.8M440.0 582.7L436.7 581.1M405.2 561.3L395.9 569.1M405.2 561.3L408.1 561.3M408.1 561.3L409.4 563.9M409.4 563.9L407.6 570.8M407.6 570.8L408.7 572.3M408.7 572.3L416.4 572.3M431.2 517.5L425.2 521.6M423.1 513.4L421.3 518.3M405.6 537.1L403.4 543.0M405.2 561.3L398.1 553.2M403.4 543.0L406.7 547.7M398.1 553.2L406.3 550.2M406.3 550.2L406.7 547.7M483.4 579.7L490.7 582.1M480.5 582.6L485.6 593.0M437.5 572.9L443.2 573.0M440.0 582.7L444.8 579.2M443.2 573.0L444.8 579.2M467.2 581.7L465.4 581.2M508.1 509.6L501.1 504.2M501.1 504.2L501.8 499.2M498.0 491.2L495.6 496.8M498.0 491.2L495.3 487.4M474.0 502.3L474.6 497.1M474.6 497.1L475.0 496.6M475.0 496.6L483.3 498.3M478.4 506.8L484.1 501.0M484.1 501.0L483.3 498.3M412.6 513.2L411.1 513.0M408.9 510.8L409.8 502.6M412.8 501.8L409.8 502.6M412.8 501.8L419.4 506.3M423.1 513.4L419.0 508.6M417.2 519.1L412.6 513.2M406.7 520.9L414.0 524.6M406.6 520.8L411.1 513.0M403.7 511.0L408.9 510.8M406.6 500.6L409.8 502.6M409.4 563.9L416.2 566.6M416.4 572.3L417.1 570.5M426.1 568.9L417.1 570.5M466.6 513.8L469.8 518.8M403.9 528.1L408.2 532.7M408.2 532.7L409.0 532.3M455.1 576.8L452.1 576.1M448.3 580.1L450.3 584.9M450.3 584.9L455.0 584.5M459.9 591.2L455.0 584.5M460.0 572.2L455.1 576.8M449.0 569.0L452.1 576.1M447.5 568.7L443.2 573.0M447.5 568.7L449.0 569.0M444.8 579.2L448.3 580.1M499.0 537.0L512.7 539.2M501.5 582.6L500.7 579.6M494.2 576.4L500.7 579.6M494.2 576.4L493.5 573.5M500.7 579.6L505.2 574.4M482.0 488.5L488.6 483.8M482.0 488.5L485.2 494.5M489.9 493.5L491.7 487.2M488.6 483.8L491.7 487.2M495.3 487.4L491.7 487.2M494.5 497.2L495.6 496.8M494.5 497.2L489.9 493.5M475.0 490.8L469.5 488.1M469.5 488.1L467.6 477.1M406.3 550.2L408.4 552.0M437.5 572.9L437.0 572.5M437.3 566.3L437.0 572.5M428.6 572.4L427.5 569.6M467.6 477.1L458.7 488.1M458.7 488.1L455.5 486.5M469.5 504.5L468.7 509.8M469.5 504.5L474.0 502.3M478.4 506.8L478.4 508.6M418.4 486.7L423.0 488.0M416.1 495.9L414.7 493.4M415.4 482.3L418.4 486.7M410.6 492.1L414.7 493.4M412.8 501.8L416.1 495.9M469.5 488.1L464.6 492.2M458.7 488.1L460.5 491.5M496.5 506.6L492.7 501.2M494.5 497.2L492.7 501.2M433.3 501.3L429.2 500.5M423.7 503.1L424.8 503.2M423.9 492.8L428.2 494.5M432.5 490.0L436.8 486.6M432.5 490.0L427.2 484.7M423.0 488.0L427.2 484.7M448.8 493.6L442.4 490.0" stroke="#cfa877" stroke-width="0.9" stroke-linecap="round" fill="none" opacity="0.10"/>
<path d="M410.3 592.9L404.6 582.7M409.1 487.8L404.7 486.3M409.1 487.8L410.6 492.1M405.5 496.5L396.3 490.4M406.6 500.6L405.5 496.5M403.7 511.0L399.8 517.8M399.8 517.8L406.6 520.8M422.5 585.4L427.1 578.1M427.0 577.7L427.1 578.1M410.3 592.9L415.5 583.3M406.9 578.6L415.0 581.2M436.7 581.1L432.5 582.1M427.1 578.1L432.5 582.1M395.9 569.1L407.6 570.8M406.9 578.6L408.7 572.3M417.5 576.1L416.4 572.3M431.2 517.5L429.3 512.0M429.3 512.0L423.1 513.4M421.3 518.3L425.2 521.6M483.4 579.7L480.5 582.6M485.6 593.0L490.9 582.6M490.9 582.6L490.7 582.1M472.3 591.2L478.7 582.7M478.7 582.7L480.5 582.6M498.0 587.6L490.9 582.6M437.5 572.9L436.7 581.1M472.3 591.2L467.2 581.7M478.7 582.7L473.3 578.6M473.3 578.6L467.2 581.7M459.9 591.2L465.3 581.3M465.3 581.3L465.4 581.2M478.6 573.1L478.3 569.3M473.8 576.2L469.5 569.7M472.8 566.7L469.9 568.2M483.3 575.7L478.6 573.1M483.3 575.7L483.4 579.7M473.3 578.6L473.8 576.2M463.8 574.2L465.4 581.2M465.0 563.7L464.7 560.0M465.0 563.7L469.9 568.2M474.8 561.5L473.2 558.3M483.3 575.7L486.4 572.7M501.8 499.2L495.6 496.8M474.0 502.3L478.4 506.8M412.6 513.2L419.0 508.6M411.1 513.0L408.9 510.8M419.4 506.3L419.0 508.6M421.3 518.3L417.2 519.1M417.2 519.1L414.8 524.4M414.0 524.6L414.8 524.4M417.1 570.5L416.2 566.6M426.1 568.9L421.7 560.3M416.2 566.6L420.3 560.2M420.3 560.2L421.7 560.3M481.7 546.4L477.8 550.5M478.2 553.1L477.8 550.5M481.7 540.8L474.7 538.5M477.8 550.5L470.5 547.6M472.4 540.2L470.5 547.6M469.1 556.9L468.1 549.0M470.5 547.6L468.1 549.0M459.6 517.2L466.6 513.8M466.3 522.3L469.8 518.8M467.4 528.9L466.3 522.3M460.1 520.0L456.9 526.0M405.6 537.1L406.7 536.5M406.7 547.7L413.1 542.8M413.1 542.8L406.7 536.5M406.7 536.5L408.2 532.7M414.0 524.6L409.0 532.3M465.0 563.7L458.5 568.3M463.8 574.2L460.0 572.2M460.0 572.2L458.5 568.3M457.2 580.9L455.0 584.5M457.2 580.9L455.1 576.8M452.1 576.1L448.3 580.1M465.3 581.3L457.2 580.9M458.5 568.3L454.7 566.3M454.7 566.3L449.0 569.0M443.9 595.8L450.3 584.9M512.7 539.2L500.2 545.7M490.7 582.1L494.2 576.4M486.4 572.7L493.5 573.5M501.0 553.1L501.8 556.8M501.8 556.8L513.4 561.9M485.2 494.5L489.9 493.5M479.2 487.8L475.0 490.8M482.0 488.5L479.2 487.8M475.0 496.6L475.0 490.8M483.3 498.3L485.2 494.5M472.7 519.1L469.8 518.8M472.7 519.1L474.9 523.2M474.9 523.2L469.6 529.2M417.3 557.4L409.1 559.8M416.7 551.1L408.4 552.0M409.1 559.8L408.4 552.0M408.1 561.3L409.1 559.8M420.3 560.2L417.3 557.4M447.5 568.7L444.2 563.9M444.2 563.9L437.3 566.3M427.0 577.7L428.6 572.4M437.0 572.5L428.6 572.4M426.1 568.9L427.5 569.6M431.9 563.7L433.7 563.5M444.2 563.9L444.2 562.7M444.2 562.7L439.3 557.5M437.3 566.3L433.7 563.5M427.5 569.6L431.9 563.7M459.6 557.3L455.0 560.9M459.6 557.3L458.7 551.4M458.7 551.4L456.0 550.0M455.0 560.9L449.3 557.3M449.3 557.3L449.1 555.6M464.7 560.0L459.6 557.3M454.7 566.3L455.0 560.9M443.7 549.7L448.2 546.0M448.2 546.0L454.1 546.6M454.1 546.6L456.0 550.0M444.0 550.9L449.1 555.6M444.2 562.7L449.3 557.3M456.5 535.6L464.1 534.0M466.0 538.4L464.1 534.0M454.1 546.6L456.4 540.4M456.9 526.0L456.8 526.1M448.2 546.0L446.4 537.6M446.4 537.6L438.3 543.0M468.7 509.8L476.0 511.5M478.4 508.6L476.0 511.5M472.7 519.1L476.3 514.6M467.4 510.7L468.7 509.8M467.4 510.7L466.6 513.8M476.3 514.6L476.0 511.5M496.9 540.2L498.4 544.9M500.2 545.7L498.4 544.9M499.0 537.0L496.9 540.2M494.2 572.3L501.2 570.3M494.2 572.3L492.9 564.8M501.2 570.3L502.2 565.7M493.5 573.5L494.2 572.3M505.2 574.4L501.2 570.3M513.4 561.9L502.2 565.7M423.9 492.8L420.3 496.5M423.9 492.8L423.0 488.0M418.4 486.7L414.7 493.4M420.3 496.5L416.1 495.9M419.4 506.3L423.7 503.1M423.7 503.1L420.3 496.5M469.5 504.5L465.2 501.1M474.6 497.1L467.0 497.0M465.2 501.1L467.0 497.0M467.0 497.0L464.6 492.2M464.6 492.2L460.5 491.5M446.4 533.9L450.0 525.0M427.9 532.6L421.0 529.1M421.0 529.1L420.7 529.2M420.7 529.2L418.1 534.8M425.2 521.6L425.4 523.5M425.4 523.5L421.0 529.1M414.8 524.4L420.7 529.2M409.0 532.3L418.1 534.8M508.1 509.6L499.9 514.2M499.9 514.2L499.7 514.6M438.0 531.7L431.9 528.6M439.1 531.4L441.1 521.1M431.6 527.3L431.9 528.6M431.6 527.3L435.7 519.8M435.7 519.8L437.5 519.5M446.4 533.9L439.1 531.4M449.1 523.6L442.9 520.8M449.1 523.6L450.0 525.0M442.9 520.8L441.1 521.1M425.4 523.5L431.6 527.3M431.2 517.5L435.7 519.8M496.5 506.6L496.0 508.5M488.2 511.2L487.5 503.0M487.5 503.0L492.7 501.2M501.1 504.2L496.5 506.6M484.1 501.0L487.5 503.0M433.3 501.3L435.9 507.8M429.6 511.3L435.9 507.8M429.6 511.3L424.8 503.2M424.8 503.2L429.2 500.5M429.3 512.0L429.6 511.3M438.6 508.8L435.9 507.8M428.2 494.5L429.2 500.5M449.1 523.6L452.8 516.0M448.9 512.4L452.8 516.0M459.6 517.2L457.7 515.4M457.7 515.4L452.8 516.0M461.9 502.2L456.9 500.0M461.9 502.2L462.2 508.0M456.9 500.0L453.4 506.2M453.4 506.2L458.0 510.5M462.2 508.0L458.0 510.5M465.2 501.1L461.9 502.2M460.5 491.5L456.2 497.9M456.2 497.9L456.9 500.0M467.4 510.7L462.2 508.0M428.2 494.5L432.4 491.2M432.4 491.2L432.5 490.0M433.3 501.3L437.8 496.8M432.4 491.2L437.8 496.5M437.8 496.8L437.8 496.5M437.8 496.8L444.6 501.2M456.2 497.9L449.4 495.5M444.6 501.2L449.4 495.5M452.0 487.4L448.8 493.6M452.0 487.4L445.9 481.9M445.9 481.9L442.0 488.6M442.0 488.6L442.4 490.0M455.5 486.5L452.0 487.4M449.4 495.5L448.8 493.6M437.8 496.5L442.4 490.0M436.8 486.6L442.0 488.6" stroke="#cfa877" stroke-width="1.0" stroke-linecap="round" fill="none" opacity="0.30"/>
<path d="M478.6 573.1L473.8 576.2M478.3 569.3L472.8 566.7M469.9 568.2L469.5 569.7M482.9 562.1L474.8 561.5M484.0 565.0L478.3 569.3M474.8 561.5L472.8 566.7M463.8 574.2L469.5 569.7M464.7 560.0L469.1 556.9M469.1 556.9L473.2 558.3M486.4 572.7L484.2 565.2M481.7 546.4L487.1 549.7M487.1 549.7L485.4 556.8M478.2 553.1L484.1 557.6M473.2 558.3L478.2 553.1M481.7 540.8L481.7 546.4M474.7 538.5L472.4 540.2M459.6 517.2L460.1 520.0M460.1 520.0L466.3 522.3M467.4 528.9L466.0 529.7M456.9 526.0L466.0 529.7M497.8 533.1L501.6 529.5M500.2 545.7L502.0 551.5M501.0 553.1L502.0 551.5M467.4 528.9L469.6 529.2M417.3 557.4L416.7 551.1M437.0 557.5L433.7 563.5M439.3 557.5L437.0 557.5M443.7 549.7L444.0 550.9M439.3 557.5L444.0 550.9M421.7 560.3L426.6 557.5M456.0 550.0L449.1 555.6M464.7 548.3L468.1 549.0M464.7 548.3L458.7 551.4M456.4 540.4L455.2 537.1M456.4 540.4L462.5 542.1M462.5 542.1L466.0 538.4M455.2 537.1L456.5 535.6M464.7 548.3L462.5 542.1M472.4 540.2L466.0 538.4M466.0 529.7L464.1 534.0M456.8 526.1L456.5 535.6M474.7 538.5L474.2 533.4M469.6 529.2L474.2 533.4M455.2 537.1L447.2 535.5M446.4 537.6L447.2 535.5M413.1 542.8L416.5 543.3M416.5 543.3L418.6 548.0M501.6 529.5L499.4 524.6M503.9 520.8L499.4 524.6M491.4 548.3L489.3 539.7M492.2 548.6L498.4 544.9M489.3 539.7L496.9 540.2M487.1 549.7L491.4 548.3M481.7 540.8L485.6 538.2M487.8 538.4L485.6 538.2M487.8 538.4L489.3 539.7M494.4 553.1L501.0 553.1M497.8 533.1L493.6 531.6M493.6 531.6L487.8 538.4M502.2 565.7L497.5 562.0M492.5 557.6L494.8 562.0M501.8 556.8L497.5 562.0M456.8 526.1L450.0 525.0M447.2 535.5L446.4 533.9M427.4 538.6L419.2 538.6M503.9 520.8L499.7 514.6M499.7 514.6L494.4 518.3M438.0 531.7L439.1 531.4M441.1 521.1L437.5 519.5M435.5 537.2L438.0 531.7M427.9 532.6L431.9 528.6M496.0 508.5L488.2 511.2M499.9 514.2L496.0 508.5M487.7 512.0L487.7 513.3M487.7 512.0L488.2 511.2M478.4 508.6L487.7 512.0M478.5 524.2L480.3 528.9M478.5 524.2L483.5 519.0M483.5 519.0L483.6 519.0M487.7 513.3L483.6 519.0M474.9 523.2L478.5 524.2M474.2 533.4L480.3 528.9M476.3 514.6L483.5 519.0M438.6 508.8L437.5 519.5M438.6 508.8L439.8 508.5M442.9 520.8L445.8 513.2M439.8 508.5L445.8 513.2M439.8 508.5L444.7 502.6M444.7 502.6L451.0 506.9M445.8 513.2L448.9 512.4M451.0 506.9L448.9 512.4M451.0 506.9L453.4 506.2M457.7 515.4L458.0 510.5M444.7 502.6L444.6 501.2" stroke="#cfa877" stroke-width="1.2" stroke-linecap="round" fill="none" opacity="0.50"/>
<path d="M482.9 562.1L484.0 565.0M484.0 565.0L484.2 565.2M484.1 557.6L485.4 556.8M482.9 562.1L484.1 557.6M499.0 537.0L497.8 533.1M432.1 552.7L428.0 554.3M431.9 563.7L426.6 557.5M437.7 545.9L443.7 549.7M437.7 545.9L438.3 543.0M416.7 551.1L418.6 548.0M422.4 548.6L428.4 543.2M491.4 548.3L492.2 548.6M494.8 562.0L497.5 562.0M484.2 565.2L492.9 564.8M428.1 537.7L427.9 532.6M428.1 537.7L427.4 538.6M418.1 534.8L419.2 538.6M438.3 543.0L435.5 537.2M435.5 537.2L428.1 537.7M428.4 543.2L427.4 538.6M416.5 543.3L419.2 538.6M493.6 531.6L491.4 525.8M491.4 525.8L494.1 523.4M494.1 523.4L494.4 518.3M494.4 518.3L487.7 513.3M485.6 538.2L483.6 530.1" stroke="#cfa877" stroke-width="1.4" stroke-linecap="round" fill="none" opacity="0.70"/>
<path d="M437.0 557.5L432.1 552.7M434.5 547.3L437.7 545.9M434.5 547.3L432.1 552.7M422.4 548.6L418.6 548.0M492.5 557.6L485.4 556.8M494.4 553.1L492.2 548.6M492.9 564.8L494.8 562.0M480.3 528.9L483.6 530.1" stroke="#b58040" stroke-width="1.6" stroke-linecap="round" fill="none" opacity="0.90"/>
<path d="M428.0 554.3L426.6 557.5M428.0 554.3L422.4 548.6M434.5 547.3L428.4 543.2M492.5 557.6L494.4 553.1M499.4 524.6L494.1 523.4M489.2 525.7L483.6 519.0M489.2 525.7L483.6 530.1M491.4 525.8L489.2 525.7" stroke="#b58040" stroke-width="1.7" stroke-linecap="round" fill="none" opacity="1.00"/>
<ellipse cx="440.8" cy="546.0" rx="7.5" ry="6.8" fill="#c2c5d8" stroke="#c8a475" stroke-width="1" opacity="0.9"/>
<ellipse cx="450.8" cy="568.0" rx="6.5" ry="5.9" fill="#c6c9db" stroke="#c8a475" stroke-width="1" opacity="0.8"/>
<ellipse cx="450.0" cy="550.5" rx="2.8" ry="3.2" fill="#b3b8d2" stroke="#8f96b8" stroke-width="0.6"/>
<ellipse cx="454.2" cy="555.8" rx="3.6" ry="3.2" fill="#bbbfd5" stroke="#8f96b8" stroke-width="0.6"/>
<ellipse cx="444.1" cy="556.9" rx="3.6" ry="3.7" fill="#a9afcc" stroke="#8f96b8" stroke-width="0.6"/>
<ellipse cx="459.7" cy="563.0" rx="3.6" ry="3.1" fill="#bbbfd5" stroke="#8f96b8" stroke-width="0.6"/>
<ellipse cx="440.8" cy="568.7" rx="3.7" ry="3.6" fill="#bbbfd5" stroke="#8f96b8" stroke-width="0.6"/>
<ellipse cx="459.7" cy="545.1" rx="3.0" ry="3.1" fill="#b3b8d2" stroke="#8f96b8" stroke-width="0.6"/>
<ellipse cx="433.6" cy="568.3" rx="3.0" ry="3.5" fill="#9fa6c6" stroke="#8f96b8" stroke-width="0.6"/>
<ellipse cx="466.6" cy="542.7" rx="3.2" ry="2.6" fill="#9fa6c6" stroke="#8f96b8" stroke-width="0.6"/>
<ellipse cx="450.8" cy="541.9" rx="3.5" ry="3.4" fill="#a9afcc" stroke="#8f96b8" stroke-width="0.6"/>
<ellipse cx="464.3" cy="554.3" rx="2.9" ry="2.8" fill="#979fc2" stroke="#8f96b8" stroke-width="0.6"/>
<ellipse cx="440.6" cy="577.2" rx="3.0" ry="3.5" fill="#bbbfd5" stroke="#8f96b8" stroke-width="0.6"/>
<ellipse cx="438.5" cy="562.2" rx="3.1" ry="2.8" fill="#bbbfd5" stroke="#8f96b8" stroke-width="0.6"/>
<ellipse cx="476.3" cy="545.2" rx="2.5" ry="3.1" fill="#bbbfd5" stroke="#8f96b8" stroke-width="0.6"/>
<ellipse cx="433.5" cy="576.6" rx="3.3" ry="3.1" fill="#979fc2" stroke="#8f96b8" stroke-width="0.6"/>
<ellipse cx="447.5" cy="575.5" rx="3.3" ry="3.4" fill="#a9afcc" stroke="#8f96b8" stroke-width="0.6"/>
<ellipse cx="432.3" cy="558.8" rx="3.2" ry="2.6" fill="#b3b8d2" stroke="#8f96b8" stroke-width="0.6"/>
<ellipse cx="436.0" cy="586.5" rx="3.6" ry="2.9" fill="#a9afcc" stroke="#8f96b8" stroke-width="0.6"/>
<ellipse cx="445.5" cy="583.7" rx="3.2" ry="3.7" fill="#a9afcc" stroke="#8f96b8" stroke-width="0.6"/>
<ellipse cx="422.2" cy="573.0" rx="3.3" ry="3.2" fill="#b3b8d2" stroke="#8f96b8" stroke-width="0.6"/>
<ellipse cx="459.6" cy="577.4" rx="3.1" ry="2.5" fill="#a9afcc" stroke="#8f96b8" stroke-width="0.6"/>
<ellipse cx="473.1" cy="553.2" rx="3.4" ry="3.4" fill="#a9afcc" stroke="#8f96b8" stroke-width="0.6"/>
<ellipse cx="464.0" cy="568.9" rx="3.1" ry="2.9" fill="#a9afcc" stroke="#8f96b8" stroke-width="0.6"/>
<ellipse cx="470.0" cy="562.3" rx="2.8" ry="3.3" fill="#a9afcc" stroke="#8f96b8" stroke-width="0.6"/>
<ellipse cx="468.7" cy="535.1" rx="3.1" ry="2.9" fill="#bbbfd5" stroke="#8f96b8" stroke-width="0.6"/>
<ellipse cx="469.1" cy="575.3" rx="3.3" ry="2.7" fill="#a9afcc" stroke="#8f96b8" stroke-width="0.6"/>
<ellipse cx="477.8" cy="565.2" rx="3.5" ry="3.2" fill="#979fc2" stroke="#8f96b8" stroke-width="0.6"/>
<ellipse cx="453.8" cy="588.6" rx="3.1" ry="2.9" fill="#b3b8d2" stroke="#8f96b8" stroke-width="0.6"/>
<ellipse cx="411.7" cy="576.0" rx="2.8" ry="2.9" fill="#a9afcc" stroke="#8f96b8" stroke-width="0.6"/>
<ellipse cx="459.3" cy="584.6" rx="3.1" ry="3.1" fill="#9fa6c6" stroke="#8f96b8" stroke-width="0.6"/>
<ellipse cx="421.0" cy="580.6" rx="3.1" ry="3.4" fill="#979fc2" stroke="#8f96b8" stroke-width="0.6"/>
<ellipse cx="465.7" cy="588.2" rx="3.1" ry="3.0" fill="#9fa6c6" stroke="#8f96b8" stroke-width="0.6"/>
<ellipse cx="487.1" cy="545.1" rx="3.4" ry="3.3" fill="#b3b8d2" stroke="#8f96b8" stroke-width="0.6"/>
<ellipse cx="428.0" cy="548.1" rx="3.1" ry="3.5" fill="#979fc2" stroke="#8f96b8" stroke-width="0.6"/>
<ellipse cx="427.4" cy="584.7" rx="3.1" ry="2.6" fill="#9fa6c6" stroke="#8f96b8" stroke-width="0.6"/>
<ellipse cx="479.9" cy="534.0" rx="2.9" ry="2.9" fill="#b3b8d2" stroke="#8f96b8" stroke-width="0.6"/>
<ellipse cx="427.0" cy="563.3" rx="3.1" ry="3.5" fill="#a9afcc" stroke="#8f96b8" stroke-width="0.6"/>
<ellipse cx="483.1" cy="551.8" rx="3.3" ry="3.5" fill="#a9afcc" stroke="#8f96b8" stroke-width="0.6"/>
<ellipse cx="409.4" cy="583.5" rx="2.6" ry="2.9" fill="#9fa6c6" stroke="#8f96b8" stroke-width="0.6"/>
<ellipse cx="432.8" cy="541.0" rx="2.9" ry="2.8" fill="#a9afcc" stroke="#8f96b8" stroke-width="0.6"/>
<ellipse cx="423.5" cy="543.1" rx="3.5" ry="3.2" fill="#a9afcc" stroke="#8f96b8" stroke-width="0.6"/>
<ellipse cx="474.8" cy="571.5" rx="2.6" ry="3.0" fill="#b3b8d2" stroke="#8f96b8" stroke-width="0.6"/>
<ellipse cx="423.6" cy="534.2" rx="3.1" ry="2.9" fill="#9fa6c6" stroke="#8f96b8" stroke-width="0.6"/>
<ellipse cx="415.0" cy="530.2" rx="3.4" ry="3.7" fill="#9fa6c6" stroke="#8f96b8" stroke-width="0.6"/>
<ellipse cx="461.7" cy="538.1" rx="3.1" ry="2.6" fill="#9fa6c6" stroke="#8f96b8" stroke-width="0.6"/>
<ellipse cx="460.2" cy="531.2" rx="3.1" ry="3.0" fill="#bbbfd5" stroke="#8f96b8" stroke-width="0.6"/>
<ellipse cx="462.9" cy="524.6" rx="3.1" ry="2.9" fill="#b3b8d2" stroke="#8f96b8" stroke-width="0.6"/>
<ellipse cx="473.5" cy="584.0" rx="3.5" ry="3.4" fill="#9fa6c6" stroke="#8f96b8" stroke-width="0.6"/>
<ellipse cx="454.7" cy="520.2" rx="2.6" ry="3.0" fill="#979fc2" stroke="#8f96b8" stroke-width="0.6"/>
<ellipse cx="421.7" cy="554.2" rx="3.5" ry="3.5" fill="#bbbfd5" stroke="#8f96b8" stroke-width="0.6"/>
<ellipse cx="400.7" cy="579.8" rx="3.0" ry="3.0" fill="#a9afcc" stroke="#8f96b8" stroke-width="0.6"/>
<ellipse cx="411.6" cy="548.3" rx="3.0" ry="2.8" fill="#9fa6c6" stroke="#8f96b8" stroke-width="0.6"/>
<ellipse cx="470.3" cy="523.4" rx="3.2" ry="3.3" fill="#9fa6c6" stroke="#8f96b8" stroke-width="0.6"/>
<ellipse cx="402.8" cy="587.2" rx="2.7" ry="2.9" fill="#9fa6c6" stroke="#8f96b8" stroke-width="0.6"/>
<ellipse cx="483.2" cy="524.8" rx="2.9" ry="3.6" fill="#979fc2" stroke="#8f96b8" stroke-width="0.6"/>
<ellipse cx="462.2" cy="512.0" rx="3.0" ry="2.7" fill="#979fc2" stroke="#8f96b8" stroke-width="0.6"/>
<ellipse cx="414.4" cy="562.1" rx="3.1" ry="3.1" fill="#b3b8d2" stroke="#8f96b8" stroke-width="0.6"/>
<ellipse cx="405.1" cy="566.9" rx="3.2" ry="3.6" fill="#9fa6c6" stroke="#8f96b8" stroke-width="0.6"/>
<ellipse cx="432.3" cy="533.9" rx="3.0" ry="2.3" fill="#9fa6c6" stroke="#8f96b8" stroke-width="0.6"/>
<ellipse cx="452.9" cy="580.6" rx="2.7" ry="3.4" fill="#9fa6c6" stroke="#8f96b8" stroke-width="0.6"/>
<ellipse cx="488.8" cy="561.1" rx="2.8" ry="3.2" fill="#b3b8d2" stroke="#8f96b8" stroke-width="0.6"/>
<ellipse cx="453.0" cy="531.0" rx="3.1" ry="3.2" fill="#a9afcc" stroke="#8f96b8" stroke-width="0.6"/>
<ellipse cx="405.1" cy="555.7" rx="2.8" ry="3.2" fill="#979fc2" stroke="#8f96b8" stroke-width="0.6"/>
<ellipse cx="399.7" cy="560.4" rx="2.6" ry="3.3" fill="#bbbfd5" stroke="#8f96b8" stroke-width="0.6"/>
<ellipse cx="443.7" cy="527.3" rx="2.9" ry="2.9" fill="#a9afcc" stroke="#8f96b8" stroke-width="0.6"/>
<ellipse cx="478.6" cy="577.3" rx="3.0" ry="2.5" fill="#b3b8d2" stroke="#8f96b8" stroke-width="0.6"/>
<ellipse cx="481.2" cy="513.6" rx="2.5" ry="3.1" fill="#979fc2" stroke="#8f96b8" stroke-width="0.6"/>
<ellipse cx="482.0" cy="570.8" rx="3.1" ry="2.9" fill="#9fa6c6" stroke="#8f96b8" stroke-width="0.6"/>
<ellipse cx="404.1" cy="573.8" rx="3.7" ry="3.4" fill="#bbbfd5" stroke="#8f96b8" stroke-width="0.6"/>
<ellipse cx="489.5" cy="519.6" rx="3.3" ry="3.6" fill="#9fa6c6" stroke="#8f96b8" stroke-width="0.6"/>
<ellipse cx="401.9" cy="546.8" rx="3.5" ry="3.1" fill="#979fc2" stroke="#8f96b8" stroke-width="0.6"/>
<ellipse cx="413.1" cy="537.2" rx="2.3" ry="2.9" fill="#9fa6c6" stroke="#8f96b8" stroke-width="0.6"/>
<ellipse cx="411.7" cy="568.6" rx="3.0" ry="3.3" fill="#979fc2" stroke="#8f96b8" stroke-width="0.6"/>
<ellipse cx="420.5" cy="523.4" rx="2.7" ry="3.3" fill="#9fa6c6" stroke="#8f96b8" stroke-width="0.6"/>
<ellipse cx="418.7" cy="588.6" rx="3.5" ry="2.9" fill="#979fc2" stroke="#8f96b8" stroke-width="0.6"/>
<ellipse cx="412.3" cy="555.1" rx="3.6" ry="2.9" fill="#979fc2" stroke="#8f96b8" stroke-width="0.6"/>
<ellipse cx="478.3" cy="558.2" rx="3.3" ry="2.9" fill="#b3b8d2" stroke="#8f96b8" stroke-width="0.6"/>
<ellipse cx="493.8" cy="543.5" rx="3.6" ry="3.7" fill="#9fa6c6" stroke="#8f96b8" stroke-width="0.6"/>
<ellipse cx="430.2" cy="522.4" rx="2.6" ry="3.2" fill="#979fc2" stroke="#8f96b8" stroke-width="0.6"/>
<ellipse cx="478.9" cy="588.1" rx="3.2" ry="3.0" fill="#9fa6c6" stroke="#8f96b8" stroke-width="0.6"/>
<ellipse cx="485.8" cy="584.7" rx="3.0" ry="2.4" fill="#9fa6c6" stroke="#8f96b8" stroke-width="0.6"/>
<ellipse cx="426.2" cy="516.7" rx="2.4" ry="3.0" fill="#979fc2" stroke="#8f96b8" stroke-width="0.6"/>
<ellipse cx="426.7" cy="528.2" rx="3.0" ry="2.5" fill="#979fc2" stroke="#8f96b8" stroke-width="0.6"/>
<ellipse cx="475.3" cy="527.8" rx="2.9" ry="2.6" fill="#bbbfd5" stroke="#8f96b8" stroke-width="0.6"/>
<ellipse cx="471.2" cy="514.4" rx="3.5" ry="3.6" fill="#979fc2" stroke="#8f96b8" stroke-width="0.6"/>
<ellipse cx="436.4" cy="525.9" rx="3.6" ry="3.2" fill="#b3b8d2" stroke="#8f96b8" stroke-width="0.6"/>
<ellipse cx="448.2" cy="517.1" rx="2.8" ry="3.5" fill="#a9afcc" stroke="#8f96b8" stroke-width="0.6"/>
<ellipse cx="497.8" cy="567.3" rx="3.3" ry="3.0" fill="#979fc2" stroke="#8f96b8" stroke-width="0.6"/>
<ellipse cx="441.4" cy="514.5" rx="3.2" ry="3.1" fill="#b3b8d2" stroke="#8f96b8" stroke-width="0.6"/>
<ellipse cx="483.8" cy="506.6" rx="2.4" ry="3.0" fill="#979fc2" stroke="#8f96b8" stroke-width="0.6"/>
<ellipse cx="489.1" cy="568.8" rx="3.7" ry="3.2" fill="#b3b8d2" stroke="#8f96b8" stroke-width="0.6"/>
<ellipse cx="400.4" cy="540.2" rx="2.6" ry="3.0" fill="#979fc2" stroke="#8f96b8" stroke-width="0.6"/>
<ellipse cx="401.5" cy="532.6" rx="3.1" ry="3.4" fill="#b3b8d2" stroke="#8f96b8" stroke-width="0.6"/>
<ellipse cx="434.6" cy="513.8" rx="2.8" ry="3.5" fill="#979fc2" stroke="#8f96b8" stroke-width="0.6"/>
<ellipse cx="488.2" cy="577.1" rx="2.9" ry="2.6" fill="#b3b8d2" stroke="#8f96b8" stroke-width="0.6"/>
<ellipse cx="496.3" cy="582.1" rx="2.8" ry="3.0" fill="#a9afcc" stroke="#8f96b8" stroke-width="0.6"/>
<ellipse cx="421.0" cy="566.4" rx="3.0" ry="3.1" fill="#b3b8d2" stroke="#8f96b8" stroke-width="0.6"/>
<ellipse cx="497.4" cy="556.6" rx="3.2" ry="3.6" fill="#9fa6c6" stroke="#8f96b8" stroke-width="0.6"/>
<ellipse cx="407.5" cy="542.9" rx="3.1" ry="3.1" fill="#a9afcc" stroke="#8f96b8" stroke-width="0.6"/>
<ellipse cx="408.5" cy="526.0" rx="2.9" ry="2.8" fill="#b3b8d2" stroke="#8f96b8" stroke-width="0.6"/>
<ellipse cx="489.7" cy="553.4" rx="3.6" ry="3.6" fill="#bbbfd5" stroke="#8f96b8" stroke-width="0.6"/>
<ellipse cx="430.2" cy="505.7" rx="3.3" ry="3.4" fill="#a9afcc" stroke="#8f96b8" stroke-width="0.6"/>
<ellipse cx="492.2" cy="587.9" rx="2.6" ry="3.1" fill="#9fa6c6" stroke="#8f96b8" stroke-width="0.6"/>
<ellipse cx="477.7" cy="519.4" rx="2.6" ry="2.9" fill="#bbbfd5" stroke="#8f96b8" stroke-width="0.6"/>
<ellipse cx="465.3" cy="518.3" rx="3.1" ry="3.1" fill="#9fa6c6" stroke="#8f96b8" stroke-width="0.6"/>
<ellipse cx="411.8" cy="519.3" rx="3.2" ry="3.6" fill="#a9afcc" stroke="#8f96b8" stroke-width="0.6"/>
<ellipse cx="499.9" cy="574.6" rx="2.6" ry="3.0" fill="#9fa6c6" stroke="#8f96b8" stroke-width="0.6"/>
<ellipse cx="489.0" cy="498.1" rx="3.2" ry="3.3" fill="#b3b8d2" stroke="#8f96b8" stroke-width="0.6"/>
<ellipse cx="438.5" cy="502.4" rx="3.2" ry="2.9" fill="#a9afcc" stroke="#8f96b8" stroke-width="0.6"/>
<ellipse cx="488.7" cy="531.7" rx="3.6" ry="2.9" fill="#9fa6c6" stroke="#8f96b8" stroke-width="0.6"/>
<ellipse cx="401.9" cy="523.4" rx="3.0" ry="3.7" fill="#a9afcc" stroke="#8f96b8" stroke-width="0.6"/>
<ellipse cx="497.3" cy="528.3" rx="2.9" ry="3.5" fill="#a9afcc" stroke="#8f96b8" stroke-width="0.6"/>
<ellipse cx="503.8" cy="587.3" rx="3.3" ry="3.2" fill="#b3b8d2" stroke="#8f96b8" stroke-width="0.6"/>
<ellipse cx="499.2" cy="520.2" rx="3.0" ry="2.4" fill="#979fc2" stroke="#8f96b8" stroke-width="0.6"/>
<ellipse cx="424.4" cy="509.1" rx="3.2" ry="3.0" fill="#979fc2" stroke="#8f96b8" stroke-width="0.6"/>
<ellipse cx="458.6" cy="506.1" rx="3.6" ry="2.8" fill="#9fa6c6" stroke="#8f96b8" stroke-width="0.6"/>
<ellipse cx="494.2" cy="513.2" rx="2.7" ry="3.2" fill="#a9afcc" stroke="#8f96b8" stroke-width="0.6"/>
<ellipse cx="494.1" cy="491.6" rx="3.5" ry="3.4" fill="#979fc2" stroke="#8f96b8" stroke-width="0.6"/>
<ellipse cx="473.0" cy="506.8" rx="3.0" ry="2.9" fill="#bbbfd5" stroke="#8f96b8" stroke-width="0.6"/>
<ellipse cx="446.0" cy="508.7" rx="2.9" ry="2.8" fill="#a9afcc" stroke="#8f96b8" stroke-width="0.6"/>
<ellipse cx="504.6" cy="547.4" rx="3.2" ry="3.7" fill="#9fa6c6" stroke="#8f96b8" stroke-width="0.6"/>
<ellipse cx="502.5" cy="533.8" rx="3.5" ry="3.2" fill="#a9afcc" stroke="#8f96b8" stroke-width="0.6"/>
<ellipse cx="501.0" cy="508.5" rx="2.9" ry="3.1" fill="#979fc2" stroke="#8f96b8" stroke-width="0.6"/>
<ellipse cx="443.2" cy="495.1" rx="3.2" ry="3.2" fill="#979fc2" stroke="#8f96b8" stroke-width="0.6"/>
<ellipse cx="497.5" cy="549.6" rx="3.6" ry="3.2" fill="#b3b8d2" stroke="#8f96b8" stroke-width="0.6"/>
<ellipse cx="405.2" cy="515.5" rx="3.5" ry="3.6" fill="#a9afcc" stroke="#8f96b8" stroke-width="0.6"/>
<ellipse cx="501.4" cy="541.2" rx="3.2" ry="2.8" fill="#9fa6c6" stroke="#8f96b8" stroke-width="0.6"/>
<ellipse cx="399.0" cy="512.0" rx="3.0" ry="2.6" fill="#b3b8d2" stroke="#8f96b8" stroke-width="0.6"/>
<ellipse cx="480.1" cy="493.6" rx="2.8" ry="2.9" fill="#979fc2" stroke="#8f96b8" stroke-width="0.6"/>
<ellipse cx="447.2" cy="487.9" rx="3.5" ry="3.2" fill="#a9afcc" stroke="#8f96b8" stroke-width="0.6"/>
<ellipse cx="505.8" cy="579.6" rx="3.4" ry="3.6" fill="#a9afcc" stroke="#8f96b8" stroke-width="0.6"/>
<ellipse cx="505.6" cy="554.7" rx="3.3" ry="3.3" fill="#979fc2" stroke="#8f96b8" stroke-width="0.6"/>
<ellipse cx="413.8" cy="507.2" rx="2.9" ry="3.3" fill="#a9afcc" stroke="#8f96b8" stroke-width="0.6"/>
<ellipse cx="418.7" cy="513.9" rx="2.9" ry="3.0" fill="#b3b8d2" stroke="#8f96b8" stroke-width="0.6"/>
<ellipse cx="497.5" cy="501.8" rx="2.6" ry="3.2" fill="#a9afcc" stroke="#8f96b8" stroke-width="0.6"/>
<ellipse cx="437.3" cy="491.0" rx="2.8" ry="2.9" fill="#bbbfd5" stroke="#8f96b8" stroke-width="0.6"/>
<ellipse cx="453.6" cy="511.5" rx="3.1" ry="3.5" fill="#b3b8d2" stroke="#8f96b8" stroke-width="0.6"/>
<ellipse cx="404.9" cy="506.3" rx="2.7" ry="3.5" fill="#bbbfd5" stroke="#8f96b8" stroke-width="0.6"/>
<ellipse cx="503.6" cy="525.6" rx="3.5" ry="3.6" fill="#bbbfd5" stroke="#8f96b8" stroke-width="0.6"/>
<ellipse cx="478.5" cy="501.4" rx="2.9" ry="3.6" fill="#bbbfd5" stroke="#8f96b8" stroke-width="0.6"/>
<ellipse cx="454.4" cy="491.6" rx="3.6" ry="3.4" fill="#9fa6c6" stroke="#8f96b8" stroke-width="0.6"/>
<ellipse cx="465.5" cy="505.7" rx="3.5" ry="3.5" fill="#9fa6c6" stroke="#8f96b8" stroke-width="0.6"/>
<ellipse cx="491.7" cy="505.9" rx="2.4" ry="3.1" fill="#a9afcc" stroke="#8f96b8" stroke-width="0.6"/>
<ellipse cx="505.2" cy="516.2" rx="3.0" ry="3.1" fill="#a9afcc" stroke="#8f96b8" stroke-width="0.6"/>
<ellipse cx="494.3" cy="536.5" rx="3.2" ry="3.1" fill="#9fa6c6" stroke="#8f96b8" stroke-width="0.6"/>
<ellipse cx="432.2" cy="496.1" rx="3.3" ry="3.1" fill="#979fc2" stroke="#8f96b8" stroke-width="0.6"/>
<ellipse cx="410.9" cy="496.6" rx="3.3" ry="3.7" fill="#b3b8d2" stroke="#8f96b8" stroke-width="0.6"/>
<ellipse cx="464.2" cy="486.8" rx="3.6" ry="3.6" fill="#bbbfd5" stroke="#8f96b8" stroke-width="0.6"/>
<ellipse cx="450.8" cy="501.6" rx="3.7" ry="3.3" fill="#bbbfd5" stroke="#8f96b8" stroke-width="0.6"/>
<ellipse cx="440.1" cy="483.7" rx="3.0" ry="3.1" fill="#b3b8d2" stroke="#8f96b8" stroke-width="0.6"/>
<ellipse cx="469.8" cy="493.7" rx="3.0" ry="3.6" fill="#bbbfd5" stroke="#8f96b8" stroke-width="0.6"/>
<ellipse cx="474.1" cy="485.1" rx="3.0" ry="2.6" fill="#b3b8d2" stroke="#8f96b8" stroke-width="0.6"/>
<ellipse cx="482.6" cy="483.1" rx="3.1" ry="3.1" fill="#a9afcc" stroke="#8f96b8" stroke-width="0.6"/>
<ellipse cx="487.3" cy="489.7" rx="2.8" ry="3.0" fill="#bbbfd5" stroke="#8f96b8" stroke-width="0.6"/>
<ellipse cx="494.6" cy="483.0" rx="3.1" ry="3.4" fill="#979fc2" stroke="#8f96b8" stroke-width="0.6"/>
<ellipse cx="499.7" cy="487.6" rx="3.0" ry="3.7" fill="#b3b8d2" stroke="#8f96b8" stroke-width="0.6"/>
<ellipse cx="458.9" cy="482.5" rx="3.4" ry="2.7" fill="#a9afcc" stroke="#8f96b8" stroke-width="0.6"/>
<ellipse cx="400.8" cy="499.3" rx="2.9" ry="3.1" fill="#bbbfd5" stroke="#8f96b8" stroke-width="0.6"/>
<ellipse cx="505.2" cy="503.0" rx="3.4" ry="3.0" fill="#a9afcc" stroke="#8f96b8" stroke-width="0.6"/>
<ellipse cx="452.0" cy="482.6" rx="2.7" ry="3.4" fill="#bbbfd5" stroke="#8f96b8" stroke-width="0.6"/>
<ellipse cx="432.7" cy="485.2" rx="2.8" ry="3.0" fill="#9fa6c6" stroke="#8f96b8" stroke-width="0.6"/>
<ellipse cx="500.4" cy="494.4" rx="2.9" ry="2.8" fill="#979fc2" stroke="#8f96b8" stroke-width="0.6"/>
<ellipse cx="413.5" cy="488.6" rx="3.2" ry="2.9" fill="#bbbfd5" stroke="#8f96b8" stroke-width="0.6"/>
<ellipse cx="406.2" cy="491.2" rx="3.0" ry="2.8" fill="#b3b8d2" stroke="#8f96b8" stroke-width="0.6"/>
<ellipse cx="401.7" cy="482.1" rx="3.0" ry="2.9" fill="#979fc2" stroke="#8f96b8" stroke-width="0.6"/>
<ellipse cx="409.0" cy="483.4" rx="3.0" ry="2.7" fill="#9fa6c6" stroke="#8f96b8" stroke-width="0.6"/>
<ellipse cx="427.7" cy="490.2" rx="2.5" ry="2.9" fill="#979fc2" stroke="#8f96b8" stroke-width="0.6"/>
<ellipse cx="462.6" cy="497.2" rx="2.7" ry="3.4" fill="#9fa6c6" stroke="#8f96b8" stroke-width="0.6"/>
<ellipse cx="425.0" cy="497.3" rx="3.6" ry="2.8" fill="#979fc2" stroke="#8f96b8" stroke-width="0.6"/>
<ellipse cx="502.8" cy="561.0" rx="3.6" ry="3.6" fill="#979fc2" stroke="#8f96b8" stroke-width="0.6"/>
<ellipse cx="419.4" cy="491.9" rx="3.1" ry="3.6" fill="#bbbfd5" stroke="#8f96b8" stroke-width="0.6"/>
<ellipse cx="469.8" cy="500.4" rx="3.3" ry="2.6" fill="#9fa6c6" stroke="#8f96b8" stroke-width="0.6"/>
<ellipse cx="418.2" cy="500.8" rx="3.1" ry="3.6" fill="#a9afcc" stroke="#8f96b8" stroke-width="0.6"/>
<ellipse cx="505.5" cy="569.1" rx="3.6" ry="3.4" fill="#9fa6c6" stroke="#8f96b8" stroke-width="0.6"/>
<ellipse cx="421.9" cy="482.9" rx="3.1" ry="3.3" fill="#9fa6c6" stroke="#8f96b8" stroke-width="0.6"/>
</g></g>
<line x1="408.8" y1="578.8" x2="430.8" y2="578.8" stroke="#000" stroke-width="1.7"/>
<text x="408.0" y="500.4" font-size="12" text-anchor="start" font-weight="bold" fill="#000" stroke="#000" stroke-width="0.3">H</text>
<clipPath id="cI"><rect x="307.0" y="585.8" width="95.1" height="94.0"/></clipPath>
<g clip-path="url(#cI)"><g filter="url(#blur)">
<rect x="307.0" y="585.8" width="95.1" height="94.0" fill="#ccb49a"/>
<ellipse cx="336.0" cy="625.8" rx="9.0" ry="7.6" fill="#8a4f1f" opacity="0.55"/>
<ellipse cx="329.0" cy="647.8" rx="8.0" ry="6.8" fill="#6e3a12" opacity="0.6"/>
<ellipse cx="395.0" cy="663.8" rx="10.0" ry="8.5" fill="#8a4f1f" opacity="0.5"/>
<ellipse cx="369.0" cy="657.8" rx="8.0" ry="6.8" fill="#99602a" opacity="0.4"/>
<ellipse cx="311.0" cy="597.8" rx="6.0" ry="5.1" fill="#7a4418" opacity="0.6"/>
<ellipse cx="367.0" cy="605.8" rx="8.0" ry="6.8" fill="#a86a30" opacity="0.35"/>
<path d="M305.8 634.0L306.3 641.9M306.3 641.9L311.9 643.5M399.9 639.2L399.8 639.3M399.8 639.3L398.8 649.2M406.1 616.3L396.9 622.4M307.2 613.5L293.9 621.1M309.1 631.9L306.8 624.4M324.6 573.0L319.4 585.7M327.7 587.0L329.3 585.0M319.7 586.3L319.4 585.7M376.5 619.7L376.3 628.4M309.1 651.6L309.7 653.8M309.7 653.8L307.3 659.3M309.6 668.0L309.8 662.2M348.1 665.1L350.5 673.7M344.1 676.7L340.9 668.8M346.0 664.2L344.6 660.5M340.9 668.8L336.9 668.7M351.5 684.0L343.1 678.9M318.4 674.4L322.3 685.8M309.6 668.0L316.8 670.7M316.8 670.7L318.1 674.3M382.9 680.5L379.5 681.1M351.5 684.0L354.5 680.5M344.1 676.7L343.1 678.9M354.2 675.1L354.5 680.5M390.3 634.0L389.9 641.0M348.1 665.1L353.4 663.8M354.2 675.1L357.8 672.7M375.5 572.7L380.7 584.1M399.3 597.6L396.9 595.2M399.3 597.6L403.4 596.1M405.4 591.6L401.6 588.2M401.6 588.2L398.4 589.0M413.5 603.4L403.4 596.1M392.9 605.3L392.4 608.2M392.4 608.2L395.8 613.4M401.6 612.0L395.8 613.4M396.8 622.3L392.1 625.8M392.1 625.8L385.8 624.3M384.9 621.8L385.8 624.3M396.9 622.4L396.8 622.3M392.7 632.2L392.1 625.8M386.2 611.5L392.4 608.2M386.2 611.5L388.6 617.1M382.9 629.2L384.0 632.3M382.9 629.2L385.8 624.3M378.2 618.1L384.9 621.8M383.3 610.8L386.2 611.5M319.8 665.1L323.9 664.6M334.5 676.6L331.6 679.4M342.9 679.0L334.5 676.6M326.1 666.0L327.1 669.9M322.3 685.8L328.7 679.5M338.3 690.8L331.6 679.4M370.9 680.7L373.1 693.8M362.2 683.1L364.9 678.9M379.5 681.1L373.1 693.8M354.5 680.5L362.2 683.1M375.5 629.0L375.4 637.3M375.4 637.3L368.2 637.2M363.4 633.3L366.2 633.8M315.5 630.1L315.0 624.0M306.8 624.4L310.6 621.8M310.3 586.1L306.3 582.9M319.4 585.7L314.6 583.4M381.7 636.7L375.9 637.7M375.9 637.7L376.1 643.4M384.0 632.3L381.7 636.7M398.4 589.0L393.7 585.3M380.7 584.1L384.6 585.0M387.1 583.3L384.6 585.0M387.8 600.5L382.1 601.9M385.5 591.0L389.5 593.3M390.1 594.7L389.5 593.3M381.2 603.6L382.1 601.9M393.7 585.3L389.5 593.3M359.8 628.0L355.3 627.0M363.4 633.3L356.8 638.2M370.9 585.2L366.4 586.3" stroke="#9a6634" stroke-width="1.4" stroke-linecap="round" fill="none" opacity="0.30"/>
<path d="M297.0 646.5L306.3 641.9M305.8 634.0L309.1 631.9M311.6 632.5L309.1 631.9M384.5 681.7L393.0 679.9M400.5 651.4L398.8 649.2M400.1 637.5L399.9 639.2M400.1 637.5L397.9 633.9M401.2 626.7L397.9 633.9M401.2 626.7L396.9 622.4M297.0 646.5L309.1 651.6M312.3 645.4L309.1 651.6M320.5 639.5L314.7 640.1M312.3 645.4L320.2 650.5M307.0 670.5L307.2 676.1M384.5 681.7L382.9 680.5M393.9 675.0L393.0 679.9M383.8 673.6L382.9 680.5M305.4 606.8L307.2 613.5M293.9 621.1L306.8 624.4M305.6 606.6L304.3 599.6M305.4 606.8L305.6 606.6M324.6 573.0L329.3 585.0M327.7 587.0L319.7 586.3M376.5 619.7L368.5 620.8M376.3 628.4L375.5 629.0M368.5 620.8L367.1 622.5M367.1 622.5L369.8 628.4M375.5 629.0L369.8 628.4M397.9 655.7L389.3 654.7M394.5 674.6L401.7 674.5M404.7 679.0L401.7 674.5M404.7 679.0L396.7 687.4M318.8 654.2L309.7 653.8M307.0 670.5L309.6 668.0M307.3 659.3L309.8 662.2M329.2 656.2L332.4 662.3M332.4 662.3L334.1 662.7M347.3 654.6L341.6 649.3M347.3 654.6L344.6 660.5M338.5 658.7L344.6 660.5M348.1 665.1L346.0 664.2M350.5 673.7L344.1 676.7M346.0 664.2L340.9 668.8M334.1 662.7L336.9 668.7M342.9 679.0L343.1 678.9M342.9 679.0L338.3 690.8M318.1 674.3L311.2 678.4M318.1 674.3L318.4 674.4M307.2 676.1L311.2 678.4M367.5 613.3L368.5 620.8M367.1 622.5L366.0 622.6M358.3 617.8L366.0 622.6M379.7 671.3L383.8 673.6M379.7 671.3L374.7 675.7M379.5 681.1L374.7 677.6M374.7 675.7L374.7 677.6M350.5 673.7L354.2 675.1M382.1 659.2L382.2 663.6M399.8 639.3L390.9 641.9M397.9 633.9L392.7 632.2M390.3 634.0L392.7 632.2M390.9 641.9L389.9 641.0M363.1 659.8L363.3 665.8M358.5 668.8L353.4 663.8M370.4 656.7L372.0 658.3M370.4 656.7L366.8 656.9M357.8 672.7L364.4 676.3M357.8 672.7L358.5 668.8M345.7 643.2L352.0 645.2M350.6 653.5L352.0 645.2M356.4 658.2L355.4 656.0M311.6 632.5L315.5 630.1M319.1 630.8L315.5 630.1M335.1 584.7L336.2 585.5M329.3 585.0L335.1 584.7M313.5 604.4L315.6 605.4M311.0 593.4L317.8 593.0M315.6 605.4L317.6 604.3M327.7 587.0L328.0 590.5M317.8 593.0L319.7 586.3M311.0 593.4L310.4 592.6M378.2 615.7L383.3 610.8M378.2 615.7L372.4 610.4M381.2 603.6L383.3 610.8M378.2 618.1L378.2 615.7M378.2 618.1L376.5 619.7M372.4 610.4L370.2 610.7M370.9 585.2L375.5 572.7M375.8 589.4L380.7 584.1M396.9 595.2L398.4 589.0M403.4 596.1L405.4 591.6M392.9 605.3L398.5 603.0M402.5 605.9L398.5 603.0M402.5 605.9L401.6 612.0M413.5 603.4L402.5 605.9M399.3 597.6L398.5 603.0M406.1 616.3L401.6 612.0M396.8 622.3L394.5 617.3M394.5 617.3L388.6 617.1M388.6 617.1L384.9 621.8M395.8 613.4L394.5 617.3M384.0 632.3L390.3 634.0M376.3 628.4L382.9 629.2M318.9 654.7L324.4 658.6M324.4 658.6L323.9 664.6M316.2 661.3L319.8 665.1M318.8 654.2L318.9 654.7M309.8 662.2L316.2 661.3M329.2 656.2L324.4 658.6M326.1 666.0L332.4 662.3M316.8 670.7L319.8 665.1M334.4 671.4L334.5 676.6M334.4 671.4L327.1 669.9M327.1 669.9L325.3 673.1M325.3 673.1L328.7 679.5M331.6 679.4L328.7 679.5M336.9 668.7L334.4 671.4M318.4 674.4L325.3 673.1M345.7 643.2L346.1 636.1M319.1 630.8L324.5 625.0M370.9 680.7L364.9 678.9M374.7 677.6L370.9 680.7M364.4 676.3L364.9 678.9M369.8 628.4L366.2 633.8M368.2 637.2L366.2 633.8M359.8 628.0L366.0 622.6M359.8 628.0L363.4 633.3M320.2 621.3L319.2 615.4M310.6 621.8L315.0 624.0M311.4 615.2L315.3 613.5M307.2 613.5L311.4 615.2M344.5 583.4L347.2 587.0M325.3 606.8L326.3 606.1M298.2 589.4L306.3 582.9M380.7 648.9L380.9 648.6M381.7 636.7L384.7 640.9M384.7 640.9L380.6 647.5M380.6 647.5L376.1 643.4M389.9 641.0L384.7 640.9M375.4 637.3L375.9 637.7M365.9 644.1L368.2 637.2M365.9 644.1L369.6 646.1M380.9 648.6L380.6 647.5M372.0 652.3L369.6 646.1M393.6 584.9L393.7 585.3M393.6 584.9L387.1 583.3M387.8 600.5L390.1 594.7M385.5 591.0L377.5 594.2M382.1 601.9L377.5 594.2M392.9 605.3L387.8 600.5M396.9 595.2L390.1 594.7M384.6 585.0L385.5 591.0M376.5 593.7L375.8 589.4M376.5 593.7L377.5 594.2M376.5 593.7L369.7 597.2M358.3 617.8L356.7 618.3M346.1 636.1L352.3 633.7M352.6 645.0L360.7 648.9M352.6 645.0L356.1 638.2M356.1 638.2L356.8 638.2M356.8 638.2L364.8 644.5M364.8 644.5L361.6 648.7M365.9 644.1L364.8 644.5M366.8 656.9L361.6 648.7M336.2 585.5L336.8 592.4M347.2 587.0L342.2 593.1M328.1 600.1L333.5 598.2M334.1 595.0L333.5 598.2M334.9 599.8L333.5 598.2M355.6 585.0L363.9 584.0M365.4 590.5L366.4 586.3M363.9 584.0L366.4 586.3M348.6 587.4L351.2 594.5M365.0 603.1L359.6 608.2M358.1 594.5L359.1 597.7M349.0 598.1L344.7 598.6M342.9 601.2L344.7 598.6M342.9 601.2L343.6 607.3M351.2 594.5L349.0 598.1M359.1 597.7L353.6 603.6M351.0 615.6L350.5 609.1" stroke="#9a6634" stroke-width="1.7" stroke-linecap="round" fill="none" opacity="0.50"/>
<path d="M314.7 640.1L311.6 632.5M314.7 640.1L311.9 643.5M396.7 687.4L393.0 679.9M399.1 655.0L403.5 660.2M311.9 643.5L312.3 645.4M343.5 644.5L341.6 649.3M320.5 639.5L323.6 648.1M320.2 650.5L323.6 648.1M322.5 636.9L325.5 636.4M325.5 636.4L332.2 642.0M323.6 648.1L325.6 648.3M393.9 675.0L388.1 671.9M388.1 671.9L383.8 673.6M305.6 606.6L313.5 604.4M388.4 656.5L391.2 663.4M391.2 663.4L394.5 663.6M396.4 665.5L401.7 665.6M320.2 650.5L318.8 654.2M334.1 662.7L338.5 658.7M367.5 613.3L361.4 612.7M361.4 612.7L358.3 617.8M382.1 659.2L380.1 657.4M378.5 666.9L373.2 665.2M373.2 665.2L372.0 658.3M369.0 669.0L369.0 670.7M369.0 670.7L374.7 675.7M398.8 649.2L391.3 646.9M388.1 650.5L391.3 646.9M391.3 646.9L390.9 641.9M363.3 665.8L358.5 668.8M353.4 663.8L356.4 658.2M369.0 669.0L363.3 665.8M369.0 670.7L364.4 676.3M343.5 644.5L345.7 643.2M347.3 654.6L350.6 653.5M350.6 653.5L355.4 656.0M336.2 585.5L344.5 583.4M320.5 595.7L317.8 593.0M320.5 595.7L322.5 595.8M328.0 590.5L322.5 595.8M298.2 589.4L310.4 592.6M381.2 603.6L375.2 605.4M372.4 610.4L375.2 605.4M367.5 613.3L370.2 610.7M370.9 585.2L375.8 589.4M318.9 654.7L316.2 661.3M326.1 666.0L323.9 664.6M337.0 635.3L342.5 633.8M335.1 620.2L331.0 617.7M337.0 635.3L333.1 629.9M343.5 627.0L336.0 625.3M320.2 621.3L315.0 624.0M319.2 615.4L315.3 613.5M310.6 621.8L311.4 615.2M324.4 624.5L320.2 621.3M330.9 617.2L324.5 613.1M324.5 613.1L319.2 615.4M315.6 605.4L315.3 613.5M317.6 604.3L325.3 606.8M324.5 613.1L325.3 606.8M355.5 585.0L348.6 587.4M347.2 587.0L348.6 587.4M322.5 595.8L328.1 600.1M328.1 600.1L326.3 606.1M326.3 606.1L334.6 608.9M335.1 620.2L341.4 617.1M340.5 609.5L335.0 608.6M334.6 608.9L335.0 608.6M314.6 583.4L310.3 586.1M310.4 592.6L310.3 586.1M380.1 657.4L380.7 648.9M380.7 648.9L372.0 652.3M388.1 650.5L380.9 648.6M369.6 646.1L376.1 643.4M375.2 605.4L369.1 598.5M369.7 597.2L369.1 598.5M355.3 627.0L356.7 618.3M355.3 627.0L353.0 628.3M346.5 624.8L346.1 619.3M346.1 619.3L351.0 615.6M352.3 633.7L353.0 628.3M341.4 617.1L346.1 619.3M361.6 648.7L360.7 648.9M355.4 656.0L360.7 648.9M352.0 645.2L352.6 645.0M352.3 633.7L356.1 638.2M342.2 593.1L336.8 592.4M328.0 590.5L334.1 595.0M336.8 592.4L334.1 595.0M355.6 585.0L358.7 593.0M358.7 593.0L365.4 590.5M355.5 585.0L355.6 585.0M351.2 594.5L358.1 594.5M369.7 597.2L365.4 590.5M370.2 610.7L365.0 603.1M369.1 598.5L365.4 601.0M365.0 603.1L365.4 601.0M361.4 612.7L359.6 608.2M365.4 601.0L359.1 597.7M343.6 607.3L350.5 609.1M342.2 593.1L344.7 598.6M334.9 599.8L342.9 601.2M340.5 609.5L343.6 607.3M359.6 608.2L353.7 606.3" stroke="#9a6634" stroke-width="1.9" stroke-linecap="round" fill="none" opacity="0.70"/>
<path d="M399.1 655.0L400.5 651.4M335.7 639.4L343.5 644.5M341.6 649.3L337.4 650.9M331.6 644.0L325.6 648.3M337.4 650.9L336.6 652.7M336.6 652.7L329.7 654.8M320.5 639.5L322.5 636.9M313.5 604.4L309.9 596.3M397.9 655.7L394.5 663.6M389.3 654.7L388.4 656.5M396.4 665.5L394.5 674.6M401.7 665.6L404.6 669.1M404.6 669.1L401.7 674.5M399.1 655.0L397.9 655.7M403.5 660.2L401.7 665.6M393.9 675.0L394.5 674.6M388.1 671.9L388.0 666.0M388.0 666.0L391.2 663.4M336.6 652.7L338.5 658.7M380.1 657.4L372.0 658.3M382.2 663.6L378.5 666.9M388.0 666.0L382.2 663.6M388.4 656.5L382.1 659.2M379.7 671.3L378.5 666.9M369.0 669.0L373.2 665.2M389.3 654.7L388.1 650.5M363.1 659.8L356.4 658.2M366.8 656.9L363.1 659.8M322.5 636.9L319.1 630.8M320.5 595.7L317.6 604.3M324.5 625.0L324.4 624.5M342.5 633.8L343.5 627.0M330.9 617.2L334.6 608.9M340.5 609.5L341.4 617.1M370.4 656.7L372.0 652.3M353.0 628.3L346.5 624.8M356.7 618.3L351.0 615.6M335.0 608.6L334.9 599.8M358.1 594.5L358.7 593.0M349.0 598.1L353.6 603.6M350.5 609.1L353.7 606.3M353.7 606.3L353.6 603.6" stroke="#74441c" stroke-width="2.2" stroke-linecap="round" fill="none" opacity="0.90"/>
<path d="M335.7 639.4L332.2 642.0M332.2 642.0L331.6 644.0M331.6 644.0L337.4 650.9M329.7 654.8L325.6 648.3M304.3 599.6L309.9 596.3M394.5 663.6L396.4 665.5M329.7 654.8L329.2 656.2M309.9 596.3L311.0 593.4M335.7 639.4L337.0 635.3M346.1 636.1L342.5 633.8M336.0 625.3L333.1 629.9M336.0 625.3L335.1 620.2M331.0 617.7L324.4 624.5M324.5 625.0L329.5 630.1M329.5 630.1L333.1 629.9M325.5 636.4L329.5 630.1M330.9 617.2L331.0 617.7M343.5 627.0L346.5 624.8" stroke="#74441c" stroke-width="2.4" stroke-linecap="round" fill="none" opacity="1.00"/>
<ellipse cx="351.0" cy="607.8" rx="7.0" ry="6.3" fill="#d2cbc4" stroke="#8a4f1f" stroke-width="1" opacity="0.85"/>
<ellipse cx="322.0" cy="673.8" rx="6.0" ry="5.4" fill="#d2cbc4" stroke="#8a4f1f" stroke-width="1" opacity="0.8"/>
<ellipse cx="387.0" cy="630.8" rx="5.0" ry="4.5" fill="#cfc6bd" stroke="#8a4f1f" stroke-width="1" opacity="0.7"/>
<ellipse cx="331.6" cy="650.2" rx="2.7" ry="2.6" fill="#b8bbcb" stroke="#a0a2b8" stroke-width="0.6"/>
<ellipse cx="325.8" cy="642.0" rx="3.3" ry="2.8" fill="#c8c6cc" stroke="#a0a2b8" stroke-width="0.6"/>
<ellipse cx="341.6" cy="655.0" rx="2.6" ry="3.1" fill="#a6abc4" stroke="#a0a2b8" stroke-width="0.6"/>
<ellipse cx="339.2" cy="663.5" rx="3.2" ry="3.4" fill="#aeb2c6" stroke="#a0a2b8" stroke-width="0.6"/>
<ellipse cx="337.7" cy="645.1" rx="2.8" ry="3.1" fill="#b8bbcb" stroke="#a0a2b8" stroke-width="0.6"/>
<ellipse cx="331.5" cy="667.2" rx="2.8" ry="2.3" fill="#aeb2c6" stroke="#a0a2b8" stroke-width="0.6"/>
<ellipse cx="333.8" cy="657.6" rx="2.8" ry="3.0" fill="#c2c3cf" stroke="#a0a2b8" stroke-width="0.6"/>
<ellipse cx="345.9" cy="671.1" rx="2.7" ry="3.0" fill="#c8c6cc" stroke="#a0a2b8" stroke-width="0.6"/>
<ellipse cx="349.5" cy="678.8" rx="3.5" ry="3.1" fill="#b8bbcb" stroke="#a0a2b8" stroke-width="0.6"/>
<ellipse cx="324.7" cy="654.6" rx="2.8" ry="2.3" fill="#a6abc4" stroke="#a0a2b8" stroke-width="0.6"/>
<ellipse cx="338.9" cy="674.0" rx="3.4" ry="2.7" fill="#b8bbcb" stroke="#a0a2b8" stroke-width="0.6"/>
<ellipse cx="336.8" cy="681.1" rx="2.7" ry="2.9" fill="#c2c3cf" stroke="#a0a2b8" stroke-width="0.6"/>
<ellipse cx="314.0" cy="650.7" rx="3.4" ry="3.0" fill="#a6abc4" stroke="#a0a2b8" stroke-width="0.6"/>
<ellipse cx="350.7" cy="659.2" rx="3.1" ry="3.0" fill="#c2c3cf" stroke="#a0a2b8" stroke-width="0.6"/>
<ellipse cx="353.1" cy="669.2" rx="3.1" ry="2.6" fill="#c2c3cf" stroke="#a0a2b8" stroke-width="0.6"/>
<ellipse cx="355.3" cy="650.3" rx="2.6" ry="2.8" fill="#aeb2c6" stroke="#a0a2b8" stroke-width="0.6"/>
<ellipse cx="367.1" cy="650.5" rx="2.9" ry="2.8" fill="#a6abc4" stroke="#a0a2b8" stroke-width="0.6"/>
<ellipse cx="359.2" cy="678.3" rx="2.7" ry="3.4" fill="#a6abc4" stroke="#a0a2b8" stroke-width="0.6"/>
<ellipse cx="360.9" cy="654.5" rx="2.7" ry="3.2" fill="#c2c3cf" stroke="#a0a2b8" stroke-width="0.6"/>
<ellipse cx="358.4" cy="643.8" rx="3.2" ry="2.6" fill="#c2c3cf" stroke="#a0a2b8" stroke-width="0.6"/>
<ellipse cx="327.7" cy="660.8" rx="3.2" ry="3.4" fill="#c2c3cf" stroke="#a0a2b8" stroke-width="0.6"/>
<ellipse cx="376.8" cy="654.0" rx="2.9" ry="3.4" fill="#a6abc4" stroke="#a0a2b8" stroke-width="0.6"/>
<ellipse cx="374.4" cy="647.7" rx="3.1" ry="3.1" fill="#b8bbcb" stroke="#a0a2b8" stroke-width="0.6"/>
<ellipse cx="367.7" cy="663.2" rx="2.2" ry="2.7" fill="#b8bbcb" stroke="#a0a2b8" stroke-width="0.6"/>
<ellipse cx="330.0" cy="674.1" rx="2.8" ry="2.4" fill="#aeb2c6" stroke="#a0a2b8" stroke-width="0.6"/>
<ellipse cx="374.7" cy="670.9" rx="2.6" ry="2.7" fill="#c2c3cf" stroke="#a0a2b8" stroke-width="0.6"/>
<ellipse cx="320.7" cy="660.2" rx="3.1" ry="3.5" fill="#aeb2c6" stroke="#a0a2b8" stroke-width="0.6"/>
<ellipse cx="347.3" cy="648.9" rx="2.8" ry="3.1" fill="#c8c6cc" stroke="#a0a2b8" stroke-width="0.6"/>
<ellipse cx="358.7" cy="663.5" rx="2.8" ry="2.9" fill="#aeb2c6" stroke="#a0a2b8" stroke-width="0.6"/>
<ellipse cx="363.4" cy="670.9" rx="3.1" ry="2.5" fill="#b8bbcb" stroke="#a0a2b8" stroke-width="0.6"/>
<ellipse cx="341.7" cy="639.0" rx="3.0" ry="2.6" fill="#c8c6cc" stroke="#a0a2b8" stroke-width="0.6"/>
<ellipse cx="312.1" cy="673.1" rx="3.1" ry="3.3" fill="#c8c6cc" stroke="#a0a2b8" stroke-width="0.6"/>
<ellipse cx="371.9" cy="641.5" rx="3.1" ry="2.9" fill="#c2c3cf" stroke="#a0a2b8" stroke-width="0.6"/>
<ellipse cx="377.6" cy="661.4" rx="2.8" ry="2.8" fill="#a6abc4" stroke="#a0a2b8" stroke-width="0.6"/>
<ellipse cx="369.9" cy="676.3" rx="2.8" ry="3.0" fill="#b8bbcb" stroke="#a0a2b8" stroke-width="0.6"/>
<ellipse cx="380.2" cy="641.2" rx="3.0" ry="2.4" fill="#a6abc4" stroke="#a0a2b8" stroke-width="0.6"/>
<ellipse cx="331.0" cy="635.7" rx="2.7" ry="2.8" fill="#aeb2c6" stroke="#a0a2b8" stroke-width="0.6"/>
<ellipse cx="383.9" cy="654.5" rx="2.4" ry="2.9" fill="#c2c3cf" stroke="#a0a2b8" stroke-width="0.6"/>
<ellipse cx="330.6" cy="684.8" rx="3.0" ry="2.9" fill="#c8c6cc" stroke="#a0a2b8" stroke-width="0.6"/>
<ellipse cx="362.6" cy="638.4" rx="3.3" ry="3.2" fill="#aeb2c6" stroke="#a0a2b8" stroke-width="0.6"/>
<ellipse cx="367.7" cy="683.8" rx="2.7" ry="3.1" fill="#aeb2c6" stroke="#a0a2b8" stroke-width="0.6"/>
<ellipse cx="317.9" cy="644.8" rx="2.7" ry="3.1" fill="#b8bbcb" stroke="#a0a2b8" stroke-width="0.6"/>
<ellipse cx="314.9" cy="665.8" rx="2.8" ry="3.0" fill="#aeb2c6" stroke="#a0a2b8" stroke-width="0.6"/>
<ellipse cx="375.0" cy="682.5" rx="2.7" ry="2.7" fill="#c2c3cf" stroke="#a0a2b8" stroke-width="0.6"/>
<ellipse cx="350.2" cy="639.5" rx="3.1" ry="3.2" fill="#c2c3cf" stroke="#a0a2b8" stroke-width="0.6"/>
<ellipse cx="386.7" cy="661.2" rx="3.0" ry="2.6" fill="#c2c3cf" stroke="#a0a2b8" stroke-width="0.6"/>
<ellipse cx="372.1" cy="633.0" rx="2.9" ry="3.4" fill="#b8bbcb" stroke="#a0a2b8" stroke-width="0.6"/>
<ellipse cx="304.5" cy="665.4" rx="2.9" ry="2.5" fill="#c8c6cc" stroke="#a0a2b8" stroke-width="0.6"/>
<ellipse cx="304.3" cy="653.2" rx="3.0" ry="2.8" fill="#aeb2c6" stroke="#a0a2b8" stroke-width="0.6"/>
<ellipse cx="306.9" cy="647.1" rx="3.0" ry="3.1" fill="#c2c3cf" stroke="#a0a2b8" stroke-width="0.6"/>
<ellipse cx="313.7" cy="657.3" rx="3.3" ry="3.0" fill="#c2c3cf" stroke="#a0a2b8" stroke-width="0.6"/>
<ellipse cx="358.2" cy="632.6" rx="3.0" ry="2.9" fill="#a6abc4" stroke="#a0a2b8" stroke-width="0.6"/>
<ellipse cx="383.8" cy="668.5" rx="3.0" ry="3.0" fill="#c2c3cf" stroke="#a0a2b8" stroke-width="0.6"/>
<ellipse cx="364.7" cy="628.2" rx="3.3" ry="3.5" fill="#c2c3cf" stroke="#a0a2b8" stroke-width="0.6"/>
<ellipse cx="379.4" cy="676.3" rx="2.7" ry="3.0" fill="#c2c3cf" stroke="#a0a2b8" stroke-width="0.6"/>
<ellipse cx="357.0" cy="685.1" rx="3.5" ry="3.2" fill="#c8c6cc" stroke="#a0a2b8" stroke-width="0.6"/>
<ellipse cx="302.1" cy="673.4" rx="2.6" ry="3.0" fill="#b8bbcb" stroke="#a0a2b8" stroke-width="0.6"/>
<ellipse cx="316.3" cy="680.1" rx="3.4" ry="2.9" fill="#b8bbcb" stroke="#a0a2b8" stroke-width="0.6"/>
<ellipse cx="307.1" cy="681.8" rx="2.8" ry="2.2" fill="#a6abc4" stroke="#a0a2b8" stroke-width="0.6"/>
<ellipse cx="379.9" cy="624.6" rx="3.4" ry="2.7" fill="#b8bbcb" stroke="#a0a2b8" stroke-width="0.6"/>
<ellipse cx="372.9" cy="624.4" rx="2.8" ry="3.1" fill="#aeb2c6" stroke="#a0a2b8" stroke-width="0.6"/>
<ellipse cx="316.9" cy="634.8" rx="3.2" ry="2.8" fill="#c2c3cf" stroke="#a0a2b8" stroke-width="0.6"/>
<ellipse cx="346.0" cy="684.7" rx="2.9" ry="2.6" fill="#aeb2c6" stroke="#a0a2b8" stroke-width="0.6"/>
<ellipse cx="323.7" cy="631.0" rx="3.1" ry="2.8" fill="#c8c6cc" stroke="#a0a2b8" stroke-width="0.6"/>
<ellipse cx="381.0" cy="685.5" rx="2.8" ry="2.8" fill="#c8c6cc" stroke="#a0a2b8" stroke-width="0.6"/>
<ellipse cx="339.2" cy="629.8" rx="2.4" ry="3.0" fill="#aeb2c6" stroke="#a0a2b8" stroke-width="0.6"/>
<ellipse cx="302.6" cy="638.3" rx="3.3" ry="3.2" fill="#aeb2c6" stroke="#a0a2b8" stroke-width="0.6"/>
<ellipse cx="371.8" cy="616.1" rx="2.5" ry="2.8" fill="#aeb2c6" stroke="#a0a2b8" stroke-width="0.6"/>
<ellipse cx="392.9" cy="658.7" rx="3.1" ry="3.3" fill="#c2c3cf" stroke="#a0a2b8" stroke-width="0.6"/>
<ellipse cx="399.2" cy="661.4" rx="2.3" ry="2.9" fill="#c2c3cf" stroke="#a0a2b8" stroke-width="0.6"/>
<ellipse cx="378.8" cy="633.0" rx="2.5" ry="2.8" fill="#b8bbcb" stroke="#a0a2b8" stroke-width="0.6"/>
<ellipse cx="346.8" cy="630.9" rx="3.4" ry="3.1" fill="#c2c3cf" stroke="#a0a2b8" stroke-width="0.6"/>
<ellipse cx="360.3" cy="623.2" rx="3.0" ry="3.0" fill="#a6abc4" stroke="#a0a2b8" stroke-width="0.6"/>
<ellipse cx="351.8" cy="621.8" rx="2.5" ry="2.9" fill="#c8c6cc" stroke="#a0a2b8" stroke-width="0.6"/>
<ellipse cx="392.3" cy="668.2" rx="3.3" ry="3.4" fill="#a6abc4" stroke="#a0a2b8" stroke-width="0.6"/>
<ellipse cx="384.6" cy="616.2" rx="3.5" ry="3.1" fill="#c8c6cc" stroke="#a0a2b8" stroke-width="0.6"/>
<ellipse cx="393.8" cy="637.2" rx="2.5" ry="2.9" fill="#c2c3cf" stroke="#a0a2b8" stroke-width="0.6"/>
<ellipse cx="405.4" cy="656.1" rx="3.2" ry="3.2" fill="#aeb2c6" stroke="#a0a2b8" stroke-width="0.6"/>
<ellipse cx="387.3" cy="677.4" rx="2.7" ry="2.6" fill="#c2c3cf" stroke="#a0a2b8" stroke-width="0.6"/>
<ellipse cx="340.9" cy="622.6" rx="2.9" ry="3.0" fill="#c8c6cc" stroke="#a0a2b8" stroke-width="0.6"/>
<ellipse cx="311.9" cy="626.7" rx="2.9" ry="2.7" fill="#a6abc4" stroke="#a0a2b8" stroke-width="0.6"/>
<ellipse cx="406.2" cy="663.8" rx="3.1" ry="3.2" fill="#c2c3cf" stroke="#a0a2b8" stroke-width="0.6"/>
<ellipse cx="336.7" cy="614.1" rx="3.0" ry="3.2" fill="#c8c6cc" stroke="#a0a2b8" stroke-width="0.6"/>
<ellipse cx="386.3" cy="645.0" rx="2.9" ry="2.5" fill="#b8bbcb" stroke="#a0a2b8" stroke-width="0.6"/>
<ellipse cx="303.8" cy="629.1" rx="2.8" ry="3.0" fill="#c8c6cc" stroke="#a0a2b8" stroke-width="0.6"/>
<ellipse cx="330.5" cy="624.4" rx="3.0" ry="2.5" fill="#aeb2c6" stroke="#a0a2b8" stroke-width="0.6"/>
<ellipse cx="309.5" cy="637.9" rx="3.0" ry="2.8" fill="#aeb2c6" stroke="#a0a2b8" stroke-width="0.6"/>
<ellipse cx="318.5" cy="626.2" rx="3.4" ry="3.5" fill="#a6abc4" stroke="#a0a2b8" stroke-width="0.6"/>
<ellipse cx="388.9" cy="684.5" rx="2.8" ry="3.1" fill="#aeb2c6" stroke="#a0a2b8" stroke-width="0.6"/>
<ellipse cx="399.2" cy="679.5" rx="3.2" ry="3.4" fill="#c8c6cc" stroke="#a0a2b8" stroke-width="0.6"/>
<ellipse cx="393.7" cy="651.6" rx="3.1" ry="2.8" fill="#aeb2c6" stroke="#a0a2b8" stroke-width="0.6"/>
<ellipse cx="390.7" cy="613.5" rx="3.5" ry="3.3" fill="#b8bbcb" stroke="#a0a2b8" stroke-width="0.6"/>
<ellipse cx="399.8" cy="616.5" rx="2.8" ry="2.4" fill="#c2c3cf" stroke="#a0a2b8" stroke-width="0.6"/>
<ellipse cx="390.4" cy="620.8" rx="3.0" ry="3.2" fill="#b8bbcb" stroke="#a0a2b8" stroke-width="0.6"/>
<ellipse cx="396.4" cy="628.8" rx="3.0" ry="3.3" fill="#a6abc4" stroke="#a0a2b8" stroke-width="0.6"/>
<ellipse cx="399.1" cy="669.6" rx="2.8" ry="3.1" fill="#c8c6cc" stroke="#a0a2b8" stroke-width="0.6"/>
<ellipse cx="315.2" cy="619.9" rx="2.6" ry="2.8" fill="#b8bbcb" stroke="#a0a2b8" stroke-width="0.6"/>
<ellipse cx="324.4" cy="618.4" rx="3.0" ry="2.6" fill="#c8c6cc" stroke="#a0a2b8" stroke-width="0.6"/>
<ellipse cx="402.7" cy="645.0" rx="2.5" ry="2.9" fill="#c8c6cc" stroke="#a0a2b8" stroke-width="0.6"/>
<ellipse cx="378.0" cy="609.3" rx="3.3" ry="2.6" fill="#b8bbcb" stroke="#a0a2b8" stroke-width="0.6"/>
<ellipse cx="306.5" cy="618.9" rx="3.2" ry="3.2" fill="#b8bbcb" stroke="#a0a2b8" stroke-width="0.6"/>
<ellipse cx="364.1" cy="617.2" rx="2.5" ry="3.2" fill="#c8c6cc" stroke="#a0a2b8" stroke-width="0.6"/>
<ellipse cx="407.2" cy="674.0" rx="3.2" ry="3.2" fill="#b8bbcb" stroke="#a0a2b8" stroke-width="0.6"/>
<ellipse cx="338.4" cy="604.0" rx="3.3" ry="3.2" fill="#a6abc4" stroke="#a0a2b8" stroke-width="0.6"/>
<ellipse cx="402.7" cy="631.7" rx="3.0" ry="3.0" fill="#c8c6cc" stroke="#a0a2b8" stroke-width="0.6"/>
<ellipse cx="310.5" cy="609.2" rx="2.8" ry="2.6" fill="#c2c3cf" stroke="#a0a2b8" stroke-width="0.6"/>
<ellipse cx="406.3" cy="638.8" rx="2.8" ry="3.1" fill="#b8bbcb" stroke="#a0a2b8" stroke-width="0.6"/>
<ellipse cx="395.9" cy="644.3" rx="2.9" ry="3.3" fill="#b8bbcb" stroke="#a0a2b8" stroke-width="0.6"/>
<ellipse cx="370.4" cy="605.0" rx="3.3" ry="3.3" fill="#c2c3cf" stroke="#a0a2b8" stroke-width="0.6"/>
<ellipse cx="404.5" cy="684.5" rx="3.5" ry="3.3" fill="#b8bbcb" stroke="#a0a2b8" stroke-width="0.6"/>
<ellipse cx="315.0" cy="599.0" rx="3.2" ry="3.0" fill="#c8c6cc" stroke="#a0a2b8" stroke-width="0.6"/>
<ellipse cx="398.0" cy="608.8" rx="3.4" ry="3.2" fill="#a6abc4" stroke="#a0a2b8" stroke-width="0.6"/>
<ellipse cx="387.0" cy="606.6" rx="2.8" ry="3.5" fill="#c8c6cc" stroke="#a0a2b8" stroke-width="0.6"/>
<ellipse cx="302.2" cy="611.4" rx="3.4" ry="3.3" fill="#a6abc4" stroke="#a0a2b8" stroke-width="0.6"/>
<ellipse cx="301.2" cy="603.2" rx="3.0" ry="2.6" fill="#b8bbcb" stroke="#a0a2b8" stroke-width="0.6"/>
<ellipse cx="323.0" cy="601.6" rx="3.4" ry="2.8" fill="#a6abc4" stroke="#a0a2b8" stroke-width="0.6"/>
<ellipse cx="364.9" cy="608.8" rx="3.1" ry="3.2" fill="#c2c3cf" stroke="#a0a2b8" stroke-width="0.6"/>
<ellipse cx="320.4" cy="609.6" rx="3.3" ry="2.7" fill="#a6abc4" stroke="#a0a2b8" stroke-width="0.6"/>
<ellipse cx="375.4" cy="600.6" rx="3.1" ry="3.0" fill="#aeb2c6" stroke="#a0a2b8" stroke-width="0.6"/>
<ellipse cx="393.9" cy="599.3" rx="2.8" ry="2.6" fill="#aeb2c6" stroke="#a0a2b8" stroke-width="0.6"/>
<ellipse cx="384.1" cy="595.5" rx="2.6" ry="3.3" fill="#b8bbcb" stroke="#a0a2b8" stroke-width="0.6"/>
<ellipse cx="403.4" cy="622.1" rx="2.9" ry="2.4" fill="#c2c3cf" stroke="#a0a2b8" stroke-width="0.6"/>
<ellipse cx="329.3" cy="610.8" rx="3.0" ry="3.1" fill="#c8c6cc" stroke="#a0a2b8" stroke-width="0.6"/>
<ellipse cx="406.0" cy="610.0" rx="3.0" ry="3.3" fill="#b8bbcb" stroke="#a0a2b8" stroke-width="0.6"/>
<ellipse cx="403.9" cy="600.7" rx="2.3" ry="3.0" fill="#b8bbcb" stroke="#a0a2b8" stroke-width="0.6"/>
<ellipse cx="359.3" cy="602.8" rx="3.1" ry="2.5" fill="#c2c3cf" stroke="#a0a2b8" stroke-width="0.6"/>
<ellipse cx="331.5" cy="604.1" rx="2.9" ry="3.2" fill="#c8c6cc" stroke="#a0a2b8" stroke-width="0.6"/>
<ellipse cx="363.5" cy="595.0" rx="2.8" ry="2.8" fill="#c2c3cf" stroke="#a0a2b8" stroke-width="0.6"/>
<ellipse cx="370.3" cy="590.5" rx="3.0" ry="2.7" fill="#b8bbcb" stroke="#a0a2b8" stroke-width="0.6"/>
<ellipse cx="368.0" cy="580.8" rx="3.0" ry="2.7" fill="#aeb2c6" stroke="#a0a2b8" stroke-width="0.6"/>
<ellipse cx="388.7" cy="587.6" rx="2.8" ry="2.2" fill="#b8bbcb" stroke="#a0a2b8" stroke-width="0.6"/>
<ellipse cx="360.0" cy="580.5" rx="2.7" ry="2.8" fill="#a6abc4" stroke="#a0a2b8" stroke-width="0.6"/>
<ellipse cx="408.0" cy="595.2" rx="2.6" ry="3.2" fill="#aeb2c6" stroke="#a0a2b8" stroke-width="0.6"/>
<ellipse cx="383.5" cy="580.3" rx="2.8" ry="2.7" fill="#b8bbcb" stroke="#a0a2b8" stroke-width="0.6"/>
<ellipse cx="308.5" cy="601.8" rx="2.6" ry="3.3" fill="#c2c3cf" stroke="#a0a2b8" stroke-width="0.6"/>
<ellipse cx="401.0" cy="592.2" rx="2.7" ry="2.6" fill="#aeb2c6" stroke="#a0a2b8" stroke-width="0.6"/>
<ellipse cx="376.0" cy="583.7" rx="3.0" ry="2.5" fill="#aeb2c6" stroke="#a0a2b8" stroke-width="0.6"/>
<ellipse cx="405.5" cy="587.2" rx="2.9" ry="3.5" fill="#c2c3cf" stroke="#a0a2b8" stroke-width="0.6"/>
<ellipse cx="314.3" cy="587.4" rx="3.3" ry="3.0" fill="#aeb2c6" stroke="#a0a2b8" stroke-width="0.6"/>
<ellipse cx="304.4" cy="594.9" rx="2.6" ry="3.2" fill="#c8c6cc" stroke="#a0a2b8" stroke-width="0.6"/>
<ellipse cx="339.6" cy="597.0" rx="3.3" ry="2.8" fill="#c2c3cf" stroke="#a0a2b8" stroke-width="0.6"/>
<ellipse cx="399.2" cy="585.0" rx="2.6" ry="3.1" fill="#aeb2c6" stroke="#a0a2b8" stroke-width="0.6"/>
<ellipse cx="332.3" cy="589.4" rx="3.2" ry="3.2" fill="#b8bbcb" stroke="#a0a2b8" stroke-width="0.6"/>
<ellipse cx="381.4" cy="588.7" rx="3.3" ry="2.8" fill="#b8bbcb" stroke="#a0a2b8" stroke-width="0.6"/>
<ellipse cx="361.0" cy="588.4" rx="2.7" ry="3.3" fill="#c8c6cc" stroke="#a0a2b8" stroke-width="0.6"/>
<ellipse cx="354.0" cy="591.1" rx="2.6" ry="3.0" fill="#a6abc4" stroke="#a0a2b8" stroke-width="0.6"/>
<ellipse cx="350.6" cy="581.1" rx="3.0" ry="2.8" fill="#b8bbcb" stroke="#a0a2b8" stroke-width="0.6"/>
<ellipse cx="394.6" cy="590.7" rx="2.4" ry="3.0" fill="#aeb2c6" stroke="#a0a2b8" stroke-width="0.6"/>
<ellipse cx="328.3" cy="594.8" rx="2.6" ry="3.1" fill="#aeb2c6" stroke="#a0a2b8" stroke-width="0.6"/>
<ellipse cx="353.9" cy="597.9" rx="3.2" ry="2.7" fill="#a6abc4" stroke="#a0a2b8" stroke-width="0.6"/>
<ellipse cx="346.9" cy="593.7" rx="2.8" ry="2.2" fill="#b8bbcb" stroke="#a0a2b8" stroke-width="0.6"/>
<ellipse cx="340.7" cy="588.6" rx="2.7" ry="2.8" fill="#c8c6cc" stroke="#a0a2b8" stroke-width="0.6"/>
<ellipse cx="306.3" cy="587.6" rx="3.0" ry="3.4" fill="#c8c6cc" stroke="#a0a2b8" stroke-width="0.6"/>
<ellipse cx="338.7" cy="580.6" rx="3.0" ry="3.2" fill="#c2c3cf" stroke="#a0a2b8" stroke-width="0.6"/>
<ellipse cx="390.5" cy="580.2" rx="2.9" ry="3.3" fill="#b8bbcb" stroke="#a0a2b8" stroke-width="0.6"/>
<ellipse cx="323.6" cy="590.1" rx="2.9" ry="2.7" fill="#c8c6cc" stroke="#a0a2b8" stroke-width="0.6"/>
<ellipse cx="310.9" cy="581.8" rx="2.3" ry="2.8" fill="#aeb2c6" stroke="#a0a2b8" stroke-width="0.6"/>
<ellipse cx="331.9" cy="580.3" rx="3.3" ry="2.6" fill="#b8bbcb" stroke="#a0a2b8" stroke-width="0.6"/>
<ellipse cx="324.2" cy="583.3" rx="2.9" ry="3.0" fill="#b8bbcb" stroke="#a0a2b8" stroke-width="0.6"/>
<ellipse cx="317.6" cy="580.6" rx="3.0" ry="3.1" fill="#c2c3cf" stroke="#a0a2b8" stroke-width="0.6"/>
<ellipse cx="301.7" cy="581.9" rx="2.7" ry="2.4" fill="#c2c3cf" stroke="#a0a2b8" stroke-width="0.6"/>
</g></g>
<line x1="311.7" y1="674.8" x2="333.7" y2="674.8" stroke="#000" stroke-width="1.7"/>
<text x="310.9" y="598.8" font-size="12" text-anchor="start" font-weight="bold" fill="#000" stroke="#000" stroke-width="0.3">I</text>
<clipPath id="cJ"><rect x="404.8" y="585.8" width="95.2" height="94.0"/></clipPath>
<g clip-path="url(#cJ)"><g filter="url(#blur)">
<rect x="404.8" y="585.8" width="95.2" height="94.0" fill="#e4ddd5"/>
<path d="M403.4 632.5L407.1 625.9M407.1 625.9L404.9 622.8M506.2 589.1L500.8 584.2M407.1 625.9L411.7 626.4M404.9 622.8L405.2 616.0M416.6 622.4L411.7 626.4M416.6 622.4L414.6 616.1M414.6 616.1L405.5 615.7M417.7 586.4L421.7 577.7M506.2 589.1L499.8 594.3M506.7 602.0L496.9 603.9M470.9 586.6L471.4 593.5M470.9 586.6L475.6 585.2M479.7 586.7L475.6 585.2M470.8 603.9L465.3 597.5M471.4 593.5L465.5 596.2M404.6 592.9L409.3 597.1M409.3 597.1L406.1 602.4M414.6 588.1L414.0 596.5M409.3 597.1L414.0 596.5M405.0 610.2L407.3 606.7M407.3 606.7L406.1 602.4M417.7 586.4L423.2 591.0M423.2 591.0L427.8 589.6M497.6 662.1L491.0 661.3M496.5 586.2L498.4 594.1M496.5 586.2L494.3 585.5M494.3 585.5L488.5 589.0M499.8 594.3L498.4 594.1M483.7 585.2L488.5 589.0M491.0 661.3L488.4 666.5M488.7 675.2L491.9 670.3M488.7 675.2L482.2 674.0M481.0 676.8L482.2 674.0M481.0 676.8L484.1 685.2M481.0 676.8L472.5 678.8M442.2 624.9L444.3 617.7M444.3 617.7L436.6 613.5M423.4 673.0L415.6 675.7M423.4 673.0L426.7 678.7M426.7 678.7L420.8 683.9M442.2 624.9L446.0 626.6M500.5 631.0L506.0 637.4M479.7 586.7L483.7 585.2M436.3 610.4L436.3 610.4M436.3 610.4L437.6 599.5M437.6 599.5L434.5 597.5M434.5 597.5L437.2 590.7M470.3 586.3L470.9 586.6M428.8 650.4L428.2 659.0M453.8 680.6L461.2 691.4M471.0 605.8L470.8 603.9M471.0 605.8L465.0 609.0M464.6 610.1L456.4 613.2M464.6 610.1L465.8 614.5M452.2 624.2L453.0 622.1M453.0 622.1L457.7 619.9M453.0 622.1L447.5 615.9M465.0 609.0L464.6 610.1M488.4 666.5L483.0 667.2M472.5 678.8L472.2 678.7M461.2 691.4L465.9 679.7M405.3 664.6L407.2 671.4M407.2 671.4L412.3 671.4M405.3 673.4L407.2 671.4M415.6 675.7L412.3 671.4M425.7 666.8L424.2 668.3M440.4 599.4L444.8 593.6M448.8 612.7L443.0 608.5M447.5 615.9L448.8 612.7M436.3 610.4L443.0 608.5" stroke="#b07a3a" stroke-width="1.5" stroke-linecap="round" fill="none" opacity="0.10"/>
<path d="M408.6 638.4L403.4 632.5M405.7 656.0L403.5 649.6M405.4 642.4L405.9 646.5M405.9 646.5L403.5 649.6M411.7 626.4L414.2 633.7M431.2 641.9L429.5 637.4M431.2 641.9L428.0 646.0M503.0 613.1L497.8 610.1M497.8 610.1L496.9 603.9M479.7 586.7L479.1 595.8M471.4 593.5L474.8 596.1M470.8 603.9L474.8 596.1M431.2 641.9L436.7 642.9M436.7 642.9L439.1 641.1M438.1 633.3L432.8 633.2M438.1 633.3L439.3 634.8M439.3 634.8L439.1 641.1M414.6 616.1L415.8 614.2M415.8 614.2L414.8 607.1M407.3 606.7L414.8 607.1M501.2 658.0L498.9 652.2M491.0 661.3L489.4 658.5M489.4 658.5L491.8 652.5M492.3 612.4L497.8 610.1M492.3 612.4L490.4 611.2M495.3 602.8L489.3 605.6M495.3 602.8L496.9 603.9M490.4 611.2L489.3 605.6M490.4 611.2L483.4 614.1M500.5 631.0L496.0 631.8M503.0 613.1L499.4 620.6M488.5 589.0L489.1 594.5M489.1 594.5L494.5 596.4M494.5 596.4L498.4 594.1M495.3 602.8L494.5 596.4M405.9 646.5L411.5 649.2M436.6 613.5L436.3 610.4M436.6 613.5L432.6 620.1M431.5 608.8L436.3 610.4M442.2 624.9L440.7 625.4M440.7 625.4L433.3 622.0M440.7 625.4L438.1 633.3M416.6 622.4L420.4 623.6M436.8 657.5L436.2 651.6M437.6 650.0L436.2 651.6M435.3 659.3L436.8 657.5M454.5 657.4L454.5 661.4M446.4 634.7L447.9 632.7M447.9 632.7L456.1 633.0M439.3 634.8L446.4 634.7M446.0 626.6L447.9 632.7M446.0 626.6L452.2 624.2M456.1 633.0L456.2 631.1M456.2 631.1L452.2 624.2M423.2 591.0L421.4 596.0M427.8 589.6L431.6 597.7M414.0 596.5L414.9 597.2M489.1 594.5L485.3 597.4M485.0 645.3L484.0 650.2M481.4 640.8L481.0 640.7M481.0 640.7L476.5 645.8M476.5 645.8L478.8 650.6M478.8 650.6L482.9 651.0M482.9 651.0L484.0 650.2M491.8 652.5L484.0 650.2M488.1 636.8L481.4 640.8M483.5 658.1L482.9 651.0M456.2 631.1L463.5 623.7M431.6 597.7L434.5 597.5M456.3 647.5L458.1 645.1M464.5 662.4L465.1 661.4M428.0 646.0L428.4 650.0M420.3 652.3L428.4 650.0M436.2 651.6L428.8 650.4M428.4 650.0L428.8 650.4M435.3 659.3L428.2 659.0M431.4 668.5L425.7 666.8M425.7 666.8L425.5 661.0M428.2 659.0L425.5 661.0M405.7 656.0L408.1 657.4M425.5 661.0L419.7 657.6M419.7 657.6L419.1 656.4M455.9 670.8L458.6 673.9M453.8 680.6L447.9 679.9M456.4 613.2L457.7 619.9M473.5 607.0L478.2 605.8M475.4 615.1L477.0 615.8M483.4 614.1L483.2 614.0M471.0 605.8L473.5 607.0M464.0 639.9L470.5 640.3M464.0 639.9L461.7 644.2M461.7 644.2L468.0 650.1M471.8 645.2L468.0 650.1M463.4 655.7L468.0 650.2M468.0 650.2L468.0 650.1M476.5 645.8L471.8 645.2M474.8 654.8L468.0 650.2M474.8 654.8L478.8 650.6M475.5 660.4L473.7 661.6M473.2 670.2L481.5 671.0M483.0 667.2L481.5 671.0M474.8 654.8L475.5 660.4M465.1 661.4L473.7 661.6M482.2 674.0L481.5 671.0M472.6 670.8L472.2 678.7M465.9 679.7L472.2 678.7M473.2 670.2L472.6 670.8M405.3 664.6L408.2 660.3M412.3 671.4L415.6 666.9M423.4 673.0L424.2 668.3M424.2 668.3L415.6 666.9M427.2 678.8L435.5 687.9M435.5 687.9L438.8 682.3M426.7 678.7L427.2 678.8" stroke="#b07a3a" stroke-width="1.8" stroke-linecap="round" fill="none" opacity="0.30"/>
<path d="M405.4 642.4L408.6 638.4M409.9 638.3L414.2 633.7M421.3 634.0L422.3 635.8M408.6 638.4L409.9 638.3M428.0 646.0L420.4 642.9M429.5 637.4L422.3 635.8M479.1 595.8L474.8 596.1M429.5 637.4L432.8 633.2M491.8 652.5L492.9 651.8M498.9 652.2L492.9 651.8M492.3 612.4L493.1 618.6M485.8 619.3L483.4 614.1M499.4 620.6L503.8 624.8M503.8 624.8L500.5 631.0M496.0 631.8L495.5 631.6M484.4 622.9L485.8 619.3M426.4 617.7L420.4 623.6M429.9 627.4L423.1 628.2M420.4 623.6L423.1 628.2M432.8 633.2L429.9 627.4M415.8 614.2L424.6 613.0M421.3 634.0L423.1 628.2M455.9 670.8L450.4 669.8M454.5 661.4L458.4 664.3M450.4 669.8L449.5 664.4M436.8 657.5L445.0 658.5M440.1 667.1L445.6 661.6M445.6 661.6L445.0 658.5M436.7 642.9L437.6 650.0M447.3 645.4L443.8 650.0M439.1 641.1L446.8 643.5M451.8 655.0L453.2 648.5M449.5 664.4L445.6 661.6M447.9 641.2L446.4 634.7M447.9 641.2L454.7 638.6M454.7 638.6L456.4 633.6M456.4 633.6L456.1 633.0M446.8 643.5L447.9 641.2M416.6 604.8L414.9 597.2M414.9 597.2L421.4 596.0M414.8 607.1L416.6 604.8M428.4 600.3L431.6 597.7M501.0 648.7L496.1 640.6M506.0 637.4L496.6 640.0M496.6 640.0L496.1 640.6M498.9 652.2L501.0 648.7M492.9 651.8L490.9 644.0M479.1 595.8L480.7 597.1M471.9 616.9L465.8 614.5M465.8 614.5L462.2 621.5M465.7 625.0L463.5 623.7M463.5 623.7L462.2 621.5M478.6 623.5L484.4 622.9M480.7 631.9L486.0 630.8M488.1 636.8L488.2 633.4M485.0 645.3L481.4 640.8M490.9 644.0L485.0 645.3M478.3 637.0L481.0 640.7M489.4 658.5L483.5 658.1M454.5 657.4L461.9 655.2M461.9 655.2L463.4 655.7M463.4 655.7L465.1 661.4M436.3 665.3L431.4 668.5M411.5 649.2L410.9 655.3M408.1 657.4L410.9 655.3M420.3 652.3L419.1 656.4M446.7 673.0L441.6 671.2M458.6 673.9L453.8 680.6M446.7 673.0L447.9 679.9M447.7 680.2L447.9 679.9M462.2 621.5L457.7 619.9M481.7 607.5L478.2 605.8M481.7 607.5L483.2 614.0M483.2 614.0L477.0 615.8M473.5 607.0L475.4 615.1M478.6 623.5L477.0 615.8M471.9 616.9L475.4 615.1M470.5 640.3L471.8 645.2M472.9 636.7L470.5 640.3M458.1 645.1L461.7 644.2M473.7 661.6L473.2 670.2M479.8 661.4L483.0 667.2M483.5 658.1L479.8 661.4M472.6 670.8L465.5 669.6M465.9 679.7L462.1 674.3M464.5 662.4L465.5 669.6M458.6 673.9L462.1 674.3M419.7 657.6L415.0 664.2M427.2 678.8L433.3 674.4M437.0 675.6L438.8 682.3M447.7 680.2L438.8 682.3" stroke="#b07a3a" stroke-width="2.1" stroke-linecap="round" fill="none" opacity="0.50"/>
<path d="M414.2 633.7L421.3 634.0M417.1 645.3L420.4 642.9M493.7 624.8L495.5 631.6M486.8 626.5L484.4 622.9M417.0 645.6L411.5 649.2M432.6 620.1L426.4 617.7M432.6 620.1L433.3 622.0M424.6 613.0L426.4 617.7M425.0 611.9L431.5 608.8M455.9 670.8L458.4 664.3M454.5 661.4L449.5 664.4M437.6 650.0L443.8 650.0M443.8 650.0L446.0 656.7M446.0 656.7L445.0 658.5M436.3 665.3L435.3 659.3M447.3 645.4L446.8 643.5M451.8 655.0L446.0 656.7M453.2 648.5L447.3 645.4M451.8 655.0L454.5 657.4M426.8 600.4L421.4 596.0M425.0 611.9L422.1 605.4M431.5 608.8L428.4 600.3M490.9 644.0L492.5 641.4M492.5 641.4L496.1 640.6M496.0 631.8L496.6 640.0M489.3 605.6L487.2 604.5M487.2 604.5L485.3 597.4M485.3 597.4L480.7 597.1M470.3 624.3L465.7 625.0M470.3 624.3L471.9 616.9M478.6 623.5L476.2 626.1M486.8 626.5L486.0 630.8M495.5 631.6L488.2 633.4M486.0 630.8L488.2 633.4M492.5 641.4L488.1 636.8M478.3 637.0L480.7 631.9M456.4 633.6L462.2 635.3M462.2 635.3L465.8 632.2M478.3 637.0L472.9 636.7M471.7 634.2L472.9 636.7M453.2 648.5L456.3 647.5M461.9 655.2L456.3 647.5M454.7 638.6L458.1 645.1M458.4 664.3L464.5 662.4M417.0 645.6L420.3 652.3M410.9 655.3L419.1 656.4M450.4 669.8L446.7 673.0M480.7 597.1L478.2 605.8M462.2 635.3L464.0 639.9M475.5 660.4L479.8 661.4M462.1 674.3L465.5 669.6M408.2 660.3L415.0 664.2M415.6 666.9L415.0 664.2M408.1 657.4L408.2 660.3M431.4 668.5L433.3 674.4" stroke="#b07a3a" stroke-width="2.3" stroke-linecap="round" fill="none" opacity="0.70"/>
<path d="M420.4 642.9L422.3 635.8M485.8 619.3L493.1 618.6M499.4 620.6L495.8 621.0M493.1 618.6L495.8 621.0M417.1 645.3L417.0 645.6M433.3 622.0L429.9 627.4M424.6 613.0L425.0 611.9M436.3 665.3L440.1 667.1M422.1 605.4L416.6 604.8M422.1 605.4L426.8 600.4M428.4 600.3L426.8 600.4M476.2 626.1L480.7 631.9M465.7 625.0L465.8 632.2M474.3 626.3L471.7 634.2M474.3 626.3L470.3 624.3M465.8 632.2L471.7 634.2M476.2 626.1L474.3 626.3M487.2 604.5L481.7 607.5M433.3 674.4L437.0 675.6" stroke="#8e521e" stroke-width="2.6" stroke-linecap="round" fill="none" opacity="0.90"/>
<path d="M409.9 638.3L417.1 645.3M495.8 621.0L493.7 624.8M486.8 626.5L493.7 624.8M440.1 667.1L441.6 671.2M441.6 671.2L437.0 675.6" stroke="#8e521e" stroke-width="2.9" stroke-linecap="round" fill="none" opacity="1.00"/>
<ellipse cx="450.8" cy="648.8" rx="9.5" ry="8.6" fill="#d6cbbf" stroke="#9a5a22" stroke-width="2.2" opacity="1.0"/>
<ellipse cx="426.8" cy="630.8" rx="5.5" ry="5.0" fill="#d0c6bc" stroke="#b07a3a" stroke-width="1.5" opacity="0.8"/>
<ellipse cx="415.0" cy="651.8" rx="2.8" ry="2.8" fill="#a9afcc" stroke="#8f96b8" stroke-width="0.6"/>
<ellipse cx="413.9" cy="659.7" rx="3.2" ry="3.3" fill="#bbbfd5" stroke="#8f96b8" stroke-width="0.6"/>
<ellipse cx="410.5" cy="645.0" rx="3.0" ry="3.2" fill="#bbbfd5" stroke="#8f96b8" stroke-width="0.6"/>
<ellipse cx="416.6" cy="638.7" rx="2.8" ry="2.3" fill="#a9afcc" stroke="#8f96b8" stroke-width="0.6"/>
<ellipse cx="407.6" cy="651.1" rx="2.8" ry="3.0" fill="#a9afcc" stroke="#8f96b8" stroke-width="0.6"/>
<ellipse cx="401.8" cy="638.0" rx="2.9" ry="3.2" fill="#b3b8d2" stroke="#8f96b8" stroke-width="0.6"/>
<ellipse cx="409.1" cy="631.6" rx="2.9" ry="2.8" fill="#b3b8d2" stroke="#8f96b8" stroke-width="0.6"/>
<ellipse cx="401.1" cy="646.1" rx="3.3" ry="3.5" fill="#a9afcc" stroke="#8f96b8" stroke-width="0.6"/>
<ellipse cx="425.8" cy="641.3" rx="2.5" ry="3.1" fill="#9fa6c6" stroke="#8f96b8" stroke-width="0.6"/>
<ellipse cx="402.4" cy="660.1" rx="3.2" ry="2.6" fill="#bbbfd5" stroke="#8f96b8" stroke-width="0.6"/>
<ellipse cx="401.2" cy="627.2" rx="2.9" ry="2.7" fill="#9fa6c6" stroke="#8f96b8" stroke-width="0.6"/>
<ellipse cx="423.2" cy="647.9" rx="3.1" ry="2.9" fill="#9fa6c6" stroke="#8f96b8" stroke-width="0.6"/>
<ellipse cx="401.3" cy="668.2" rx="3.5" ry="3.5" fill="#b3b8d2" stroke="#8f96b8" stroke-width="0.6"/>
<ellipse cx="410.2" cy="620.7" rx="3.0" ry="2.6" fill="#9fa6c6" stroke="#8f96b8" stroke-width="0.6"/>
<ellipse cx="420.9" cy="617.4" rx="3.0" ry="2.6" fill="#bbbfd5" stroke="#8f96b8" stroke-width="0.6"/>
<ellipse cx="434.9" cy="637.9" rx="2.9" ry="2.8" fill="#b3b8d2" stroke="#8f96b8" stroke-width="0.6"/>
<ellipse cx="399.7" cy="620.2" rx="3.3" ry="2.9" fill="#9fa6c6" stroke="#8f96b8" stroke-width="0.6"/>
<ellipse cx="433.2" cy="646.9" rx="3.1" ry="3.0" fill="#a9afcc" stroke="#8f96b8" stroke-width="0.6"/>
<ellipse cx="410.6" cy="665.6" rx="2.9" ry="3.4" fill="#979fc2" stroke="#8f96b8" stroke-width="0.6"/>
<ellipse cx="426.7" cy="623.2" rx="3.3" ry="3.5" fill="#979fc2" stroke="#8f96b8" stroke-width="0.6"/>
<ellipse cx="425.0" cy="654.6" rx="3.0" ry="2.7" fill="#9fa6c6" stroke="#8f96b8" stroke-width="0.6"/>
<ellipse cx="410.6" cy="677.2" rx="3.6" ry="3.3" fill="#a9afcc" stroke="#8f96b8" stroke-width="0.6"/>
<ellipse cx="417.0" cy="628.9" rx="2.8" ry="2.9" fill="#a9afcc" stroke="#8f96b8" stroke-width="0.6"/>
<ellipse cx="431.9" cy="655.1" rx="3.1" ry="3.2" fill="#979fc2" stroke="#8f96b8" stroke-width="0.6"/>
<ellipse cx="399.6" cy="612.0" rx="2.9" ry="2.8" fill="#a9afcc" stroke="#8f96b8" stroke-width="0.6"/>
<ellipse cx="419.8" cy="609.7" rx="3.5" ry="3.1" fill="#bbbfd5" stroke="#8f96b8" stroke-width="0.6"/>
<ellipse cx="419.7" cy="663.8" rx="2.9" ry="3.1" fill="#9fa6c6" stroke="#8f96b8" stroke-width="0.6"/>
<ellipse cx="443.5" cy="638.2" rx="3.5" ry="3.6" fill="#a9afcc" stroke="#8f96b8" stroke-width="0.6"/>
<ellipse cx="435.1" cy="628.5" rx="2.8" ry="3.3" fill="#bbbfd5" stroke="#8f96b8" stroke-width="0.6"/>
<ellipse cx="426.9" cy="606.6" rx="2.8" ry="3.5" fill="#9fa6c6" stroke="#8f96b8" stroke-width="0.6"/>
<ellipse cx="430.3" cy="613.7" rx="3.3" ry="2.7" fill="#979fc2" stroke="#8f96b8" stroke-width="0.6"/>
<ellipse cx="402.0" cy="605.3" rx="3.4" ry="2.9" fill="#a9afcc" stroke="#8f96b8" stroke-width="0.6"/>
<ellipse cx="443.4" cy="631.3" rx="3.4" ry="3.0" fill="#b3b8d2" stroke="#8f96b8" stroke-width="0.6"/>
<ellipse cx="410.6" cy="611.1" rx="2.6" ry="2.9" fill="#b3b8d2" stroke="#8f96b8" stroke-width="0.6"/>
<ellipse cx="431.5" cy="663.3" rx="2.7" ry="3.2" fill="#bbbfd5" stroke="#8f96b8" stroke-width="0.6"/>
<ellipse cx="411.1" cy="602.7" rx="3.2" ry="3.2" fill="#b3b8d2" stroke="#8f96b8" stroke-width="0.6"/>
<ellipse cx="439.3" cy="619.1" rx="2.9" ry="2.8" fill="#bbbfd5" stroke="#8f96b8" stroke-width="0.6"/>
<ellipse cx="441.1" cy="654.0" rx="2.6" ry="3.0" fill="#9fa6c6" stroke="#8f96b8" stroke-width="0.6"/>
<ellipse cx="440.2" cy="661.9" rx="2.8" ry="3.3" fill="#bbbfd5" stroke="#8f96b8" stroke-width="0.6"/>
<ellipse cx="401.2" cy="653.2" rx="2.8" ry="2.5" fill="#9fa6c6" stroke="#8f96b8" stroke-width="0.6"/>
<ellipse cx="403.5" cy="598.1" rx="3.1" ry="3.1" fill="#979fc2" stroke="#8f96b8" stroke-width="0.6"/>
<ellipse cx="405.2" cy="682.3" rx="3.1" ry="2.9" fill="#9fa6c6" stroke="#8f96b8" stroke-width="0.6"/>
<ellipse cx="433.5" cy="604.1" rx="3.2" ry="2.7" fill="#bbbfd5" stroke="#8f96b8" stroke-width="0.6"/>
<ellipse cx="403.6" cy="586.3" rx="3.1" ry="3.4" fill="#b3b8d2" stroke="#8f96b8" stroke-width="0.6"/>
<ellipse cx="459.1" cy="639.6" rx="3.0" ry="3.1" fill="#b3b8d2" stroke="#8f96b8" stroke-width="0.6"/>
<ellipse cx="436.1" cy="670.5" rx="3.3" ry="2.7" fill="#b3b8d2" stroke="#8f96b8" stroke-width="0.6"/>
<ellipse cx="445.4" cy="667.1" rx="3.1" ry="3.5" fill="#bbbfd5" stroke="#8f96b8" stroke-width="0.6"/>
<ellipse cx="409.6" cy="591.3" rx="3.3" ry="2.9" fill="#9fa6c6" stroke="#8f96b8" stroke-width="0.6"/>
<ellipse cx="458.3" cy="659.9" rx="3.4" ry="2.9" fill="#979fc2" stroke="#8f96b8" stroke-width="0.6"/>
<ellipse cx="450.8" cy="629.1" rx="3.0" ry="3.1" fill="#bbbfd5" stroke="#8f96b8" stroke-width="0.6"/>
<ellipse cx="420.7" cy="600.6" rx="2.7" ry="3.3" fill="#bbbfd5" stroke="#8f96b8" stroke-width="0.6"/>
<ellipse cx="450.5" cy="636.6" rx="2.9" ry="2.3" fill="#979fc2" stroke="#8f96b8" stroke-width="0.6"/>
<ellipse cx="442.8" cy="612.7" rx="2.5" ry="2.8" fill="#a9afcc" stroke="#8f96b8" stroke-width="0.6"/>
<ellipse cx="419.1" cy="592.0" rx="3.6" ry="2.9" fill="#bbbfd5" stroke="#8f96b8" stroke-width="0.6"/>
<ellipse cx="466.9" cy="643.9" rx="2.6" ry="2.9" fill="#9fa6c6" stroke="#8f96b8" stroke-width="0.6"/>
<ellipse cx="433.2" cy="679.3" rx="3.1" ry="2.9" fill="#9fa6c6" stroke="#8f96b8" stroke-width="0.6"/>
<ellipse cx="442.0" cy="676.8" rx="2.9" ry="3.3" fill="#bbbfd5" stroke="#8f96b8" stroke-width="0.6"/>
<ellipse cx="454.2" cy="665.5" rx="2.5" ry="3.0" fill="#a9afcc" stroke="#8f96b8" stroke-width="0.6"/>
<ellipse cx="447.0" cy="607.0" rx="3.4" ry="3.0" fill="#bbbfd5" stroke="#8f96b8" stroke-width="0.6"/>
<ellipse cx="425.7" cy="594.3" rx="2.7" ry="3.4" fill="#979fc2" stroke="#8f96b8" stroke-width="0.6"/>
<ellipse cx="414.4" cy="684.9" rx="2.8" ry="3.4" fill="#979fc2" stroke="#8f96b8" stroke-width="0.6"/>
<ellipse cx="428.7" cy="672.9" rx="2.8" ry="3.5" fill="#979fc2" stroke="#8f96b8" stroke-width="0.6"/>
<ellipse cx="447.8" cy="621.6" rx="2.5" ry="3.0" fill="#9fa6c6" stroke="#8f96b8" stroke-width="0.6"/>
<ellipse cx="457.1" cy="625.4" rx="2.9" ry="3.1" fill="#979fc2" stroke="#8f96b8" stroke-width="0.6"/>
<ellipse cx="467.4" cy="636.3" rx="2.8" ry="2.2" fill="#979fc2" stroke="#8f96b8" stroke-width="0.6"/>
<ellipse cx="418.4" cy="671.2" rx="2.5" ry="2.9" fill="#a9afcc" stroke="#8f96b8" stroke-width="0.6"/>
<ellipse cx="444.2" cy="685.7" rx="3.6" ry="3.5" fill="#a9afcc" stroke="#8f96b8" stroke-width="0.6"/>
<ellipse cx="413.7" cy="582.3" rx="2.9" ry="3.2" fill="#bbbfd5" stroke="#8f96b8" stroke-width="0.6"/>
<ellipse cx="453.1" cy="616.9" rx="2.9" ry="2.6" fill="#979fc2" stroke="#8f96b8" stroke-width="0.6"/>
<ellipse cx="460.7" cy="668.0" rx="3.4" ry="3.1" fill="#a9afcc" stroke="#8f96b8" stroke-width="0.6"/>
<ellipse cx="458.2" cy="608.7" rx="3.6" ry="3.4" fill="#bbbfd5" stroke="#8f96b8" stroke-width="0.6"/>
<ellipse cx="399.0" cy="675.2" rx="2.9" ry="2.8" fill="#9fa6c6" stroke="#8f96b8" stroke-width="0.6"/>
<ellipse cx="461.9" cy="630.1" rx="3.2" ry="3.0" fill="#9fa6c6" stroke="#8f96b8" stroke-width="0.6"/>
<ellipse cx="432.8" cy="591.0" rx="3.3" ry="3.5" fill="#9fa6c6" stroke="#8f96b8" stroke-width="0.6"/>
<ellipse cx="427.1" cy="684.8" rx="3.3" ry="3.4" fill="#9fa6c6" stroke="#8f96b8" stroke-width="0.6"/>
<ellipse cx="452.4" cy="675.1" rx="2.7" ry="3.3" fill="#b3b8d2" stroke="#8f96b8" stroke-width="0.6"/>
<ellipse cx="423.5" cy="586.7" rx="3.2" ry="3.2" fill="#979fc2" stroke="#8f96b8" stroke-width="0.6"/>
<ellipse cx="430.2" cy="581.3" rx="3.2" ry="2.8" fill="#bbbfd5" stroke="#8f96b8" stroke-width="0.6"/>
<ellipse cx="460.8" cy="615.4" rx="2.7" ry="3.0" fill="#bbbfd5" stroke="#8f96b8" stroke-width="0.6"/>
<ellipse cx="399.3" cy="592.6" rx="2.9" ry="3.1" fill="#9fa6c6" stroke="#8f96b8" stroke-width="0.6"/>
<ellipse cx="451.4" cy="685.6" rx="2.9" ry="3.0" fill="#a9afcc" stroke="#8f96b8" stroke-width="0.6"/>
<ellipse cx="468.0" cy="619.1" rx="2.8" ry="2.9" fill="#9fa6c6" stroke="#8f96b8" stroke-width="0.6"/>
<ellipse cx="469.6" cy="629.9" rx="3.3" ry="3.1" fill="#a9afcc" stroke="#8f96b8" stroke-width="0.6"/>
<ellipse cx="438.3" cy="586.5" rx="2.6" ry="2.9" fill="#979fc2" stroke="#8f96b8" stroke-width="0.6"/>
<ellipse cx="469.9" cy="656.3" rx="3.0" ry="3.1" fill="#bbbfd5" stroke="#8f96b8" stroke-width="0.6"/>
<ellipse cx="420.6" cy="677.5" rx="2.8" ry="2.8" fill="#b3b8d2" stroke="#8f96b8" stroke-width="0.6"/>
<ellipse cx="475.4" cy="641.6" rx="2.7" ry="3.0" fill="#979fc2" stroke="#8f96b8" stroke-width="0.6"/>
<ellipse cx="474.4" cy="649.6" rx="3.1" ry="3.4" fill="#9fa6c6" stroke="#8f96b8" stroke-width="0.6"/>
<ellipse cx="454.8" cy="600.1" rx="3.1" ry="2.9" fill="#a9afcc" stroke="#8f96b8" stroke-width="0.6"/>
<ellipse cx="470.6" cy="612.7" rx="3.3" ry="2.7" fill="#bbbfd5" stroke="#8f96b8" stroke-width="0.6"/>
<ellipse cx="400.0" cy="580.3" rx="3.3" ry="3.0" fill="#979fc2" stroke="#8f96b8" stroke-width="0.6"/>
<ellipse cx="440.2" cy="593.9" rx="3.0" ry="3.5" fill="#bbbfd5" stroke="#8f96b8" stroke-width="0.6"/>
<ellipse cx="445.8" cy="598.0" rx="3.5" ry="3.4" fill="#a9afcc" stroke="#8f96b8" stroke-width="0.6"/>
<ellipse cx="459.4" cy="680.1" rx="3.3" ry="2.7" fill="#b3b8d2" stroke="#8f96b8" stroke-width="0.6"/>
<ellipse cx="465.0" cy="602.2" rx="3.5" ry="3.4" fill="#9fa6c6" stroke="#8f96b8" stroke-width="0.6"/>
<ellipse cx="446.4" cy="585.1" rx="3.4" ry="2.8" fill="#b3b8d2" stroke="#8f96b8" stroke-width="0.6"/>
<ellipse cx="476.1" cy="601.1" rx="2.8" ry="3.2" fill="#b3b8d2" stroke="#8f96b8" stroke-width="0.6"/>
<ellipse cx="448.9" cy="591.7" rx="2.3" ry="2.8" fill="#bbbfd5" stroke="#8f96b8" stroke-width="0.6"/>
<ellipse cx="474.5" cy="620.4" rx="3.4" ry="2.8" fill="#a9afcc" stroke="#8f96b8" stroke-width="0.6"/>
<ellipse cx="479.9" cy="655.0" rx="2.9" ry="2.4" fill="#979fc2" stroke="#8f96b8" stroke-width="0.6"/>
<ellipse cx="475.9" cy="632.0" rx="3.2" ry="3.5" fill="#b3b8d2" stroke="#8f96b8" stroke-width="0.6"/>
<ellipse cx="480.8" cy="646.5" rx="3.1" ry="2.8" fill="#bbbfd5" stroke="#8f96b8" stroke-width="0.6"/>
<ellipse cx="482.0" cy="627.3" rx="2.8" ry="3.5" fill="#bbbfd5" stroke="#8f96b8" stroke-width="0.6"/>
<ellipse cx="478.7" cy="610.9" rx="3.1" ry="2.5" fill="#b3b8d2" stroke="#8f96b8" stroke-width="0.6"/>
<ellipse cx="468.5" cy="673.7" rx="3.0" ry="3.0" fill="#a9afcc" stroke="#8f96b8" stroke-width="0.6"/>
<ellipse cx="469.6" cy="666.7" rx="3.3" ry="3.4" fill="#a9afcc" stroke="#8f96b8" stroke-width="0.6"/>
<ellipse cx="475.3" cy="591.0" rx="3.0" ry="3.1" fill="#bbbfd5" stroke="#8f96b8" stroke-width="0.6"/>
<ellipse cx="457.2" cy="589.4" rx="3.4" ry="3.2" fill="#979fc2" stroke="#8f96b8" stroke-width="0.6"/>
<ellipse cx="470.0" cy="598.0" rx="2.9" ry="3.4" fill="#9fa6c6" stroke="#8f96b8" stroke-width="0.6"/>
<ellipse cx="440.5" cy="605.0" rx="3.1" ry="3.4" fill="#a9afcc" stroke="#8f96b8" stroke-width="0.6"/>
<ellipse cx="477.1" cy="667.1" rx="3.2" ry="3.2" fill="#bbbfd5" stroke="#8f96b8" stroke-width="0.6"/>
<ellipse cx="470.3" cy="684.6" rx="3.4" ry="3.1" fill="#b3b8d2" stroke="#8f96b8" stroke-width="0.6"/>
<ellipse cx="483.4" cy="591.5" rx="3.3" ry="3.2" fill="#979fc2" stroke="#8f96b8" stroke-width="0.6"/>
<ellipse cx="485.9" cy="609.2" rx="3.0" ry="3.0" fill="#9fa6c6" stroke="#8f96b8" stroke-width="0.6"/>
<ellipse cx="493.8" cy="607.8" rx="2.8" ry="3.5" fill="#9fa6c6" stroke="#8f96b8" stroke-width="0.6"/>
<ellipse cx="487.0" cy="641.4" rx="2.7" ry="3.5" fill="#a9afcc" stroke="#8f96b8" stroke-width="0.6"/>
<ellipse cx="490.5" cy="600.8" rx="2.7" ry="3.0" fill="#9fa6c6" stroke="#8f96b8" stroke-width="0.6"/>
<ellipse cx="482.5" cy="603.0" rx="3.1" ry="2.5" fill="#a9afcc" stroke="#8f96b8" stroke-width="0.6"/>
<ellipse cx="486.5" cy="654.4" rx="3.0" ry="3.1" fill="#a9afcc" stroke="#8f96b8" stroke-width="0.6"/>
<ellipse cx="481.1" cy="619.1" rx="3.0" ry="3.2" fill="#bbbfd5" stroke="#8f96b8" stroke-width="0.6"/>
<ellipse cx="489.4" cy="622.3" rx="2.7" ry="3.3" fill="#979fc2" stroke="#8f96b8" stroke-width="0.6"/>
<ellipse cx="476.4" cy="674.1" rx="3.2" ry="3.5" fill="#979fc2" stroke="#8f96b8" stroke-width="0.6"/>
<ellipse cx="486.1" cy="662.2" rx="3.4" ry="3.0" fill="#a9afcc" stroke="#8f96b8" stroke-width="0.6"/>
<ellipse cx="460.6" cy="596.4" rx="3.0" ry="3.4" fill="#9fa6c6" stroke="#8f96b8" stroke-width="0.6"/>
<ellipse cx="491.1" cy="629.1" rx="2.8" ry="2.8" fill="#9fa6c6" stroke="#8f96b8" stroke-width="0.6"/>
<ellipse cx="483.6" cy="635.6" rx="3.6" ry="3.6" fill="#bbbfd5" stroke="#8f96b8" stroke-width="0.6"/>
<ellipse cx="496.6" cy="614.6" rx="3.1" ry="3.2" fill="#a9afcc" stroke="#8f96b8" stroke-width="0.6"/>
<ellipse cx="492.7" cy="635.9" rx="2.6" ry="3.3" fill="#a9afcc" stroke="#8f96b8" stroke-width="0.6"/>
<ellipse cx="487.3" cy="671.3" rx="2.9" ry="3.4" fill="#bbbfd5" stroke="#8f96b8" stroke-width="0.6"/>
<ellipse cx="501.7" cy="642.3" rx="3.5" ry="3.3" fill="#979fc2" stroke="#8f96b8" stroke-width="0.6"/>
<ellipse cx="499.8" cy="635.4" rx="3.3" ry="3.2" fill="#b3b8d2" stroke="#8f96b8" stroke-width="0.6"/>
<ellipse cx="478.2" cy="681.3" rx="3.2" ry="3.4" fill="#979fc2" stroke="#8f96b8" stroke-width="0.6"/>
<ellipse cx="486.0" cy="678.4" rx="3.4" ry="2.9" fill="#979fc2" stroke="#8f96b8" stroke-width="0.6"/>
<ellipse cx="467.2" cy="591.6" rx="3.4" ry="2.8" fill="#bbbfd5" stroke="#8f96b8" stroke-width="0.6"/>
<ellipse cx="489.8" cy="583.4" rx="2.9" ry="2.6" fill="#9fa6c6" stroke="#8f96b8" stroke-width="0.6"/>
<ellipse cx="494.0" cy="590.5" rx="3.2" ry="3.3" fill="#b3b8d2" stroke="#8f96b8" stroke-width="0.6"/>
<ellipse cx="505.0" cy="630.9" rx="3.1" ry="2.9" fill="#b3b8d2" stroke="#8f96b8" stroke-width="0.6"/>
<ellipse cx="498.2" cy="627.1" rx="3.1" ry="2.9" fill="#9fa6c6" stroke="#8f96b8" stroke-width="0.6"/>
<ellipse cx="493.2" cy="665.8" rx="3.1" ry="3.4" fill="#9fa6c6" stroke="#8f96b8" stroke-width="0.6"/>
<ellipse cx="490.8" cy="683.0" rx="2.3" ry="2.8" fill="#a9afcc" stroke="#8f96b8" stroke-width="0.6"/>
<ellipse cx="488.7" cy="615.7" rx="2.8" ry="2.5" fill="#979fc2" stroke="#8f96b8" stroke-width="0.6"/>
<ellipse cx="488.4" cy="648.0" rx="3.3" ry="2.9" fill="#bbbfd5" stroke="#8f96b8" stroke-width="0.6"/>
<ellipse cx="492.9" cy="674.8" rx="3.4" ry="3.5" fill="#bbbfd5" stroke="#8f96b8" stroke-width="0.6"/>
<ellipse cx="505.9" cy="619.1" rx="2.6" ry="3.0" fill="#bbbfd5" stroke="#8f96b8" stroke-width="0.6"/>
<ellipse cx="494.3" cy="657.5" rx="2.7" ry="3.3" fill="#a9afcc" stroke="#8f96b8" stroke-width="0.6"/>
<ellipse cx="495.0" cy="646.3" rx="3.4" ry="3.5" fill="#9fa6c6" stroke="#8f96b8" stroke-width="0.6"/>
<ellipse cx="501.0" cy="606.8" rx="2.7" ry="2.9" fill="#a9afcc" stroke="#8f96b8" stroke-width="0.6"/>
<ellipse cx="505.8" cy="653.0" rx="3.3" ry="2.7" fill="#9fa6c6" stroke="#8f96b8" stroke-width="0.6"/>
<ellipse cx="499.6" cy="599.7" rx="2.8" ry="3.3" fill="#bbbfd5" stroke="#8f96b8" stroke-width="0.6"/>
<ellipse cx="502.6" cy="664.7" rx="3.0" ry="3.2" fill="#bbbfd5" stroke="#8f96b8" stroke-width="0.6"/>
<ellipse cx="499.9" cy="672.5" rx="2.9" ry="2.9" fill="#a9afcc" stroke="#8f96b8" stroke-width="0.6"/>
<ellipse cx="479.3" cy="580.6" rx="2.9" ry="2.4" fill="#a9afcc" stroke="#8f96b8" stroke-width="0.6"/>
<ellipse cx="500.6" cy="588.9" rx="3.4" ry="3.5" fill="#979fc2" stroke="#8f96b8" stroke-width="0.6"/>
<ellipse cx="455.4" cy="580.0" rx="2.3" ry="2.9" fill="#b3b8d2" stroke="#8f96b8" stroke-width="0.6"/>
<ellipse cx="465.1" cy="583.0" rx="2.9" ry="3.5" fill="#bbbfd5" stroke="#8f96b8" stroke-width="0.6"/>
<ellipse cx="497.0" cy="581.3" rx="3.0" ry="3.4" fill="#979fc2" stroke="#8f96b8" stroke-width="0.6"/>
<ellipse cx="472.2" cy="580.4" rx="3.4" ry="3.0" fill="#979fc2" stroke="#8f96b8" stroke-width="0.6"/>
<ellipse cx="498.3" cy="685.6" rx="3.1" ry="2.8" fill="#979fc2" stroke="#8f96b8" stroke-width="0.6"/>
<ellipse cx="505.6" cy="677.8" rx="2.7" ry="3.3" fill="#9fa6c6" stroke="#8f96b8" stroke-width="0.6"/>
<ellipse cx="505.2" cy="684.9" rx="3.2" ry="3.2" fill="#b3b8d2" stroke="#8f96b8" stroke-width="0.6"/>
<ellipse cx="505.6" cy="583.6" rx="3.3" ry="2.8" fill="#bbbfd5" stroke="#8f96b8" stroke-width="0.6"/>
<ellipse cx="505.2" cy="594.6" rx="3.3" ry="2.9" fill="#9fa6c6" stroke="#8f96b8" stroke-width="0.6"/>
</g></g>
<line x1="409.7" y1="674.6" x2="431.7" y2="674.6" stroke="#000" stroke-width="1.7"/>
<text x="408.9" y="598.3" font-size="12" text-anchor="start" font-weight="bold" fill="#000" stroke="#000" stroke-width="0.3">J</text>
<rect x="0.5" y="0.5" width="519" height="709" fill="none" stroke="#000" stroke-width="1.2"/>
</svg>
</body></html>
